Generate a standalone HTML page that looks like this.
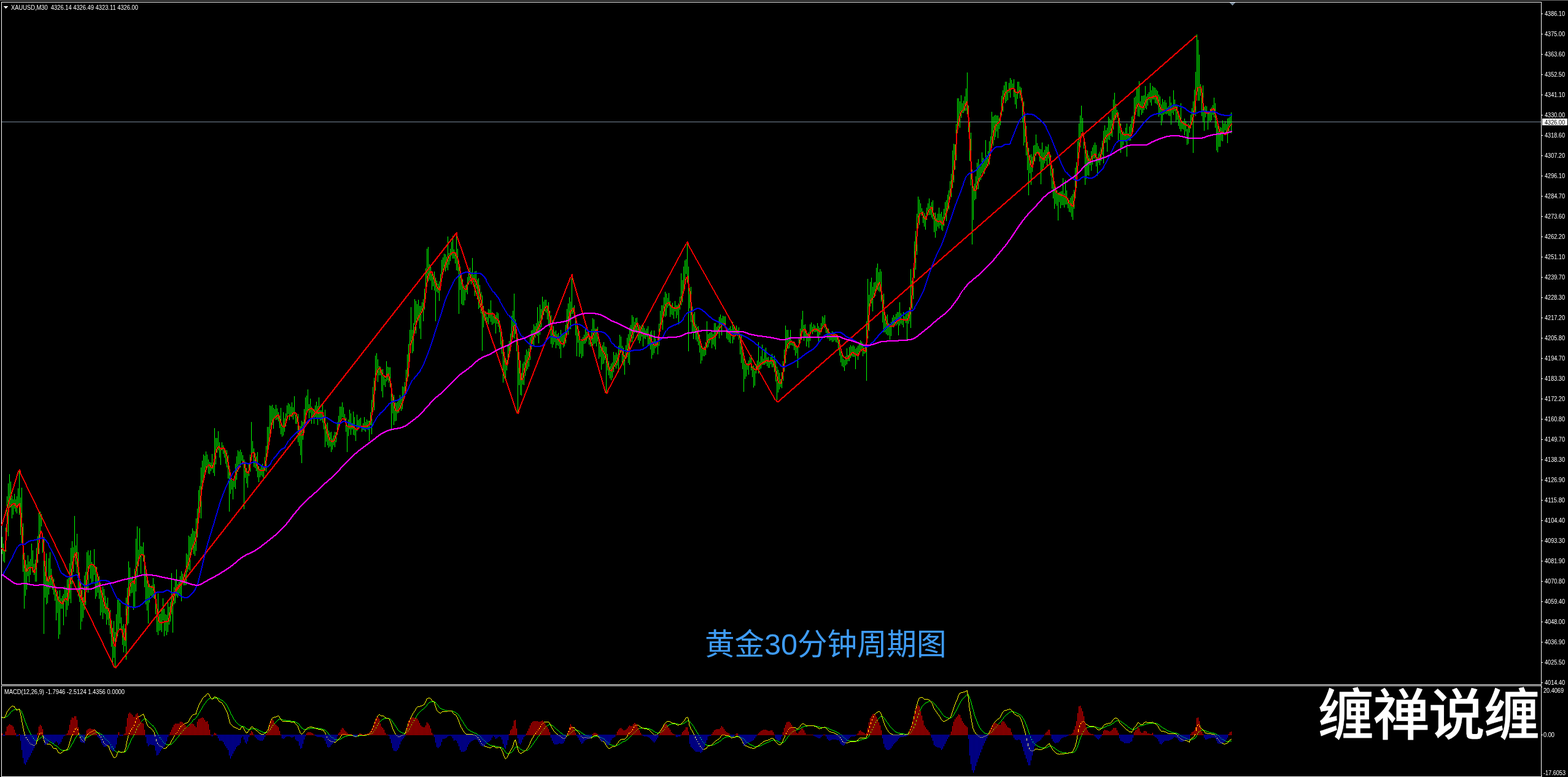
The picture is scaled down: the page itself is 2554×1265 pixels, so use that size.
<!DOCTYPE html>
<html lang="zh"><head><meta charset="utf-8"><title>XAUUSD,M30</title>
<style>
html,body{margin:0;padding:0;background:#000;overflow:hidden}
body{width:2554px;height:1265px;position:relative}
svg{position:absolute;left:0;top:0;display:block}
text{font-family:"Liberation Sans", "Noto Sans CJK SC", sans-serif;}
.ax{font-size:10px;fill:#fff}
.l{fill:none;stroke-width:2;stroke-linejoin:round;stroke-linecap:butt}
</style></head><body>
<svg width="2554" height="1265" viewBox="0 0 2554 1265">
<rect width="2554" height="1265" fill="#000"/>
<g shape-rendering="crispEdges">
<rect x="0" y="0" width="2554" height="1" fill="#707070"/>
<path d="M2.5 1114.5V3.5H2510.5V1265" fill="none" stroke="#fff" stroke-width="1"/>
<path d="M2 1114.5H2511" fill="none" stroke="#fff" stroke-width="1"/>
<path d="M2.5 1265V1116.5H2511" fill="none" stroke="#fff" stroke-width="1"/>
<path d="M2 1264.5H2511" fill="none" stroke="#fff" stroke-width="1"/>
<path d="M2511 22.5H2513M2511 55.5H2513M2511 88.5H2513M2511 121.5H2513M2511 154.5H2513M2511 187.5H2513M2511 220.5H2513M2511 253.5H2513M2511 286.5H2513M2511 319.5H2513M2511 352.5H2513M2511 385.5H2513M2511 418.5H2513M2511 451.5H2513M2511 484.5H2513M2511 517.5H2513M2511 550.5H2513M2511 583.5H2513M2511 616.5H2513M2511 649.5H2513M2511 682.5H2513M2511 715.5H2513M2511 748.5H2513M2511 781.5H2513M2511 814.5H2513M2511 847.5H2513M2511 880.5H2513M2511 913.5H2513M2511 946.5H2513M2511 979.5H2513M2511 1012.5H2513M2511 1045.5H2513M2511 1078.5H2513M2511 1111.5H2513M2511 1118.5H2512M2511 1196.5H2513M2511 1263.5H2512" stroke="#fff" stroke-width="1" fill="none"/>
<rect x="3" y="198" width="2507" height="1" fill="#778899"/>
<path d="M3.5 874V902M5.5 885V914M7.5 895V916M9.5 859V898M11.5 808V866M13.5 787V873M15.5 772V824M17.5 784V826M19.5 807V844M21.5 813V838M23.5 804V828M25.5 813V833M27.5 808V836M29.5 795V822M31.5 765V838M33.5 810V871M35.5 794V884M37.5 852V931M39.5 900V991M41.5 912V970M43.5 919V960M45.5 904V938M47.5 914V948M49.5 910V936M51.5 885V922M53.5 896V932M55.5 918V936M57.5 911V947M59.5 892V947M61.5 873V916M63.5 835V902M65.5 833V869M67.5 837V857M69.5 868V900M71.5 874V1032M73.5 918V973M75.5 901V984M77.5 940V982M79.5 909V968M81.5 899V958M83.5 926V953M85.5 939V960M87.5 942V968M89.5 955V978M91.5 965V1010M93.5 962V998M95.5 971V1040M97.5 961V1033M99.5 974V991M101.5 970V991M103.5 967V1018M105.5 955V980M107.5 959V1004M109.5 943V993M111.5 941V986M113.5 917V975M115.5 892V982M117.5 881V951M119.5 891V931M121.5 840V902M123.5 888V919M125.5 869V933M127.5 899V971M129.5 933V980M131.5 948V1025M133.5 955V1012M135.5 972V1006M137.5 937V993M139.5 931V985M141.5 899V958M143.5 896V965M145.5 904V926M147.5 896V942M149.5 915V949M151.5 920V947M153.5 894V936M155.5 922V975M157.5 923V971M159.5 934V965M161.5 938V975M163.5 949V1002M165.5 961V997M167.5 955V1008M169.5 959V998M171.5 970V1000M173.5 982V1017M175.5 973V1009M177.5 990V1018M179.5 993V1032M181.5 1010V1053M183.5 1022V1079M185.5 1011V1071M187.5 1029V1086M189.5 1000V1042M191.5 976V1036M193.5 974V1025M195.5 981V1015M197.5 1005V1026M199.5 1019V1050M201.5 1016V1062M203.5 1023V1052M205.5 973V1074M207.5 957V1018M209.5 914V1015M211.5 924V971M213.5 940V966M215.5 938V965M217.5 945V993M219.5 926V988M221.5 877V963M223.5 857V940M225.5 895V922M227.5 860V904M229.5 889V934M231.5 890V904M233.5 883V914M235.5 904V956M237.5 932V984M239.5 943V994M241.5 950V1015M243.5 951V981M245.5 955V970M247.5 953V972M249.5 941V973M251.5 951V975M253.5 966V1000M255.5 984V1029M257.5 966V1034M259.5 1000V1027M261.5 999V1026M263.5 993V1029M265.5 974V1010M267.5 991V1036M269.5 1000V1027M271.5 1001V1034M273.5 981V1029M275.5 988V1017M277.5 980V1012M279.5 933V1000M281.5 966V1030M283.5 956V984M285.5 945V982M287.5 927V970M289.5 951V973M291.5 947V967M293.5 938V968M295.5 930V979M297.5 934V949M299.5 937V953M301.5 931V953M303.5 901V952M305.5 903V931M307.5 872V927M309.5 874V929M311.5 869V897M313.5 860V889M315.5 864V902M317.5 865V905M319.5 844V897M321.5 828V875M323.5 798V850M325.5 791V832M327.5 761V844M329.5 750V792M331.5 740V783M333.5 742V772M335.5 735V769M337.5 740V762M339.5 748V771M341.5 752V772M343.5 753V767M345.5 739V764M347.5 753V770M349.5 697V775M351.5 713V756M353.5 713V737M355.5 702V733M357.5 720V745M359.5 732V757M361.5 720V733M363.5 725V739M365.5 730V745M367.5 733V755M369.5 733V761M371.5 741V779M373.5 761V833M375.5 775V804M377.5 779V797M379.5 783V813M381.5 777V793M383.5 755V796M385.5 743V781M387.5 733V768M389.5 735V756M391.5 732V761M393.5 736V750M395.5 741V756M397.5 748V829M399.5 752V778M401.5 762V787M403.5 767V794M405.5 755V775M407.5 740V768M409.5 687V745M411.5 718V738M413.5 730V760M415.5 738V762M417.5 743V767M419.5 736V777M421.5 759V785M423.5 763V777M425.5 759V774M427.5 755V776M429.5 760V778M431.5 744V766M433.5 726V768M435.5 695V744M437.5 695V723M439.5 660V714M441.5 661V704M443.5 659V691M445.5 664V698M447.5 666V680M449.5 659V684M451.5 665V683M453.5 671V686M455.5 677V697M457.5 664V707M459.5 692V711M461.5 671V709M463.5 681V703M465.5 673V694M467.5 660V679M469.5 656V674M471.5 658V684M473.5 662V677M475.5 655V679M477.5 663V683M479.5 645V675M481.5 675V690M483.5 673V690M485.5 674V720M487.5 695V726M489.5 694V741M491.5 685V754M493.5 687V716M495.5 666V698M497.5 647V681M499.5 644V672M501.5 634V669M503.5 658V681M505.5 649V672M507.5 662V690M509.5 666V681M511.5 666V690M513.5 660V679M515.5 654V681M517.5 661V692M519.5 647V681M521.5 668V685M523.5 668V684M525.5 656V688M527.5 677V699M529.5 667V728M531.5 691V719M533.5 688V725M535.5 701V729M537.5 704V727M539.5 703V736M541.5 714V732M543.5 709V725M545.5 703V728M547.5 704V720M549.5 687V708M551.5 677V700M553.5 662V693M555.5 662V684M557.5 655V679M559.5 663V680M561.5 674V687M563.5 680V703M565.5 694V736M567.5 683V710M569.5 667V699M571.5 673V708M573.5 689V699M575.5 670V708M577.5 679V709M579.5 697V718M581.5 675V702M583.5 684V699M585.5 682V694M587.5 680V696M589.5 694V703M591.5 689V700M593.5 679V701M595.5 687V703M597.5 683V698M599.5 685V700M601.5 685V718M603.5 671V692M605.5 651V707M607.5 630V667M609.5 615V668M611.5 579V636M613.5 575V606M615.5 585V622M617.5 596V611M619.5 597V611M621.5 602V637M623.5 601V647M625.5 613V627M627.5 617V630M629.5 588V621M631.5 597V619M633.5 598V623M635.5 598V630M637.5 627V701M639.5 642V673M641.5 643V692M643.5 655V686M645.5 656V685M647.5 654V673M649.5 650V672M651.5 643V664M653.5 648V669M655.5 629V666M657.5 630V652M659.5 622V647M661.5 602V635M663.5 577V614M665.5 560V613M667.5 537V589M669.5 500V556M671.5 537V575M673.5 526V572M675.5 487V529M677.5 490V543M679.5 495V525M681.5 488V522M683.5 498V535M685.5 498V552M687.5 492V507M689.5 487V523M691.5 470V504M693.5 437V476M695.5 405V459M697.5 402V458M699.5 430V455M701.5 434V457M703.5 447V472M705.5 446V466M707.5 442V473M709.5 452V523M711.5 457V475M713.5 462V477M715.5 458V490M717.5 446V467M719.5 423V453M721.5 419V444M723.5 413V439M725.5 414V442M727.5 418V436M729.5 385V440M731.5 412V431M733.5 405V425M735.5 394V416M737.5 384V421M739.5 406V421M741.5 413V429M743.5 379V440M745.5 405V441M747.5 426V511M749.5 434V472M751.5 454V495M753.5 455V497M755.5 466V497M757.5 465V489M759.5 463V476M761.5 451V479M763.5 438V463M765.5 436V457M767.5 443V463M769.5 420V454M771.5 447V459M773.5 442V482M775.5 441V470M777.5 455V487M779.5 453V503M781.5 464V501M783.5 475V510M785.5 481V571M787.5 498V533M789.5 507V522M791.5 511V525M793.5 516V525M795.5 503V528M797.5 504V518M799.5 489V524M801.5 508V529M803.5 515V527M805.5 512V526M807.5 513V543M809.5 508V527M811.5 510V532M813.5 522V541M815.5 531V561M817.5 543V576M819.5 553V623M821.5 581V616M823.5 583V617M825.5 586V603M827.5 561V591M829.5 555V579M831.5 543V572M833.5 514V555M835.5 506V549M837.5 478V551M839.5 520V544M841.5 541V572M843.5 553V672M845.5 573V627M847.5 587V643M849.5 607V644M851.5 592V626M853.5 589V627M855.5 578V612M857.5 569V604M859.5 572V601M861.5 567V597M863.5 549V586M865.5 538V569M867.5 537V560M869.5 528V563M871.5 531V550M873.5 526V545M875.5 500V547M877.5 523V559M879.5 496V545M881.5 503V533M883.5 483V520M885.5 491V513M887.5 488V507M889.5 488V509M891.5 497V520M893.5 492V528M895.5 506V533M897.5 513V560M899.5 521V566M901.5 531V561M903.5 540V557M905.5 538V567M907.5 544V562M909.5 542V563M911.5 548V568M913.5 537V583M915.5 543V557M917.5 545V566M919.5 544V564M921.5 529V559M923.5 503V542M925.5 494V545M927.5 484V524M929.5 491V536M931.5 447V511M933.5 500V511M935.5 497V518M937.5 514V546M939.5 526V580M941.5 531V558M943.5 539V581M945.5 555V576M947.5 552V583M949.5 549V580M951.5 545V560M953.5 534V559M955.5 540V556M957.5 537V551M959.5 547V561M961.5 547V564M963.5 536V554M965.5 518V563M967.5 520V560M969.5 535V559M971.5 535V564M973.5 532V556M975.5 551V584M977.5 557V581M979.5 569V602M981.5 562V593M983.5 557V592M985.5 564V586M987.5 565V639M989.5 576V603M991.5 588V611M993.5 596V616M995.5 592V619M997.5 590V615M999.5 573V606M1001.5 578V597M1003.5 574V600M1005.5 577V595M1007.5 563V606M1009.5 545V572M1011.5 548V574M1013.5 563V590M1015.5 566V595M1017.5 578V610M1019.5 562V584M1021.5 550V581M1023.5 544V591M1025.5 533V594M1027.5 529V556M1029.5 513V557M1031.5 516V551M1033.5 524V542M1035.5 518V541M1037.5 517V542M1039.5 527V554M1041.5 529V559M1043.5 531V555M1045.5 529V548M1047.5 530V564M1049.5 534V551M1051.5 538V552M1053.5 535V548M1055.5 531V564M1057.5 545V563M1059.5 540V569M1061.5 538V584M1063.5 556V578M1065.5 538V575M1067.5 551V567M1069.5 555V565M1071.5 548V577M1073.5 527V563M1075.5 506V540M1077.5 497V528M1079.5 497V537M1081.5 484V514M1083.5 475V516M1085.5 478V514M1087.5 485V501M1089.5 477V498M1091.5 490V516M1093.5 496V512M1095.5 493V513M1097.5 500V519M1099.5 490V507M1101.5 497V518M1103.5 497V513M1105.5 494V528M1107.5 483V504M1109.5 445V497M1111.5 456V492M1113.5 434V478M1115.5 424V460M1117.5 422V446M1119.5 395V460M1121.5 434V572M1123.5 469V502M1125.5 467V524M1127.5 499V541M1129.5 511V552M1131.5 508V542M1133.5 528V553M1135.5 532V556M1137.5 531V562M1139.5 545V574M1141.5 557V592M1143.5 566V587M1145.5 566V580M1147.5 564V580M1149.5 557V578M1151.5 523V567M1153.5 544V565M1155.5 542V559M1157.5 541V554M1159.5 541V567M1161.5 544V561M1163.5 526V564M1165.5 526V569M1167.5 532V546M1169.5 530V543M1171.5 516V551M1173.5 512V529M1175.5 518V546M1177.5 514V530M1179.5 515V531M1181.5 515V532M1183.5 536V551M1185.5 536V553M1187.5 534V557M1189.5 531V559M1191.5 536V547M1193.5 524V559M1195.5 530V553M1197.5 533V545M1199.5 530V545M1201.5 537V547M1203.5 533V553M1205.5 546V577M1207.5 544V591M1209.5 574V601M1211.5 576V638M1213.5 592V617M1215.5 591V613M1217.5 591V602M1219.5 587V610M1221.5 581V594M1223.5 578V603M1225.5 596V614M1227.5 595V631M1229.5 604V628M1231.5 593V608M1233.5 587V601M1235.5 557V608M1237.5 589V602M1239.5 580V600M1241.5 561V594M1243.5 584V594M1245.5 569V594M1247.5 566V592M1249.5 582V596M1251.5 581V599M1253.5 589V599M1255.5 581V593M1257.5 576V598M1259.5 585V598M1261.5 579V606M1263.5 588V621M1265.5 597V654M1267.5 602V639M1269.5 607V634M1271.5 617V630M1273.5 606V632M1275.5 588V620M1277.5 569V605M1279.5 530V591M1281.5 537V572M1283.5 537V568M1285.5 549V567M1287.5 537V562M1289.5 554V562M1291.5 556V563M1293.5 556V570M1295.5 562V579M1297.5 562V575M1299.5 564V599M1301.5 550V566M1303.5 535V555M1305.5 520V553M1307.5 506V540M1309.5 529V555M1311.5 528V548M1313.5 539V564M1315.5 543V556M1317.5 541V566M1319.5 528V555M1321.5 525V539M1323.5 532V544M1325.5 528V540M1327.5 530V541M1329.5 534V540M1331.5 526V550M1333.5 531V556M1335.5 534V545M1337.5 526V541M1339.5 515V531M1341.5 517V529M1343.5 513V534M1345.5 528V542M1347.5 535V551M1349.5 535V551M1351.5 541V555M1353.5 543V554M1355.5 539V557M1357.5 542V556M1359.5 543V554M1361.5 544V557M1363.5 546V558M1365.5 550V568M1367.5 553V579M1369.5 566V590M1371.5 572V596M1373.5 584V598M1375.5 586V604M1377.5 580V595M1379.5 567V593M1381.5 578V588M1383.5 565V588M1385.5 562V583M1387.5 564V580M1389.5 562V581M1391.5 564V581M1393.5 568V601M1395.5 566V579M1397.5 563V586M1399.5 560V575M1401.5 554V571M1403.5 556V568M1405.5 559V580M1407.5 566V576M1409.5 563V575M1411.5 523V620M1413.5 454V551M1415.5 480V539M1417.5 459V493M1419.5 452V494M1421.5 467V507M1423.5 460V482M1425.5 459V482M1427.5 436V471M1429.5 429V472M1431.5 443V474M1433.5 438V476M1435.5 442V491M1437.5 481V525M1439.5 478V541M1441.5 511V541M1443.5 515V544M1445.5 512V546M1447.5 526V546M1449.5 530V553M1451.5 524V547M1453.5 517V531M1455.5 513V533M1457.5 516V530M1459.5 511V530M1461.5 508V528M1463.5 508V546M1465.5 492V530M1467.5 510V527M1469.5 519V529M1471.5 508V533M1473.5 515V522M1475.5 508V526M1477.5 510V553M1479.5 507V527M1481.5 500V523M1483.5 438V534M1485.5 457V503M1487.5 446V487M1489.5 393V453M1491.5 376V439M1493.5 348V415M1495.5 320V370M1497.5 325V366M1499.5 331V346M1501.5 339V351M1503.5 344V363M1505.5 347V369M1507.5 351V374M1509.5 338V358M1511.5 331V350M1513.5 323V350M1515.5 335V350M1517.5 329V354M1519.5 326V357M1521.5 347V378M1523.5 346V387M1525.5 355V376M1527.5 348V369M1529.5 338V372M1531.5 348V367M1533.5 345V374M1535.5 353V376M1537.5 340V368M1539.5 329V351M1541.5 326V360M1543.5 317V344M1545.5 310V341M1547.5 295V325M1549.5 283V321M1551.5 245V306M1553.5 234V297M1555.5 235V276M1557.5 202V261M1559.5 160V216M1561.5 160V205M1563.5 165V208M1565.5 155V192M1567.5 168V184M1569.5 164V184M1571.5 157V181M1573.5 144V180M1575.5 118V186M1577.5 172V215M1579.5 198V262M1581.5 216V302M1583.5 276V398M1585.5 307V358M1587.5 299V326M1589.5 287V324M1591.5 265V308M1593.5 259V308M1595.5 268V296M1597.5 271V293M1599.5 248V282M1601.5 257V282M1603.5 260V283M1605.5 228V276M1607.5 253V270M1609.5 246V267M1611.5 230V268M1613.5 222V252M1615.5 182V235M1617.5 190V237M1619.5 188V228M1621.5 187V223M1623.5 188V214M1625.5 188V225M1627.5 193V210M1629.5 183V204M1631.5 156V188M1633.5 147V182M1635.5 139V162M1637.5 133V168M1639.5 133V165M1641.5 146V163M1643.5 135V151M1645.5 127V159M1647.5 130V145M1649.5 136V144M1651.5 129V158M1653.5 147V170M1655.5 153V177M1657.5 133V161M1659.5 133V152M1661.5 141V160M1663.5 143V164M1665.5 159V199M1667.5 165V237M1669.5 185V232M1671.5 205V253M1673.5 231V277M1675.5 241V318M1677.5 253V282M1679.5 251V301M1681.5 255V280M1683.5 237V268M1685.5 236V263M1687.5 219V253M1689.5 233V249M1691.5 238V252M1693.5 242V263M1695.5 243V300M1697.5 232V277M1699.5 248V273M1701.5 244V266M1703.5 238V262M1705.5 239V270M1707.5 235V258M1709.5 247V269M1711.5 253V286M1713.5 270V307M1715.5 274V323M1717.5 301V340M1719.5 304V332M1721.5 310V335M1723.5 314V359M1725.5 313V329M1727.5 312V339M1729.5 311V334M1731.5 290V334M1733.5 315V338M1735.5 293V333M1737.5 310V333M1739.5 322V339M1741.5 326V345M1743.5 322V346M1745.5 319V353M1747.5 316V358M1749.5 309V340M1751.5 273V323M1753.5 264V306M1755.5 230V281M1757.5 201V248M1759.5 188V240M1761.5 172V215M1763.5 192V222M1765.5 222V242M1767.5 239V301M1769.5 254V291M1771.5 245V285M1773.5 253V286M1775.5 257V269M1777.5 246V278M1779.5 240V268M1781.5 236V258M1783.5 232V258M1785.5 236V271M1787.5 256V286M1789.5 250V265M1791.5 247V269M1793.5 240V262M1795.5 229V252M1797.5 213V266M1799.5 204V233M1801.5 212V232M1803.5 208V247M1805.5 190V227M1807.5 193V228M1809.5 195V221M1811.5 180V223M1813.5 162V211M1815.5 151V196M1817.5 169V195M1819.5 179V190M1821.5 183V229M1823.5 192V217M1825.5 201V249M1827.5 214V240M1829.5 214V236M1831.5 216V230M1833.5 208V231M1835.5 201V255M1837.5 217V228M1839.5 206V229M1841.5 202V229M1843.5 190V221M1845.5 188V213M1847.5 159V198M1849.5 157V187M1851.5 143V172M1853.5 144V189M1855.5 132V190M1857.5 165V179M1859.5 156V187M1861.5 156V184M1863.5 155V179M1865.5 140V176M1867.5 157V178M1869.5 153V172M1871.5 150V163M1873.5 135V167M1875.5 147V172M1877.5 140V162M1879.5 142V162M1881.5 143V168M1883.5 146V169M1885.5 148V171M1887.5 154V190M1889.5 157V187M1891.5 170V204M1893.5 161V197M1895.5 166V187M1897.5 163V185M1899.5 167V186M1901.5 175V185M1903.5 173V188M1905.5 157V189M1907.5 167V203M1909.5 174V184M1911.5 147V187M1913.5 162V181M1915.5 170V199M1917.5 172V195M1919.5 181V205M1921.5 192V210M1923.5 168V214M1925.5 197V210M1927.5 197V211M1929.5 193V220M1931.5 197V214M1933.5 210V236M1935.5 201V234M1937.5 203V216M1939.5 187V209M1941.5 176V203M1943.5 165V249M1945.5 146V185M1947.5 117V189M1949.5 56V145M1951.5 65V164M1953.5 89V164M1955.5 137V156M1957.5 148V189M1959.5 139V199M1961.5 174V213M1963.5 172V191M1965.5 173V185M1967.5 185V211M1969.5 182V197M1971.5 177V198M1973.5 175V196M1975.5 171V187M1977.5 159V191M1979.5 168V208M1981.5 197V245M1983.5 203V248M1985.5 208V239M1987.5 207V239M1989.5 208V229M1991.5 196V230M1993.5 201V217M1995.5 197V212M1997.5 202V218M1999.5 193V233M2001.5 192V216M2003.5 190V205M2005.5 183V217" stroke="#00ff00" stroke-width="1" fill="none"/>
<path d="M3 853V856M4 850V853M5 846V850M6 843V846M7 840V843M8 837V840M9 833V837M10 830V833M11 827V830M12 824V827M13 821V824M14 817V821M15 814V817M16 811V814M17 808V811M18 804V808M19 801V804M20 798V801M21 795V798M22 792V795M23 788V792M24 785V788M25 782V785M26 779V782M27 775V779M28 772V775M29 769V772M30 766V769M32 764V767M33 766V769M33 769V771M34 771V773M35 773V775M36 775V777M37 777V779M38 779V781M39 781V783M40 783V785M41 785V787M42 787V789M43 789V792M44 792V794M45 794V796M46 796V798M47 798V800M48 800V802M49 802V804M50 804V806M51 806V808M52 808V810M53 810V812M54 812V814M55 814V816M56 816V818M57 818V820M58 820V822M59 822V825M60 825V827M61 827V829M62 829V831M63 831V833M64 833V835M65 835V837M66 837V839M67 839V841M68 841V843M69 843V845M70 845V847M71 847V849M72 849V851M73 851V853M74 853V856M75 856V858M76 858V860M77 860V862M78 862V864M79 864V866M80 866V868M81 868V870M82 870V872M83 872V874M84 874V876M85 876V878M86 878V880M87 880V882M88 882V884M89 884V886M90 886V889M91 889V891M92 891V893M93 893V895M94 895V897M95 897V899M96 899V901M97 901V903M98 903V905M99 905V907M100 907V909M101 909V911M102 911V913M103 913V915M104 915V917M105 917V919M106 919V922M107 922V924M108 924V926M109 926V928M110 928V930M111 930V932M112 932V934M113 934V936M114 936V938M115 938V940M116 940V942M117 942V944M118 944V946M119 946V948M120 948V950M121 950V953M122 953V955M123 955V957M124 957V959M125 959V961M126 961V963M127 963V965M128 965V967M129 967V969M130 969V971M131 971V973M132 973V975M133 975V977M134 977V979M135 979V981M136 981V983M137 983V986M138 986V988M139 988V990M140 990V992M141 992V994M142 994V996M143 996V998M144 998V1000M145 1000V1002M146 1002V1004M147 1004V1006M148 1006V1008M149 1008V1010M150 1010V1012M151 1012V1014M152 1014V1017M153 1017V1019M154 1019V1021M155 1021V1023M156 1023V1025M157 1025V1027M158 1027V1029M159 1029V1031M160 1031V1033M161 1033V1035M162 1035V1037M163 1037V1039M164 1039V1041M165 1041V1043M166 1043V1045M167 1045V1047M168 1047V1050M169 1050V1052M170 1052V1054M171 1054V1056M172 1056V1058M173 1058V1060M174 1060V1062M175 1062V1064M176 1064V1066M177 1066V1068M178 1068V1070M179 1070V1072M180 1072V1074M181 1074V1076M182 1076V1078M183 1078V1080M184 1080V1083M185 1083V1085M186 1085V1087M188 1086V1088M189 1085V1088M190 1084V1086M191 1083V1085M192 1082V1084M193 1080V1083M194 1079V1081M195 1078V1080M196 1077V1079M197 1075V1078M198 1074V1076M199 1073V1075M200 1071V1074M201 1070V1072M202 1069V1071M203 1068V1070M204 1066V1069M205 1065V1067M206 1064V1066M207 1063V1065M208 1061V1064M209 1060V1062M210 1059V1061M211 1057V1060M212 1056V1058M213 1055V1057M214 1054V1056M215 1052V1055M216 1051V1053M217 1050V1052M218 1048V1051M219 1047V1049M220 1046V1048M221 1045V1047M222 1043V1046M223 1042V1044M224 1041V1043M225 1040V1042M226 1038V1041M227 1037V1039M228 1036V1038M229 1034V1037M230 1033V1035M231 1032V1034M232 1031V1033M233 1029V1032M234 1028V1030M235 1027V1029M236 1026V1028M237 1024V1027M238 1023V1025M239 1022V1024M240 1020V1023M241 1019V1021M242 1018V1020M243 1017V1019M244 1015V1018M245 1014V1016M246 1013V1015M247 1011V1014M248 1010V1012M249 1009V1011M250 1008V1010M251 1006V1009M252 1005V1007M253 1004V1006M254 1003V1005M255 1001V1004M256 1000V1002M257 999V1001M258 997V1000M259 996V998M260 995V997M261 994V996M262 992V995M263 991V993M264 990V992M265 989V991M266 987V990M267 986V988M268 985V987M269 983V986M270 982V984M271 981V983M272 980V982M273 978V981M274 977V979M275 976V978M276 975V977M277 973V976M278 972V974M279 971V973M280 969V972M281 968V970M282 967V969M283 966V968M284 964V967M285 963V965M286 962V964M287 960V963M288 959V961M289 958V960M290 957V959M291 955V958M292 954V956M293 953V955M294 952V954M295 950V953M296 949V951M297 948V950M298 946V949M299 945V947M300 944V946M301 943V945M302 941V944M303 940V942M304 939V941M305 938V940M306 936V939M307 935V937M308 934V936M309 932V935M310 931V933M311 930V932M312 929V931M313 927V930M314 926V928M315 925V927M316 923V926M317 922V924M318 921V923M319 920V922M320 918V921M321 917V919M322 916V918M323 915V917M324 913V916M325 912V914M326 911V913M327 909V912M328 908V910M329 907V909M330 906V908M331 904V907M332 903V905M333 902V904M334 901V903M335 899V902M336 898V900M337 897V899M338 895V898M339 894V896M340 893V895M341 892V894M342 890V893M343 889V891M344 888V890M345 887V889M346 885V888M347 884V886M348 883V885M349 881V884M350 880V882M351 879V881M352 878V880M353 876V879M354 875V877M355 874V876M356 872V875M357 871V873M358 870V872M359 869V871M360 867V870M361 866V868M362 865V867M363 864V866M364 862V865M365 861V863M366 860V862M367 858V861M368 857V859M369 856V858M370 855V857M371 853V856M372 852V854M373 851V853M374 850V852M375 848V851M376 847V849M377 846V848M378 844V847M379 843V845M380 842V844M381 841V843M382 839V842M383 838V840M384 837V839M385 835V838M386 834V836M387 833V835M388 832V834M389 830V833M390 829V831M391 828V830M392 827V829M393 825V828M394 824V826M395 823V825M396 821V824M397 820V822M398 819V821M399 818V820M400 816V819M401 815V817M402 814V816M403 813V815M404 811V814M405 810V812M406 809V811M407 807V810M408 806V808M409 805V807M410 804V806M411 802V805M412 801V803M413 800V802M414 798V801M415 797V799M416 796V798M417 795V797M418 793V796M419 792V794M420 791V793M421 790V792M422 788V791M423 787V789M424 786V788M425 784V787M426 783V785M427 782V784M428 781V783M429 779V782M430 778V780M431 777V779M432 776V778M433 774V777M434 773V775M435 772V774M436 770V773M437 769V771M438 768V770M439 767V769M440 765V768M441 764V766M442 763V765M443 762V764M444 760V763M445 759V761M446 758V760M447 756V759M448 755V757M449 754V756M450 753V755M451 751V754M452 750V752M453 749V751M454 747V750M455 746V748M456 745V747M457 744V746M458 742V745M459 741V743M460 740V742M461 739V741M462 737V740M463 736V738M464 735V737M465 733V736M466 732V734M467 731V733M468 730V732M469 728V731M470 727V729M471 726V728M472 725V727M473 723V726M474 722V724M475 721V723M476 719V722M477 718V720M478 717V719M479 716V718M480 714V717M481 713V715M482 712V714M483 710V713M484 709V711M485 708V710M486 707V709M487 705V708M488 704V706M489 703V705M490 702V704M491 700V703M492 699V701M493 698V700M494 696V699M495 695V697M496 694V696M497 693V695M498 691V694M499 690V692M500 689V691M501 688V690M502 686V689M503 685V687M504 684V686M505 682V685M506 681V683M507 680V682M508 679V681M509 677V680M510 676V678M511 675V677M512 674V676M513 672V675M514 671V673M515 670V672M516 668V671M517 667V669M518 666V668M519 665V667M520 663V666M521 662V664M522 661V663M523 659V662M524 658V660M525 657V659M526 656V658M527 654V657M528 653V655M529 652V654M530 651V653M531 649V652M532 648V650M533 647V649M534 645V648M535 644V646M536 643V645M537 642V644M538 640V643M539 639V641M540 638V640M541 637V639M542 635V638M543 634V636M544 633V635M545 631V634M546 630V632M547 629V631M548 628V630M549 626V629M550 625V627M551 624V626M552 622V625M553 621V623M554 620V622M555 619V621M556 617V620M557 616V618M558 615V617M559 614V616M560 612V615M561 611V613M562 610V612M563 608V611M564 607V609M565 606V608M566 605V607M567 603V606M568 602V604M569 601V603M570 600V602M571 598V601M572 597V599M573 596V598M574 594V597M575 593V595M576 592V594M577 591V593M578 589V592M579 588V590M580 587V589M581 586V588M582 584V587M583 583V585M584 582V584M585 580V583M586 579V581M587 578V580M588 577V579M589 575V578M590 574V576M591 573V575M592 571V574M593 570V572M594 569V571M595 568V570M596 566V569M597 565V567M598 564V566M599 563V565M600 561V564M601 560V562M602 559V561M603 557V560M604 556V558M605 555V557M606 554V556M607 552V555M608 551V553M609 550V552M610 549V551M611 547V550M612 546V548M613 545V547M614 543V546M615 542V544M616 541V543M617 540V542M618 538V541M619 537V539M620 536V538M621 534V537M622 533V535M623 532V534M624 531V533M625 529V532M626 528V530M627 527V529M628 526V528M629 524V527M630 523V525M631 522V524M632 520V523M633 519V521M634 518V520M635 517V519M636 515V518M637 514V516M638 513V515M639 512V514M640 510V513M641 509V511M642 508V510M643 506V509M644 505V507M645 504V506M646 503V505M647 501V504M648 500V502M649 499V501M650 498V500M651 496V499M652 495V497M653 494V496M654 492V495M655 491V493M656 490V492M657 489V491M658 487V490M659 486V488M660 485V487M661 483V486M662 482V484M663 481V483M664 480V482M665 478V481M666 477V479M667 476V478M668 475V477M669 473V476M670 472V474M671 471V473M672 469V472M673 468V470M674 467V469M675 466V468M676 464V467M677 463V465M678 462V464M679 461V463M680 459V462M681 458V460M682 457V459M683 455V458M684 454V456M685 453V455M686 452V454M687 450V453M688 449V451M689 448V450M690 446V449M691 445V447M692 444V446M693 443V445M694 441V444M695 440V442M696 439V441M697 438V440M698 436V439M699 435V437M700 434V436M701 432V435M702 431V433M703 430V432M704 429V431M705 427V430M706 426V428M707 425V427M708 424V426M709 422V425M710 421V423M711 420V422M712 418V421M713 417V419M714 416V418M715 415V417M716 413V416M717 412V414M718 411V413M719 410V412M720 408V411M721 407V409M722 406V408M723 404V407M724 403V405M725 402V404M726 401V403M727 399V402M728 398V400M729 397V399M730 395V398M731 394V396M732 393V395M733 392V394M734 390V393M735 389V391M736 388V390M737 387V389M738 385V388M739 384V386M740 383V385M741 381V384M742 380V382M743 379V381M744 378V382M744 382V385M745 385V388M746 388V391M747 391V394M748 394V397M749 397V400M750 400V402M751 402V405M752 405V408M753 408V411M754 411V414M755 414V417M756 417V420M757 420V423M758 423V426M759 426V429M760 429V432M761 432V435M762 435V438M763 438V441M764 441V444M765 444V447M766 447V450M767 450V453M768 453V455M769 455V458M770 458V461M771 461V464M772 464V467M773 467V470M774 470V473M775 473V476M776 476V479M777 479V482M778 482V485M779 485V488M780 488V491M781 491V494M782 494V497M783 497V500M784 500V503M785 503V506M786 506V508M787 508V511M788 511V514M789 514V517M790 517V520M791 520V523M792 523V526M793 526V529M794 529V532M795 532V535M796 535V538M797 538V541M798 541V544M799 544V547M800 547V550M801 550V553M802 553V556M803 556V559M804 559V561M805 561V564M806 564V567M807 567V570M808 570V573M809 573V576M810 576V579M811 579V582M812 582V585M813 585V588M814 588V591M815 591V594M816 594V597M817 597V600M818 600V603M819 603V606M820 606V609M821 609V612M822 612V615M823 615V617M824 617V620M825 620V623M826 623V626M827 626V629M828 629V632M829 632V635M830 635V638M831 638V641M832 641V644M833 644V647M834 647V650M835 650V653M836 653V656M837 656V659M838 659V662M839 662V665M840 665V668M841 668V670M842 670V673M844 671V674M845 669V672M845 667V670M846 665V667M847 662V665M848 659V662M849 657V659M850 654V657M851 652V654M852 649V652M853 647V649M854 644V647M855 641V644M856 639V641M857 636V639M858 634V636M859 631V634M860 629V631M861 626V629M862 623V626M863 621V623M864 618V621M865 616V618M866 613V616M867 611V613M868 608V611M869 605V608M870 603V605M871 600V603M872 598V600M873 595V598M874 593V595M875 590V593M876 587V590M877 585V587M878 582V585M879 580V582M880 577V580M881 574V577M882 572V574M883 569V572M884 567V569M885 564V567M886 562V564M887 559V562M888 556V559M889 554V556M890 551V554M891 549V551M892 546V549M893 544V546M894 541V544M895 538V541M896 536V538M897 533V536M898 531V533M899 528V531M900 526V528M901 523V526M902 520V523M903 518V520M904 515V518M905 513V515M906 510V513M907 507V510M908 505V507M909 502V505M910 500V502M911 497V500M912 495V497M913 492V495M914 489V492M915 487V489M916 484V487M917 482V484M918 479V482M919 477V479M920 474V477M921 471V474M922 469V471M923 466V469M924 464V466M925 461V464M926 459V461M927 456V459M928 453V456M929 451V453M931 447V451M932 446V449M932 449V453M933 453V456M934 456V460M935 460V463M936 463V467M937 467V470M938 470V474M939 474V477M940 477V481M941 481V484M942 484V487M943 487V491M944 491V494M945 494V498M946 498V501M947 501V505M948 505V508M949 508V512M950 512V515M951 515V519M952 519V522M953 522V526M954 526V529M955 529V532M956 532V536M957 536V539M958 539V543M959 543V546M960 546V550M961 550V553M962 553V557M963 557V560M964 560V564M965 564V567M966 567V570M967 570V574M968 574V577M969 577V581M970 581V584M971 584V588M972 588V591M973 591V595M974 595V598M975 598V602M976 602V605M977 605V609M978 609V612M979 612V615M980 615V619M981 619V622M982 622V626M983 626V629M984 629V633M985 633V636M986 636V640M988 639V641M989 638V641M990 636V639M990 635V637M991 633V635M992 631V633M993 630V631M994 628V630M995 626V628M996 624V626M997 622V624M998 620V622M999 618V620M1000 616V618M1001 615V616M1002 613V615M1003 611V613M1004 609V611M1005 607V609M1006 605V607M1007 603V605M1008 601V603M1009 600V601M1010 598V600M1011 596V598M1012 594V596M1013 592V594M1014 590V592M1015 588V590M1016 586V588M1017 585V586M1018 583V585M1019 581V583M1020 579V581M1021 577V579M1022 575V577M1023 573V575M1024 571V573M1025 570V571M1026 568V570M1027 566V568M1028 564V566M1029 562V564M1030 560V562M1031 558V560M1032 556V558M1033 555V556M1034 553V555M1035 551V553M1036 549V551M1037 547V549M1038 545V547M1039 543V545M1040 541V543M1041 540V541M1042 538V540M1043 536V538M1044 534V536M1045 532V534M1046 530V532M1047 528V530M1048 526V528M1049 525V526M1050 523V525M1051 521V523M1052 519V521M1053 517V519M1054 515V517M1055 513V515M1056 511V513M1057 509V511M1058 508V509M1059 506V508M1060 504V506M1061 502V504M1062 500V502M1063 498V500M1064 496V498M1065 494V496M1066 493V494M1067 491V493M1068 489V491M1069 487V489M1070 485V487M1071 483V485M1072 481V483M1073 479V481M1074 478V479M1075 476V478M1076 474V476M1077 472V474M1078 470V472M1079 468V470M1080 466V468M1081 464V466M1082 463V464M1083 461V463M1084 459V461M1085 457V459M1086 455V457M1087 453V455M1088 451V453M1089 449V451M1090 448V449M1091 446V448M1092 444V446M1093 442V444M1094 440V442M1095 438V440M1096 436V438M1097 434V436M1098 433V434M1099 431V433M1100 429V431M1101 427V429M1102 425V427M1103 423V425M1104 421V423M1105 419V421M1106 418V419M1107 416V418M1108 414V416M1109 412V414M1110 410V412M1111 408V410M1112 406V408M1113 404V406M1114 403V404M1115 401V403M1116 399V401M1117 397V399M1119 394V397M1120 393V396M1121 395V398M1121 398V399M1122 399V401M1123 401V403M1124 403V405M1125 405V406M1126 406V408M1127 408V410M1128 410V412M1129 412V414M1130 414V415M1131 415V417M1132 417V419M1133 419V421M1134 421V423M1135 423V424M1136 424V426M1137 426V428M1138 428V430M1139 430V431M1140 431V433M1141 433V435M1142 435V437M1143 437V439M1144 439V440M1145 440V442M1146 442V444M1147 444V446M1148 446V447M1149 447V449M1150 449V451M1151 451V453M1152 453V455M1153 455V456M1154 456V458M1155 458V460M1156 460V462M1157 462V464M1158 464V465M1159 465V467M1160 467V469M1161 469V471M1162 471V472M1163 472V474M1164 474V476M1165 476V478M1166 478V480M1167 480V481M1168 481V483M1169 483V485M1170 485V487M1171 487V488M1172 488V490M1173 490V492M1174 492V494M1175 494V496M1176 496V497M1177 497V499M1178 499V501M1179 501V503M1180 503V504M1181 504V506M1182 506V508M1183 508V510M1184 510V512M1185 512V513M1186 513V515M1187 515V517M1188 517V519M1189 519V521M1190 521V522M1191 522V524M1192 524V526M1193 526V528M1194 528V529M1195 529V531M1196 531V533M1197 533V535M1198 535V537M1199 537V538M1200 538V540M1201 540V542M1202 542V544M1203 544V545M1204 545V547M1205 547V549M1206 549V551M1207 551V553M1208 553V554M1209 554V556M1210 556V558M1211 558V560M1212 560V562M1213 562V563M1214 563V565M1215 565V567M1216 567V569M1217 569V570M1218 570V572M1219 572V574M1220 574V576M1221 576V578M1222 578V579M1223 579V581M1224 581V583M1225 583V585M1226 585V586M1227 586V588M1228 588V590M1229 590V592M1230 592V594M1231 594V595M1232 595V597M1233 597V599M1234 599V601M1235 601V603M1236 603V604M1237 604V606M1238 606V608M1239 608V610M1240 610V611M1241 611V613M1242 613V615M1243 615V617M1244 617V619M1245 619V620M1246 620V622M1247 622V624M1248 624V626M1249 626V627M1250 627V629M1251 629V631M1252 631V633M1253 633V635M1254 635V636M1255 636V638M1256 638V640M1257 640V642M1258 642V643M1259 643V645M1260 645V647M1261 647V649M1262 649V651M1263 651V652M1265 651V654M1266 653V655M1267 653V655M1268 653V655M1269 652V654M1270 651V653M1271 650V652M1272 649V651M1273 648V650M1274 647V649M1275 646V648M1276 646V648M1277 645V647M1278 644V646M1279 643V645M1280 642V644M1281 641V643M1282 640V642M1283 639V641M1284 639V641M1285 638V640M1286 637V639M1287 636V638M1288 635V637M1289 634V636M1290 633V635M1291 632V634M1292 632V634M1293 631V633M1294 630V632M1295 629V631M1296 628V630M1297 627V629M1298 626V628M1299 625V627M1300 625V627M1301 624V626M1302 623V625M1303 622V624M1304 621V623M1305 620V622M1306 619V621M1307 618V620M1308 618V620M1309 617V619M1310 616V618M1311 615V617M1312 614V616M1313 613V615M1314 612V614M1315 611V613M1316 611V613M1317 610V612M1318 609V611M1319 608V610M1320 607V609M1321 606V608M1322 605V607M1323 604V606M1324 604V606M1325 603V605M1326 602V604M1327 601V603M1328 600V602M1329 599V601M1330 598V600M1331 597V599M1332 597V599M1333 596V598M1334 595V597M1335 594V596M1336 593V595M1337 592V594M1338 591V593M1339 590V592M1340 590V592M1341 589V591M1342 588V590M1343 587V589M1344 586V588M1345 585V587M1346 584V586M1347 583V585M1348 583V585M1349 582V584M1350 581V583M1351 580V582M1352 579V581M1353 578V580M1354 577V579M1355 576V578M1356 576V578M1357 575V577M1358 574V576M1359 573V575M1360 572V574M1361 571V573M1362 570V572M1363 569V571M1364 569V571M1365 568V570M1366 567V569M1367 566V568M1368 565V567M1369 564V566M1370 563V565M1371 562V564M1372 562V564M1373 561V563M1374 560V562M1375 559V561M1376 558V560M1377 557V559M1378 556V558M1379 555V557M1380 555V557M1381 554V556M1382 553V555M1383 552V554M1384 551V553M1385 550V552M1386 549V551M1387 548V550M1388 548V550M1389 547V549M1390 546V548M1391 545V547M1392 544V546M1393 543V545M1394 542V544M1395 541V543M1396 541V543M1397 540V542M1398 539V541M1399 538V540M1400 537V539M1401 536V538M1402 535V537M1403 534V536M1404 534V536M1405 533V535M1406 532V534M1407 531V533M1408 530V532M1409 529V531M1410 528V530M1411 527V529M1412 527V529M1413 526V528M1414 525V527M1415 524V526M1416 523V525M1417 522V524M1418 521V523M1419 520V522M1420 520V522M1421 519V521M1422 518V520M1423 517V519M1424 516V518M1425 515V517M1426 514V516M1427 513V515M1428 513V515M1429 512V514M1430 511V513M1431 510V512M1432 509V511M1433 508V510M1434 507V509M1435 506V508M1436 506V508M1437 505V507M1438 504V506M1439 503V505M1440 502V504M1441 501V503M1442 500V502M1443 499V501M1444 499V501M1445 498V500M1446 497V499M1447 496V498M1448 495V497M1449 494V496M1450 493V495M1451 492V494M1452 492V494M1453 491V493M1454 490V492M1455 489V491M1456 488V490M1457 487V489M1458 486V488M1459 485V487M1460 485V487M1461 484V486M1462 483V485M1463 482V484M1464 481V483M1465 480V482M1466 479V481M1467 478V480M1468 478V480M1469 477V479M1470 476V478M1471 475V477M1472 474V476M1473 473V475M1474 472V474M1475 471V473M1476 471V473M1477 470V472M1478 469V471M1479 468V470M1480 467V469M1481 466V468M1482 465V467M1483 464V466M1484 464V466M1485 463V465M1486 462V464M1487 461V463M1488 460V462M1489 459V461M1490 458V460M1491 457V459M1492 457V459M1493 456V458M1494 455V457M1495 454V456M1496 453V455M1497 452V454M1498 451V453M1499 450V452M1500 450V452M1501 449V451M1502 448V450M1503 447V449M1504 446V448M1505 445V447M1506 444V446M1507 443V445M1508 443V445M1509 442V444M1510 441V443M1511 440V442M1512 439V441M1513 438V440M1514 437V439M1515 436V438M1516 436V438M1517 435V437M1518 434V436M1519 433V435M1520 432V434M1521 431V433M1522 430V432M1523 429V431M1524 429V431M1525 428V430M1526 427V429M1527 426V428M1528 425V427M1529 424V426M1530 423V425M1531 422V424M1532 422V424M1533 421V423M1534 420V422M1535 419V421M1536 418V420M1537 417V419M1538 416V418M1539 415V417M1540 415V417M1541 414V416M1542 413V415M1543 412V414M1544 411V413M1545 410V412M1546 409V411M1547 408V410M1548 408V410M1549 407V409M1550 406V408M1551 405V407M1552 404V406M1553 403V405M1554 402V404M1555 401V403M1556 401V403M1557 400V402M1558 399V401M1559 398V400M1560 397V399M1561 396V398M1562 395V397M1563 394V396M1564 394V396M1565 393V395M1566 392V394M1567 391V393M1568 390V392M1569 389V391M1570 388V390M1571 387V389M1572 387V389M1573 386V388M1574 385V387M1575 384V386M1576 383V385M1577 382V384M1578 381V383M1579 380V382M1580 380V382M1581 379V381M1582 378V380M1583 377V379M1584 376V378M1585 375V377M1586 374V376M1587 373V375M1588 373V375M1589 372V374M1590 371V373M1591 370V372M1592 369V371M1593 368V370M1594 367V369M1595 366V368M1596 366V368M1597 365V367M1598 364V366M1599 363V365M1600 362V364M1601 361V363M1602 360V362M1603 359V361M1604 359V361M1605 358V360M1606 357V359M1607 356V358M1608 355V357M1609 354V356M1610 353V355M1611 352V354M1612 352V354M1613 351V353M1614 350V352M1615 349V351M1616 348V350M1617 347V349M1618 346V348M1619 345V347M1620 345V347M1621 344V346M1622 343V345M1623 342V344M1624 341V343M1625 340V342M1626 339V341M1627 338V340M1628 338V340M1629 337V339M1630 336V338M1631 335V337M1632 334V336M1633 333V335M1634 332V334M1635 331V333M1636 331V333M1637 330V332M1638 329V331M1639 328V330M1640 327V329M1641 326V328M1642 325V327M1643 324V326M1644 324V326M1645 323V325M1646 322V324M1647 321V323M1648 320V322M1649 319V321M1650 318V320M1651 317V319M1652 317V319M1653 316V318M1654 315V317M1655 314V316M1656 313V315M1657 312V314M1658 311V313M1659 310V312M1660 310V312M1661 309V311M1662 308V310M1663 307V309M1664 306V308M1665 305V307M1666 304V306M1667 303V305M1668 303V305M1669 302V304M1670 301V303M1671 300V302M1672 299V301M1673 298V300M1674 297V299M1675 296V298M1676 296V298M1677 295V297M1678 294V296M1679 293V295M1680 292V294M1681 291V293M1682 290V292M1683 289V291M1684 289V291M1685 288V290M1686 287V289M1687 286V288M1688 285V287M1689 284V286M1690 283V285M1691 282V284M1692 282V284M1693 281V283M1694 280V282M1695 279V281M1696 278V280M1697 277V279M1698 276V278M1699 275V277M1700 275V277M1701 274V276M1702 273V275M1703 272V274M1704 271V273M1705 270V272M1706 269V271M1707 268V270M1708 268V270M1709 267V269M1710 266V268M1711 265V267M1712 264V266M1713 263V265M1714 262V264M1715 261V263M1716 261V263M1717 260V262M1718 259V261M1719 258V260M1720 257V259M1721 256V258M1722 255V257M1723 254V256M1724 254V256M1725 253V255M1726 252V254M1727 251V253M1728 250V252M1729 249V251M1730 248V250M1731 247V249M1732 247V249M1733 246V248M1734 245V247M1735 244V246M1736 243V245M1737 242V244M1738 241V243M1739 240V242M1740 240V242M1741 239V241M1742 238V240M1743 237V239M1744 236V238M1745 235V237M1746 234V236M1747 233V235M1748 233V235M1749 232V234M1750 231V233M1751 230V232M1752 229V231M1753 228V230M1754 227V229M1755 226V228M1756 226V228M1757 225V227M1758 224V226M1759 223V225M1760 222V224M1761 221V223M1762 220V222M1763 219V221M1764 219V221M1765 218V220M1766 217V219M1767 216V218M1768 215V217M1769 214V216M1770 213V215M1771 212V214M1772 212V214M1773 211V213M1774 210V212M1775 209V211M1776 208V210M1777 207V209M1778 206V208M1779 205V207M1780 205V207M1781 204V206M1782 203V205M1783 202V204M1784 201V203M1785 200V202M1786 199V201M1787 198V200M1788 198V200M1789 197V199M1790 196V198M1791 195V197M1792 194V196M1793 193V195M1794 192V194M1795 191V193M1796 191V193M1797 190V192M1798 189V191M1799 188V190M1800 187V189M1801 186V188M1802 185V187M1803 184V186M1804 184V186M1805 183V185M1806 182V184M1807 181V183M1808 180V182M1809 179V181M1810 178V180M1811 177V179M1812 177V179M1813 176V178M1814 175V177M1815 174V176M1816 173V175M1817 172V174M1818 171V173M1819 170V172M1820 170V172M1821 169V171M1822 168V170M1823 167V169M1824 166V168M1825 165V167M1826 164V166M1827 163V165M1828 163V165M1829 162V164M1830 161V163M1831 160V162M1832 159V161M1833 158V160M1834 157V159M1835 156V158M1836 156V158M1837 155V157M1838 154V156M1839 153V155M1840 152V154M1841 151V153M1842 150V152M1843 149V151M1844 149V151M1845 148V150M1846 147V149M1847 146V148M1848 145V147M1849 144V146M1850 143V145M1851 142V144M1852 142V144M1853 141V143M1854 140V142M1855 139V141M1856 138V140M1857 137V139M1858 136V138M1859 135V137M1860 135V137M1861 134V136M1862 133V135M1863 132V134M1864 131V133M1865 130V132M1866 129V131M1867 128V130M1868 128V130M1869 127V129M1870 126V128M1871 125V127M1872 124V126M1873 123V125M1874 122V124M1875 121V123M1876 121V123M1877 120V122M1878 119V121M1879 118V120M1880 117V119M1881 116V118M1882 115V117M1883 114V116M1884 114V116M1885 113V115M1886 112V114M1887 111V113M1888 110V112M1889 109V111M1890 108V110M1891 107V109M1892 107V109M1893 106V108M1894 105V107M1895 104V106M1896 103V105M1897 102V104M1898 101V103M1899 100V102M1900 100V102M1901 99V101M1902 98V100M1903 97V99M1904 96V98M1905 95V97M1906 94V96M1907 93V95M1908 93V95M1909 92V94M1910 91V93M1911 90V92M1912 89V91M1913 88V90M1914 87V89M1915 86V88M1916 86V88M1917 85V87M1918 84V86M1919 83V85M1920 82V84M1921 81V83M1922 80V82M1923 79V81M1924 79V81M1925 78V80M1926 77V79M1927 76V78M1928 75V77M1929 74V76M1930 73V75M1931 72V74M1932 72V74M1933 71V73M1934 70V72M1935 69V71M1936 68V70M1937 67V69M1938 66V68M1939 65V67M1940 65V67M1941 64V66M1942 63V65M1943 62V64M1944 61V63M1945 60V62M1946 59V61M1947 58V60M1948 58V60" stroke="#ff0000" stroke-width="2" fill="none"/>
<path d="M3 892V894M5 893V896M6 895V897M7 895V897M8 895V898M8 895V896M9 880V895M10 865V880M11 853V865M12 840V853M13 834V840M14 827V834M15 826V827M16 824V826M18 822V824M19 821V823M20 820V822M21 820V822M22 819V821M23 819V821M24 819V822M25 821V824M26 823V825M27 824V826M28 824V827M29 822V825M30 821V823M31 820V822M32 819V823M32 823V826M33 826V835M34 835V843M35 843V858M36 858V872M37 872V888M38 888V903M39 903V911M40 911V920M41 920V925M42 925V930M43 930V931M45 927V930M45 926V928M47 924V926M48 923V925M49 923V925M50 923V925M51 923V925M52 923V925M53 924V927M53 927V929M55 928V932M56 931V933M57 929V932M57 927V930M58 924V927M59 917V924M60 911V917M61 902V911M62 893V902M63 884V893M64 876V884M65 870V876M66 865V870M67 864V866M68 866V868M69 868V875M70 875V883M71 883V898M72 898V913M73 913V922M74 922V931M75 931V938M76 938V945M77 945V946M79 944V946M79 943V947M80 939V943M81 938V939M83 937V939M84 936V939M84 939V941M85 941V944M86 944V947M87 947V950M88 950V953M89 953V957M90 957V960M91 960V964M92 964V967M93 967V971M94 971V975M95 975V977M96 977V979M97 979V980M99 979V982M100 981V983M101 981V983M102 981V984M103 979V982M103 978V980M105 975V978M106 974V976M107 974V976M108 974V976M109 975V977M110 974V978M110 972V975M111 965V972M112 958V965M113 951V958M114 944V951M115 938V944M116 932V938M117 926V932M118 920V926M119 914V920M120 908V914M121 905V908M122 901V905M124 899V902M125 901V903M125 903V909M126 909V914M127 914V923M128 923V932M129 932V943M130 943V954M131 954V961M132 961V968M133 968V973M134 973V978M135 978V979M137 978V980M138 979V981M138 978V980M139 964V978M140 951V964M141 944V951M142 936V944M143 931V936M144 925V931M145 922V925M146 920V922M148 918V920M149 918V920M150 918V920M151 918V920M152 919V921M153 920V922M154 921V923M155 922V924M156 923V926M156 926V927M157 927V931M158 931V934M159 934V939M160 939V943M161 943V947M162 947V951M163 951V956M164 956V961M165 961V965M166 965V969M167 969V973M168 973V977M169 977V980M170 980V984M171 984V987M172 987V990M173 990V991M175 989V991M176 990V992M177 991V993M177 992V995M178 995V997M179 997V1007M180 1007V1016M181 1016V1023M182 1023V1030M183 1030V1037M184 1037V1044M185 1044V1048M186 1048V1052M188 1048V1053M188 1045V1049M189 1039V1045M190 1032V1039M191 1030V1032M192 1027V1030M193 1026V1027M195 1024V1026M196 1023V1025M197 1024V1026M198 1024V1026M199 1025V1027M199 1027V1030M200 1030V1034M201 1034V1038M203 1037V1042M204 1035V1043M204 1030V1036M205 1016V1030M206 1002V1016M207 991V1002M208 981V991M209 970V981M210 960V970M211 955V960M212 950V955M213 949V950M214 948V949M216 946V948M217 946V948M218 947V949M219 948V950M219 943V951M220 935V943M221 930V935M222 925V930M223 922V925M224 919V922M225 914V919M226 910V914M227 907V910M228 904V907M230 902V904M231 902V904M232 902V904M233 903V905M234 903V906M234 906V908M235 908V915M236 915V921M237 921V927M238 927V933M239 933V939M240 939V945M241 945V950M242 950V955M243 955V956M245 954V956M246 954V956M247 955V957M248 955V957M249 955V957M250 955V957M250 957V958M251 958V962M252 962V967M253 967V975M254 975V983M255 983V991M256 991V999M257 999V1004M258 1004V1010M259 1010V1012M260 1012V1014M262 1013V1015M263 1013V1015M264 1013V1015M265 1012V1014M266 1012V1014M267 1012V1014M268 1011V1013M269 1011V1013M270 1011V1013M271 1011V1013M272 1011V1013M273 1011V1013M274 1009V1012M274 1009V1010M275 1006V1009M276 1002V1006M277 997V1002M278 992V997M279 987V992M280 982V987M281 978V982M282 974V978M283 970V974M284 967V970M285 963V967M286 960V963M287 958V960M288 956V958M290 954V956M291 953V955M292 952V954M293 951V953M294 951V953M295 950V952M296 949V952M296 949V950M297 946V949M298 943V946M299 939V943M300 935V939M301 932V935M302 929V932M303 926V929M304 924V926M305 921V924M306 918V921M307 915V918M308 912V915M309 908V912M310 904V908M311 899V904M312 895V899M313 892V895M314 889V892M315 887V889M316 885V887M317 882V885M318 880V882M319 875V880M320 869V875M321 861V869M322 852V861M323 843V852M324 835V843M325 825V835M326 816V825M327 807V816M328 797V807M329 792V797M330 786V792M331 782V786M332 778V782M333 773V778M334 769V773M335 765V769M336 761V765M337 759V761M338 758V759M340 756V758M341 756V758M342 757V760M343 759V761M344 760V762M345 760V762M346 760V762M347 759V761M347 757V760M348 753V757M349 747V753M350 742V747M351 737V742M352 733V737M353 731V733M354 728V731M356 726V728M357 727V729M358 728V730M359 729V731M360 730V732M361 729V731M362 729V731M363 729V731M364 728V730M365 729V731M366 730V733M366 733V734M367 734V737M368 737V739M369 739V743M370 743V746M371 746V752M372 752V758M373 758V764M374 764V769M375 769V774M376 774V778M377 778V780M378 780V781M380 780V782M381 781V783M381 779V783M382 775V779M383 773V775M384 770V773M385 768V770M386 767V768M387 765V767M388 763V765M389 761V763M390 759V761M391 757V759M392 755V757M393 754V755M395 752V754M396 751V753M397 752V754M398 752V755M398 755V757M399 757V762M400 762V766M401 766V768M402 768V770M404 769V771M405 769V771M405 766V771M406 762V766M407 756V762M408 750V756M409 744V750M410 738V744M411 737V738M413 736V738M414 736V739M414 739V741M415 741V745M416 745V748M417 748V752M418 752V756M419 756V759M420 759V763M421 763V764M422 764V766M424 765V767M425 765V767M426 765V767M427 765V767M428 765V767M429 765V767M430 765V767M430 764V766M431 759V764M432 755V759M433 750V755M434 744V750M435 738V744M436 732V738M437 725V732M438 719V725M439 712V719M440 706V712M441 699V706M442 692V699M443 688V692M444 685V688M445 683V685M446 681V683M447 680V681M449 678V680M450 677V679M451 676V678M452 675V677M453 675V677M454 675V678M454 678V680M455 680V682M456 682V685M457 685V688M458 688V691M459 691V693M460 693V695M462 694V696M463 694V696M464 693V695M464 692V694M465 689V692M466 685V689M467 682V685M468 678V682M469 677V678M471 676V678M472 676V678M473 676V678M474 676V678M475 675V677M476 674V676M477 672V675M478 671V673M479 671V673M480 671V673M481 671V673M482 672V674M483 673V675M483 675V678M484 678V681M485 681V687M486 687V693M487 693V701M488 701V708M489 708V709M490 708V709M492 707V709M493 707V709M494 706V709M494 705V707M495 697V705M496 690V697M497 683V690M498 676V683M499 672V676M500 669V672M501 668V669M503 666V668M504 665V667M505 665V667M506 664V666M507 664V666M508 664V666M509 665V667M510 666V668M511 667V669M512 668V670M513 669V671M514 670V672M515 671V673M516 671V673M517 671V673M518 672V674M519 671V673M520 671V673M521 671V673M522 671V673M523 671V673M524 671V673M525 671V673M526 671V674M526 674V676M527 676V680M528 680V685M529 685V689M530 689V694M531 694V698M532 698V702M533 702V706M534 706V709M535 709V712M536 712V715M537 715V717M538 717V718M540 717V719M541 718V720M542 718V720M543 717V719M544 716V718M545 715V717M545 714V716M546 712V714M547 709V712M548 707V709M549 703V707M550 700V703M551 696V700M552 693V696M553 689V693M554 686V689M555 685V686M556 683V685M558 681V683M559 681V683M560 681V683M561 681V683M562 682V684M562 684V686M563 686V689M564 689V692M565 692V694M566 694V695M568 694V696M569 694V696M570 694V696M571 694V696M572 694V696M573 693V695M574 693V695M575 694V696M576 694V696M577 695V697M578 696V698M579 697V699M580 698V700M581 698V700M582 698V700M583 697V699M584 696V699M585 695V697M586 694V696M587 694V696M588 693V695M589 693V695M590 693V695M591 693V695M592 693V695M593 693V695M594 693V695M595 693V695M596 693V695M597 693V695M598 693V695M599 692V694M600 691V693M601 691V693M602 689V692M602 688V690M603 685V688M604 682V685M605 676V682M606 671V676M607 663V671M608 655V663M609 642V655M610 630V642M611 620V630M612 611V620M613 607V611M614 603V607M615 602V603M616 600V602M618 598V600M619 599V601M620 600V603M620 603V605M621 605V607M622 607V609M623 609V610M624 610V612M626 611V613M627 612V614M628 613V615M629 612V614M630 611V613M631 609V612M632 608V610M633 609V611M633 611V613M634 613V616M635 616V620M636 620V624M637 624V632M638 632V641M639 641V646M640 646V652M641 652V656M642 656V661M643 661V665M644 665V668M645 668V669M647 668V670M648 668V670M649 667V669M650 665V668M651 664V666M652 663V665M652 662V664M653 660V662M654 658V660M655 656V658M656 653V656M657 650V653M658 647V650M659 642V647M660 637V642M661 629V637M662 621V629M663 615V621M664 609V615M665 599V609M666 589V599M667 575V589M668 562V575M669 559V562M670 556V559M671 554V556M672 552V554M673 547V552M674 543V547M675 538V543M676 532V538M677 529V532M678 525V529M679 522V525M680 519V522M681 517V519M682 515V517M683 513V515M684 512V513M685 510V512M686 509V510M687 507V509M688 505V507M689 502V505M690 500V502M691 493V500M692 487V493M693 477V487M694 467V477M695 460V467M696 453V460M697 449V453M698 446V449M699 445V446M701 442V445M702 441V443M703 442V444M704 442V445M704 445V447M705 447V449M706 449V451M707 451V455M708 455V459M709 459V461M710 461V464M711 464V467M712 467V469M713 469V470M715 469V472M716 471V473M717 471V473M717 466V473M718 459V466M719 453V459M720 447V453M721 443V447M722 440V443M723 437V440M724 434V437M725 431V434M726 428V431M727 426V428M728 423V426M729 421V423M730 418V421M731 417V418M732 415V417M734 413V415M735 412V414M736 411V413M737 410V412M738 410V412M739 410V412M740 410V412M741 411V413M742 411V414M743 413V415M743 415V417M744 417V419M745 419V421M746 421V424M747 424V430M748 430V435M749 435V441M750 441V447M751 447V453M752 453V459M753 459V463M754 463V466M755 466V469M756 469V471M758 470V472M759 470V472M760 468V472M760 467V469M761 464V467M762 461V464M763 460V461M764 458V460M766 456V458M767 455V457M768 454V456M769 454V456M770 453V455M771 453V455M772 453V455M773 454V456M774 455V457M775 456V459M776 458V460M776 460V462M777 462V464M778 464V466M779 466V470M780 470V474M781 474V478M782 478V483M783 483V488M784 488V494M785 494V498M786 498V502M787 502V505M788 505V507M789 507V508M791 507V510M792 509V511M793 509V511M794 509V511M795 510V512M796 510V512M797 510V512M798 510V512M799 510V512M800 510V512M801 510V512M802 509V511M803 510V512M804 510V512M805 511V514M805 514V516M806 516V518M807 518V519M809 518V520M810 519V521M811 520V522M812 521V523M812 523V525M813 525V527M814 527V530M815 530V535M816 535V540M817 540V548M818 548V555M819 555V564M820 564V573M821 573V580M822 580V587M823 587V590M824 590V594M826 592V595M827 590V593M827 586V591M828 582V586M829 576V582M830 571V576M831 565V571M832 559V565M833 553V559M834 546V553M835 539V546M836 532V539M837 531V532M839 529V531M840 529V533M840 533V536M841 536V543M842 543V550M843 550V562M844 562V573M845 573V586M846 586V599M847 599V608M848 608V618M849 618V619M851 617V619M851 615V619M852 611V615M853 607V611M854 603V607M855 599V603M856 594V599M857 591V594M858 588V591M859 586V588M860 584V586M861 582V584M862 580V582M863 573V580M864 565V573M865 560V565M866 555V560M867 553V555M868 550V553M869 548V550M870 546V548M871 544V546M872 542V544M873 540V542M874 538V540M875 536V538M876 534V536M877 532V534M878 530V532M879 528V530M880 526V528M881 522V526M882 518V522M883 513V518M884 508V513M885 506V508M886 504V506M887 502V504M889 499V502M890 498V500M891 498V500M892 498V501M892 501V503M893 503V506M894 506V510M895 510V515M896 515V521M897 521V527M898 527V532M899 532V537M900 537V543M901 543V545M902 545V547M903 547V548M905 547V549M906 548V550M907 549V551M908 550V552M909 551V553M910 552V554M911 553V556M912 555V557M913 556V559M914 558V560M915 558V560M916 559V561M917 559V561M918 559V561M919 557V560M919 556V558M920 553V556M921 550V553M922 546V550M923 540V546M924 534V540M925 527V534M926 520V527M927 515V520M928 509V515M929 507V509M930 505V507M931 504V505M933 502V504M934 501V503M935 502V504M935 504V508M936 508V513M937 513V517M938 517V522M939 522V526M940 526V531M941 531V536M942 536V542M943 542V547M944 547V553M945 553V554M946 553V554M948 553V555M949 553V555M950 552V554M951 552V554M952 552V554M953 551V553M954 550V553M955 549V551M956 548V550M957 547V549M958 546V548M959 546V548M960 547V549M961 547V549M962 548V550M963 549V551M964 549V552M965 548V550M965 546V549M966 544V546M967 542V544M968 541V542M970 539V541M971 537V540M972 536V538M973 537V539M973 538V543M974 543V548M975 548V552M976 552V557M977 557V560M978 560V564M979 564V566M980 566V569M981 569V571M982 571V573M983 573V574M984 574V576M985 576V577M986 577V579M987 579V583M988 583V587M989 587V591M990 591V595M991 595V598M992 598V601M993 601V603M995 602V604M996 603V605M997 602V604M997 601V603M998 599V601M999 597V599M1000 595V597M1001 594V595M1002 592V594M1003 591V592M1004 589V591M1005 587V589M1006 585V587M1007 582V585M1008 578V582M1009 575V578M1010 571V575M1011 570V571M1013 570V572M1014 570V573M1014 573V576M1015 576V578M1016 578V580M1017 580V581M1019 580V582M1020 580V583M1020 579V581M1021 575V579M1022 572V575M1023 568V572M1024 564V568M1025 559V564M1026 555V559M1027 551V555M1028 548V551M1029 545V548M1030 541V545M1031 539V541M1032 536V539M1033 533V536M1034 531V533M1035 529V531M1037 526V529M1038 525V527M1039 526V529M1039 529V532M1040 532V536M1041 536V538M1042 538V541M1043 541V542M1045 541V543M1046 542V544M1047 542V544M1048 543V545M1049 543V545M1050 543V545M1051 543V545M1052 543V545M1053 543V545M1054 543V545M1055 543V545M1056 543V545M1057 544V546M1058 545V548M1058 548V550M1059 550V552M1060 552V553M1061 553V556M1062 556V559M1063 559V560M1065 559V562M1066 561V563M1067 561V563M1068 561V563M1069 560V562M1070 560V562M1070 560V561M1071 555V560M1072 551V555M1073 545V551M1074 540V545M1075 535V540M1076 529V535M1077 525V529M1078 521V525M1079 517V521M1080 512V517M1081 507V512M1082 502V507M1083 499V502M1084 496V499M1085 495V496M1087 493V495M1088 492V494M1089 492V494M1090 492V494M1091 493V496M1091 496V497M1093 496V499M1094 498V500M1095 499V501M1096 500V502M1097 500V502M1098 500V502M1099 501V503M1100 501V503M1101 501V503M1102 501V503M1103 500V502M1104 500V502M1105 499V501M1106 499V501M1107 498V500M1107 496V499M1108 493V496M1109 490V493M1110 486V490M1111 482V486M1112 478V482M1113 474V478M1114 471V474M1115 463V471M1116 456V463M1117 454V456M1118 451V454M1120 449V453M1120 453V455M1121 455V462M1122 462V469M1123 469V474M1124 474V479M1125 479V492M1126 492V505M1127 505V513M1128 513V521M1129 521V525M1130 525V529M1131 529V531M1132 531V532M1133 532V534M1134 534V535M1135 535V538M1136 538V540M1137 540V544M1138 544V548M1139 548V552M1140 552V555M1141 555V559M1142 559V563M1143 563V566M1144 566V568M1146 567V569M1147 567V569M1148 568V570M1149 567V569M1149 565V568M1150 561V565M1151 558V561M1152 555V558M1153 554V555M1155 552V554M1156 551V553M1157 551V553M1158 550V552M1159 550V552M1160 550V552M1161 549V551M1162 548V550M1163 548V550M1164 547V549M1165 546V548M1166 545V547M1167 543V546M1168 542V544M1168 541V543M1169 540V541M1170 538V540M1171 536V538M1172 534V536M1173 532V534M1174 531V532M1175 529V531M1177 527V529M1178 526V528M1179 526V528M1180 526V529M1181 528V531M1181 531V533M1182 533V534M1183 534V537M1184 537V539M1185 539V540M1186 540V542M1188 541V543M1189 542V544M1190 543V545M1191 544V546M1192 545V547M1193 545V547M1194 546V548M1195 546V548M1196 546V548M1197 546V548M1198 545V547M1199 544V546M1200 543V545M1201 543V545M1202 542V544M1203 543V545M1204 543V546M1204 546V547M1205 547V550M1206 550V554M1207 554V559M1208 559V564M1209 564V569M1210 569V574M1211 574V579M1212 579V584M1213 584V587M1214 587V591M1215 591V592M1216 592V594M1218 593V595M1219 593V595M1220 593V595M1221 592V594M1222 591V593M1223 591V593M1224 592V595M1224 595V597M1225 597V599M1226 599V600M1228 599V601M1229 600V602M1230 601V603M1231 601V603M1232 601V603M1233 599V602M1234 598V600M1235 596V599M1236 595V597M1237 594V596M1238 593V595M1239 592V594M1240 591V593M1241 591V593M1242 590V592M1243 589V591M1244 589V591M1245 588V590M1246 588V590M1247 587V589M1248 586V588M1249 586V588M1250 586V588M1251 587V589M1252 587V589M1253 587V589M1254 587V589M1255 586V588M1256 586V588M1257 586V588M1258 586V588M1259 587V589M1260 587V590M1260 590V592M1261 592V595M1262 595V599M1263 599V604M1264 604V609M1265 609V613M1266 613V618M1267 618V620M1268 620V623M1269 623V624M1271 623V625M1272 622V625M1272 621V623M1273 617V621M1274 612V617M1275 606V612M1276 600V606M1277 592V600M1278 584V592M1279 578V584M1280 571V578M1281 567V571M1282 563V567M1283 560V563M1284 558V560M1286 556V558M1287 556V558M1288 555V557M1289 555V557M1290 556V558M1291 556V558M1292 556V558M1293 557V559M1294 557V560M1295 559V561M1295 561V563M1297 562V565M1298 564V566M1299 564V566M1300 563V565M1301 563V565M1301 561V564M1302 559V561M1303 553V559M1304 548V553M1305 543V548M1306 539V543M1307 538V539M1309 536V538M1310 535V537M1311 536V538M1312 536V539M1313 538V540M1313 540V542M1314 542V544M1315 544V545M1317 544V547M1318 546V548M1319 545V547M1319 544V546M1320 541V544M1321 540V541M1323 538V540M1324 537V539M1325 536V538M1326 535V537M1327 535V537M1328 535V537M1329 535V537M1330 535V537M1331 536V538M1332 536V538M1333 537V539M1334 538V540M1335 539V541M1336 539V541M1337 538V540M1338 537V540M1338 536V538M1339 534V536M1340 532V534M1341 530V532M1343 528V530M1344 527V529M1345 528V530M1345 530V532M1346 532V534M1347 534V536M1348 536V538M1349 538V540M1350 540V542M1351 542V543M1353 542V545M1354 544V546M1355 544V546M1356 545V547M1357 545V547M1358 545V547M1359 545V547M1360 544V546M1361 544V546M1362 544V546M1363 545V547M1364 545V548M1364 548V549M1365 549V553M1366 553V556M1367 556V560M1368 560V564M1369 564V568M1370 568V572M1371 572V575M1372 575V578M1373 578V580M1374 580V582M1376 581V583M1377 582V584M1378 583V585M1379 583V585M1380 582V584M1381 582V584M1382 581V584M1383 580V582M1383 579V581M1385 577V579M1386 575V578M1387 574V576M1388 573V575M1389 573V575M1390 573V575M1391 574V576M1392 575V577M1393 575V577M1394 576V578M1395 577V579M1396 577V579M1397 578V580M1398 577V580M1399 576V578M1399 575V577M1400 573V575M1401 572V573M1403 569V572M1404 568V570M1405 568V570M1406 567V569M1407 568V571M1408 570V572M1409 570V572M1410 569V573M1410 568V570M1411 558V568M1412 547V558M1413 537V547M1414 526V537M1415 513V526M1416 499V513M1417 494V499M1418 490V494M1419 488V490M1420 486V488M1421 485V486M1423 483V485M1424 481V484M1424 480V482M1425 477V480M1426 474V477M1427 471V474M1428 468V471M1429 465V468M1430 462V465M1431 461V462M1433 459V461M1433 460V463M1434 463V467M1435 467V474M1436 474V480M1437 480V488M1438 488V495M1439 495V502M1440 502V508M1441 508V513M1442 513V519M1443 519V522M1444 522V526M1445 526V528M1446 528V531M1448 530V532M1449 530V532M1450 530V532M1451 530V532M1452 530V532M1453 530V532M1454 530V532M1455 530V532M1456 529V532M1457 527V530M1457 527V528M1459 524V527M1460 523V525M1461 522V524M1462 521V523M1463 521V523M1464 520V522M1465 520V522M1466 519V521M1467 519V521M1468 519V521M1469 519V521M1470 519V521M1471 519V521M1472 520V522M1473 520V522M1474 520V522M1475 520V522M1476 520V522M1477 520V522M1478 520V522M1479 519V521M1479 518V520M1480 515V518M1481 512V515M1482 508V512M1483 501V508M1484 494V501M1485 481V494M1486 468V481M1487 452V468M1488 436V452M1489 428V436M1490 420V428M1491 409V420M1492 398V409M1493 385V398M1494 372V385M1495 363V372M1496 354V363M1497 351V354M1498 348V351M1499 347V348M1501 346V348M1502 345V348M1503 347V349M1503 349V351M1504 351V353M1505 353V355M1507 354V357M1508 355V358M1509 354V356M1509 352V355M1510 349V352M1511 346V349M1512 343V346M1513 342V343M1514 340V342M1516 338V340M1517 337V339M1518 337V340M1518 340V342M1519 342V346M1520 346V349M1521 349V352M1522 352V355M1523 355V357M1524 357V359M1525 359V360M1527 359V361M1528 360V362M1529 360V362M1530 359V361M1531 359V361M1532 359V361M1533 360V363M1534 362V364M1535 363V365M1536 363V366M1537 361V364M1537 359V362M1538 356V359M1539 353V356M1540 350V353M1541 347V350M1542 343V347M1543 339V343M1544 335V339M1545 330V335M1546 325V330M1547 320V325M1548 314V320M1549 307V314M1550 300V307M1551 293V300M1552 285V293M1553 277V285M1554 270V277M1555 261V270M1556 252V261M1557 235V252M1558 217V235M1559 211V217M1560 204V211M1561 199V204M1562 193V199M1563 189V193M1564 185V189M1565 183V185M1566 181V183M1567 180V181M1568 179V180M1570 176V179M1570 176V177M1571 173V176M1572 170V173M1573 168V170M1575 165V168M1575 165V171M1576 171V176M1577 176V191M1578 191V207M1579 207V226M1580 226V245M1581 245V263M1582 263V281M1583 281V292M1584 292V303M1585 303V306M1586 306V310M1587 310V311M1589 309V311M1590 307V310M1590 306V308M1591 302V306M1592 299V302M1593 295V299M1594 292V295M1595 290V292M1596 289V290M1598 287V289M1599 286V288M1600 285V287M1600 284V286M1601 282V284M1602 280V282M1603 278V280M1604 276V278M1605 274V276M1606 273V274M1607 271V273M1608 270V271M1609 267V270M1610 264V267M1611 259V264M1612 254V259M1613 248V254M1614 241V248M1615 234V241M1616 228V234M1617 222V228M1618 216V222M1619 212V216M1620 208V212M1621 205V208M1622 203V205M1623 202V203M1625 200V202M1626 199V201M1627 198V200M1628 197V199M1628 197V198M1629 191V197M1630 186V191M1631 180V186M1632 173V180M1633 168V173M1634 162V168M1635 158V162M1636 155V158M1637 152V155M1638 150V152M1639 149V150M1641 147V149M1642 146V148M1643 146V148M1644 145V147M1645 144V146M1646 144V146M1647 144V146M1648 143V145M1649 143V145M1650 143V145M1651 143V145M1652 144V146M1653 145V148M1653 148V150M1655 149V151M1656 150V152M1657 150V152M1658 150V152M1659 149V151M1660 148V150M1661 147V149M1662 147V149M1662 149V151M1663 151V155M1664 155V160M1665 160V167M1666 167V173M1667 173V182M1668 182V190M1669 190V200M1670 200V210M1671 210V222M1672 222V233M1673 233V240M1674 240V247M1675 247V252M1676 252V256M1677 256V261M1678 261V266M1679 266V269M1680 269V272M1682 269V273M1682 267V270M1683 262V267M1684 256V262M1685 254V256M1686 251V254M1687 250V251M1689 248V250M1690 247V249M1691 248V250M1692 248V251M1693 250V252M1693 252V254M1694 254V255M1695 255V257M1697 256V258M1698 257V259M1699 258V260M1700 259V261M1701 258V260M1701 257V259M1702 255V257M1703 254V255M1704 252V254M1706 250V252M1707 248V251M1708 247V249M1709 247V249M1709 247V251M1710 251V256M1711 256V262M1712 262V269M1713 269V275M1714 275V282M1715 282V289M1716 289V295M1717 295V300M1718 300V305M1719 305V309M1720 309V313M1721 313V314M1722 314V315M1724 314V316M1725 315V317M1726 315V317M1727 316V318M1728 316V318M1729 317V319M1730 317V319M1731 317V319M1732 318V320M1733 318V320M1734 319V321M1735 319V321M1736 320V322M1737 321V323M1738 322V324M1739 323V326M1740 325V327M1740 327V329M1741 329V331M1742 331V332M1744 331V333M1745 332V335M1746 334V336M1747 334V336M1748 334V337M1748 333V335M1749 327V333M1750 321V327M1751 312V321M1752 304V312M1753 293V304M1754 281V293M1755 270V281M1756 258V270M1757 248V258M1758 238V248M1759 232V238M1760 225V232M1761 221V225M1762 217V221M1764 215V218M1765 217V220M1765 220V225M1766 225V231M1767 231V237M1768 237V244M1769 244V250M1770 250V256M1771 256V258M1772 258V261M1773 261V262M1775 260V262M1776 261V263M1777 261V263M1777 259V262M1778 256V259M1779 254V256M1780 253V254M1782 251V253M1783 250V252M1784 250V252M1785 251V254M1785 254V256M1786 256V258M1788 257V259M1789 258V260M1790 258V260M1791 257V259M1792 256V258M1792 255V257M1793 251V255M1794 247V251M1795 243V247M1796 239V243M1797 233V239M1798 228V233M1799 226V228M1800 224V226M1801 223V224M1803 220V223M1804 219V221M1805 218V220M1806 218V220M1807 217V219M1808 216V218M1809 215V217M1810 214V217M1810 213V215M1811 209V213M1812 205V209M1813 201V205M1814 196V201M1815 192V196M1816 188V192M1817 187V188M1819 184V187M1820 183V186M1820 186V187M1821 187V192M1822 192V196M1823 196V201M1824 201V205M1825 205V208M1826 208V212M1827 212V215M1828 215V218M1829 218V219M1831 218V220M1832 219V221M1833 218V220M1834 218V220M1835 218V220M1836 218V220M1837 218V220M1838 218V220M1839 219V221M1840 220V222M1841 220V222M1842 220V222M1843 219V221M1843 218V220M1844 215V218M1845 208V215M1846 201V208M1847 194V201M1848 187V194M1849 182V187M1850 177V182M1851 174V177M1852 170V174M1854 168V170M1855 169V171M1856 170V173M1857 172V174M1858 173V175M1859 173V175M1860 174V176M1861 174V176M1862 174V176M1863 174V176M1863 172V175M1864 169V172M1865 167V169M1866 164V167M1867 163V164M1868 161V163M1870 159V161M1871 159V161M1872 158V160M1873 158V160M1874 158V160M1875 158V160M1876 158V160M1877 157V159M1878 157V159M1879 156V158M1880 156V158M1881 156V158M1882 155V157M1883 156V158M1884 157V159M1885 157V159M1885 159V162M1886 162V165M1887 165V168M1888 168V171M1889 171V174M1890 174V176M1891 176V178M1893 177V179M1894 178V180M1895 178V180M1896 179V181M1897 179V181M1898 179V181M1899 179V181M1900 179V181M1901 179V181M1902 179V181M1903 178V180M1904 178V180M1905 178V180M1906 178V180M1907 177V179M1908 177V179M1909 177V179M1910 176V178M1911 176V178M1912 175V177M1913 175V177M1914 174V176M1915 174V176M1916 174V177M1917 176V178M1917 178V180M1918 180V182M1919 182V185M1920 185V188M1921 188V191M1922 191V194M1923 194V196M1924 196V199M1925 199V200M1927 199V201M1928 200V202M1929 201V203M1930 201V203M1931 202V204M1932 202V204M1933 203V205M1934 203V205M1935 204V206M1936 205V207M1937 206V208M1938 207V209M1939 206V208M1939 204V207M1940 202V204M1941 199V202M1942 196V199M1943 191V196M1944 187V191M1945 180V187M1946 173V180M1947 164V173M1948 155V164M1949 149V155M1950 143V149M1951 142V143M1952 142V143M1954 141V143M1955 141V143M1956 141V143M1956 143V144M1957 144V151M1958 151V159M1959 159V168M1960 168V178M1961 178V181M1962 181V183M1964 182V184M1965 183V185M1966 183V185M1967 183V185M1968 183V185M1969 182V184M1970 182V184M1971 181V183M1972 180V182M1973 178V181M1974 177V179M1975 177V179M1976 176V178M1977 177V179M1978 177V180M1978 180V182M1979 182V185M1980 185V188M1981 188V192M1982 192V196M1983 196V201M1984 201V205M1985 205V210M1986 210V214M1987 214V215M1988 215V216M1990 214V216M1991 215V217M1992 215V217M1993 216V218M1994 217V219M1995 218V220M1996 218V220M1997 217V219M1998 216V219M1998 215V217M1999 213V215M2000 210V213M2001 208V210M2002 206V208M2003 205V206M2004 203V205M2006 201V203" stroke="#ff0000" stroke-width="2" fill="none"/>
<path d="M4 935V938M5 934V936M6 932V935M7 931V933M7 930V932M8 929V930M9 927V929M10 925V927M11 924V925M12 922V924M13 920V922M14 918V920M15 916V918M16 914V916M17 912V914M18 910V912M19 909V910M20 907V909M21 904V907M22 902V904M23 900V902M24 898V900M25 896V898M26 894V896M27 892V894M28 890V892M30 888V890M31 887V889M32 886V888M33 886V888M34 885V887M35 885V887M36 885V887M37 885V887M38 885V887M39 885V887M40 885V887M41 885V887M42 884V886M43 883V885M44 882V884M45 882V884M46 881V883M47 880V882M48 880V882M49 880V882M50 879V881M51 879V881M52 879V881M53 879V881M54 879V881M55 879V881M56 878V880M57 878V880M58 878V880M59 878V880M60 877V879M61 877V879M62 877V879M63 876V878M64 876V878M65 876V878M66 875V877M67 875V877M68 875V877M69 875V877M70 875V877M71 876V878M72 876V878M73 877V879M74 878V880M75 879V881M76 880V883M77 882V884M78 883V885M79 884V887M79 887V888M80 888V890M81 890V892M82 892V893M83 893V895M84 895V897M85 897V899M86 899V901M87 901V903M88 903V905M89 905V907M90 907V910M91 910V912M92 912V914M93 914V917M94 917V920M95 920V923M96 923V925M97 925V928M98 928V930M99 930V932M100 932V934M102 933V935M103 934V936M104 935V937M105 935V937M106 936V938M107 937V939M108 937V939M109 938V940M110 938V940M111 938V940M112 938V940M113 938V940M114 938V940M115 938V940M116 938V940M117 937V939M118 937V939M119 937V939M120 936V938M121 936V938M122 936V938M123 935V937M124 935V937M125 935V937M126 936V938M127 937V939M127 939V941M128 941V943M129 943V945M130 945V946M131 946V948M132 948V950M133 950V951M135 950V952M136 951V953M137 952V954M138 953V955M139 953V955M140 953V955M141 953V955M142 952V954M143 952V954M144 951V953M145 951V953M146 950V952M147 950V952M148 949V951M149 949V951M150 949V951M151 948V950M152 948V950M153 948V950M154 948V950M155 948V950M156 947V949M157 947V949M158 947V949M159 946V948M160 946V948M161 946V948M162 945V947M163 945V947M164 944V946M165 944V946M166 944V946M167 944V946M168 944V946M169 944V946M170 944V946M171 944V946M172 944V946M173 944V946M174 945V947M175 945V947M176 945V947M177 946V948M178 946V948M179 947V949M180 948V951M180 951V953M181 953V955M182 955V957M183 957V959M184 959V962M185 962V964M186 964V966M187 966V968M188 968V970M189 970V972M190 972V974M191 974V975M193 974V976M194 975V977M195 976V978M196 977V979M197 978V980M198 979V981M199 980V982M200 981V983M201 981V983M202 982V984M203 982V984M204 983V985M205 983V985M206 984V986M207 984V986M208 985V987M209 985V987M210 986V988M211 986V988M212 987V989M213 987V989M214 987V989M215 987V989M216 988V990M217 988V990M218 988V990M219 988V990M220 988V990M221 988V990M222 987V989M223 987V989M224 987V989M225 986V988M226 986V988M227 986V988M228 985V987M229 984V986M230 983V985M231 983V985M232 982V984M233 981V983M234 980V982M235 979V981M236 978V980M237 977V979M238 976V978M239 976V978M240 975V977M241 975V977M242 974V976M243 974V976M244 973V975M245 973V975M246 972V974M247 971V973M248 970V972M249 969V971M250 968V970M251 967V969M252 966V968M253 965V967M254 964V966M255 964V966M256 963V965M257 963V965M258 963V965M259 963V965M260 963V965M261 963V965M262 963V965M263 963V965M264 963V965M265 963V965M266 963V965M267 962V964M268 962V964M269 961V963M270 961V963M271 960V962M272 960V962M273 960V962M274 960V962M275 961V963M276 961V963M277 962V964M278 963V965M279 964V966M280 964V966M281 964V966M282 964V966M283 964V966M284 964V966M285 964V966M286 963V965M287 964V966M288 964V966M289 965V967M290 965V967M291 966V969M292 968V970M293 968V970M294 969V971M295 970V972M296 970V972M297 971V973M298 971V973M299 971V973M300 972V974M301 972V974M302 972V974M303 972V974M304 972V974M305 972V974M306 971V973M307 971V973M308 970V972M309 969V971M310 968V970M311 967V969M312 966V968M313 965V967M314 964V966M315 963V965M316 961V964M317 960V962M318 959V961M318 958V960M319 956V958M320 954V956M321 951V954M322 949V951M323 945V949M324 941V945M325 937V941M326 933V937M327 929V933M328 925V929M329 921V925M330 916V921M331 912V916M332 908V912M333 904V908M334 899V904M335 895V899M336 892V895M337 888V892M338 884V888M339 881V884M340 878V881M341 874V878M342 871V874M343 868V871M344 865V868M345 861V865M346 858V861M347 855V858M348 852V855M349 848V852M350 845V848M351 841V845M352 838V841M353 835V838M354 831V835M355 828V831M356 825V828M357 821V825M358 818V821M359 815V818M360 812V815M361 810V812M362 807V810M363 804V807M364 802V804M365 799V802M366 797V799M367 794V797M368 792V794M369 790V792M370 788V790M371 786V788M372 783V786M373 781V783M374 780V781M375 778V780M376 776V778M377 774V776M378 772V774M379 770V772M380 769V770M381 767V769M383 765V767M384 763V766M385 762V764M386 761V763M387 760V762M388 759V761M389 758V760M390 757V759M391 756V758M392 755V757M393 754V756M394 754V756M395 753V755M396 753V755M397 753V755M398 753V755M399 753V755M400 753V755M401 753V755M402 753V755M403 754V756M404 754V756M405 754V756M406 754V756M407 753V755M408 753V755M409 753V755M410 752V754M411 752V754M412 752V754M413 751V753M414 751V753M415 751V753M416 751V753M417 752V754M418 752V754M419 753V755M420 754V756M421 754V756M422 755V757M423 755V757M424 756V758M425 757V759M426 757V759M427 758V760M428 759V761M429 759V761M430 759V761M431 759V761M432 760V762M433 759V761M434 759V761M435 759V761M436 759V761M437 758V760M438 757V759M439 756V758M440 755V757M441 753V756M441 753V754M442 751V753M443 749V751M444 748V749M446 745V748M447 744V746M448 743V745M449 742V744M450 741V743M451 739V742M452 738V740M453 737V739M454 735V738M455 734V736M456 733V735M457 732V734M458 731V733M459 730V732M460 730V732M461 729V731M462 729V731M463 728V730M464 727V730M465 726V728M465 725V727M466 724V725M467 722V724M468 720V722M469 718V720M470 717V718M472 715V717M473 713V716M474 712V714M475 711V713M476 710V712M477 709V711M478 708V710M479 707V709M480 706V708M481 705V707M482 704V706M483 703V705M484 702V704M485 702V704M486 701V703M487 700V702M488 700V702M489 699V701M490 698V700M491 698V700M492 697V699M493 696V698M494 694V697M495 693V695M496 692V694M497 690V693M498 689V691M499 687V690M500 686V688M501 685V687M502 684V686M503 683V685M504 682V684M505 682V684M506 681V683M507 681V683M508 680V682M509 680V682M510 680V682M511 680V682M512 680V682M513 680V682M514 680V682M515 680V682M516 680V682M517 680V682M518 680V682M519 680V682M520 680V682M521 680V682M522 680V682M523 680V682M524 680V682M525 679V681M526 679V681M527 679V681M528 678V680M529 678V680M530 678V680M531 679V681M532 679V681M533 679V681M534 680V682M535 681V683M536 681V683M537 682V684M538 683V685M539 683V685M540 684V686M541 685V687M542 685V687M543 686V688M544 687V689M545 687V689M546 687V689M547 688V690M548 688V690M549 688V690M550 688V690M551 688V690M552 688V690M553 688V690M554 688V690M555 688V690M556 687V689M557 686V688M558 686V688M559 685V687M560 685V687M561 685V687M562 685V687M563 685V687M564 686V688M565 686V688M566 687V689M567 687V689M568 687V689M569 688V690M570 688V690M571 689V691M572 689V691M573 690V692M574 690V692M575 691V693M576 691V693M577 691V693M578 692V694M579 692V694M580 692V694M581 693V695M582 693V695M583 693V695M584 693V695M585 694V696M586 694V696M587 694V696M588 695V697M589 695V697M590 695V697M591 696V698M592 696V698M593 697V699M594 697V699M595 697V699M596 697V699M597 697V699M598 697V699M599 697V699M600 697V699M601 696V698M602 696V698M603 695V697M604 695V697M605 694V696M606 693V695M607 691V694M608 690V692M608 689V691M609 687V689M610 686V687M611 684V686M612 682V684M613 680V682M614 679V680M615 677V679M617 675V677M618 674V676M619 672V675M620 671V673M621 671V673M622 670V672M623 669V671M624 668V670M625 667V669M626 666V668M627 665V667M628 663V666M629 662V664M630 661V663M631 660V662M632 659V661M633 657V660M634 656V658M635 656V658M636 655V657M637 654V656M638 653V655M639 653V655M640 653V655M641 652V654M642 652V654M643 652V654M644 651V653M645 651V653M646 651V653M647 651V653M648 650V652M649 650V652M650 649V651M651 648V650M652 648V650M653 647V649M654 646V648M655 645V647M656 645V647M657 644V646M658 643V645M659 642V644M660 641V643M661 640V642M662 639V641M662 638V640M663 636V638M664 634V636M665 632V634M666 629V632M667 627V629M668 625V627M669 623V625M670 621V623M671 619V621M672 618V619M674 616V618M675 614V617M676 613V615M677 612V614M678 611V613M679 610V612M680 608V611M681 607V609M682 606V608M683 605V607M684 603V606M685 602V604M685 601V603M686 600V601M687 598V600M688 596V598M689 594V596M690 592V594M691 589V592M692 587V589M693 584V587M694 582V584M695 579V582M696 577V579M697 574V577M698 571V574M699 569V571M700 566V569M701 563V566M702 560V563M703 557V560M704 554V557M705 551V554M706 548V551M707 544V548M708 541V544M709 538V541M710 535V538M711 532V535M712 529V532M713 526V529M714 523V526M715 520V523M716 517V520M717 514V517M718 511V514M719 508V511M720 504V508M721 501V504M722 498V501M723 494V498M724 491V494M725 488V491M726 486V488M727 483V486M728 481V483M729 479V481M730 477V479M731 474V477M732 472V474M733 470V472M734 468V470M735 466V468M736 464V466M737 462V464M738 459V462M739 458V459M740 456V458M741 454V456M743 452V454M744 451V453M745 450V452M746 449V451M747 448V450M748 447V449M749 446V448M750 446V448M751 445V447M752 445V447M753 444V446M754 444V446M755 443V445M756 443V445M757 443V445M758 442V444M759 442V444M760 442V444M761 442V444M762 442V444M763 443V445M764 443V445M765 443V445M766 443V445M767 444V446M768 444V446M769 444V446M770 444V446M771 444V446M772 444V446M773 444V446M774 444V446M775 444V446M776 444V446M777 444V446M778 444V446M779 444V446M780 444V446M781 444V446M782 444V446M783 445V447M784 445V447M785 446V448M786 447V449M787 448V450M788 449V451M789 450V452M790 451V454M791 453V455M792 454V457M792 457V458M793 458V460M794 460V461M795 461V463M796 463V465M797 465V466M798 466V468M799 468V469M800 469V471M801 471V473M802 473V474M803 474V476M805 475V477M806 476V479M807 478V480M808 479V481M809 480V483M810 482V484M811 483V485M812 484V487M813 486V488M814 487V490M814 490V491M815 491V493M816 493V494M817 494V496M818 496V498M819 498V500M820 500V501M821 501V503M822 503V505M823 505V506M824 506V508M825 508V510M826 510V511M827 511V513M828 513V514M830 513V516M831 515V517M832 516V518M833 517V520M834 519V521M835 520V522M836 521V523M837 522V524M838 523V525M839 524V526M840 525V527M841 526V529M841 529V531M842 531V533M843 533V535M844 535V538M845 538V540M846 540V542M847 542V544M848 544V546M849 546V547M850 547V548M852 547V550M853 549V551M854 550V552M855 551V554M856 553V555M857 554V556M858 555V557M859 556V558M860 557V559M861 558V560M862 559V561M863 559V561M864 560V562M865 561V563M866 561V563M867 562V564M868 562V564M869 562V564M870 562V564M871 563V565M872 563V565M873 563V565M874 563V565M875 563V565M876 563V565M877 563V565M878 563V565M879 563V565M880 563V565M881 562V564M882 562V564M883 562V564M884 561V563M885 560V562M886 559V561M887 557V560M888 556V558M889 555V557M890 553V556M891 552V554M892 551V553M893 550V552M894 549V551M895 548V550M896 547V549M897 547V549M898 547V549M899 547V549M900 547V549M901 548V550M902 548V550M903 548V550M904 548V550M905 549V551M906 549V551M907 549V551M908 549V551M909 549V551M910 549V551M911 548V550M912 547V549M913 546V548M914 545V547M915 544V546M916 543V545M917 543V545M918 542V544M919 541V543M920 541V543M921 540V542M922 540V542M923 539V541M924 537V540M925 536V538M926 535V537M927 533V536M928 532V534M929 531V533M930 530V532M931 529V531M932 529V531M933 528V530M934 528V530M935 527V529M936 527V529M937 527V529M938 527V529M939 527V529M940 527V529M941 527V529M942 527V529M943 527V529M944 527V529M945 528V530M946 528V530M947 529V531M948 529V531M949 530V532M950 531V533M951 532V534M952 532V534M953 533V535M954 534V536M955 535V537M956 536V538M957 537V539M958 538V540M959 538V540M960 539V541M961 539V541M962 539V541M963 539V541M964 539V541M965 539V541M966 539V541M967 539V541M968 539V541M969 539V541M970 539V541M971 539V541M972 539V541M973 539V541M974 539V541M975 539V541M976 539V541M977 539V541M978 539V541M979 539V541M980 539V541M981 540V542M982 540V542M983 540V542M984 541V543M985 541V543M986 542V544M987 543V545M988 544V546M989 545V547M990 546V548M991 547V549M992 548V551M993 550V552M994 551V553M994 553V555M995 555V557M996 557V558M997 558V560M999 559V561M1000 560V562M1001 561V564M1002 563V565M1003 563V565M1004 564V566M1005 565V567M1006 565V567M1007 566V568M1008 566V568M1009 566V568M1010 567V569M1011 567V569M1012 568V570M1013 568V570M1014 569V571M1015 569V571M1016 570V572M1017 570V572M1018 570V572M1019 570V572M1020 571V573M1021 571V573M1022 571V573M1023 571V573M1024 571V573M1025 571V573M1026 571V573M1027 571V573M1028 570V572M1029 570V572M1030 570V572M1031 570V572M1032 569V571M1033 569V571M1034 569V571M1035 569V571M1036 569V571M1037 569V571M1038 569V571M1039 569V571M1040 569V571M1041 569V571M1042 569V571M1043 569V571M1044 568V570M1045 568V570M1046 568V570M1047 568V570M1048 567V569M1049 566V568M1050 566V568M1051 565V567M1052 565V567M1053 564V566M1054 563V565M1055 562V564M1056 561V563M1057 561V563M1058 560V562M1059 559V561M1060 559V561M1061 558V560M1062 558V560M1063 558V560M1064 557V559M1065 557V559M1066 557V559M1067 556V558M1068 556V558M1069 556V558M1070 555V557M1071 555V557M1072 554V556M1073 554V556M1074 553V555M1075 552V554M1076 552V554M1077 551V553M1078 550V552M1079 549V551M1080 547V550M1081 546V548M1081 545V547M1082 543V545M1083 541V543M1084 539V541M1085 538V539M1087 535V538M1088 534V536M1089 533V535M1090 532V534M1091 532V534M1092 531V533M1093 531V533M1094 530V532M1095 530V532M1096 529V531M1097 529V531M1098 528V530M1099 528V530M1100 528V530M1101 527V529M1102 527V529M1103 526V528M1104 526V528M1105 525V527M1106 525V527M1107 524V526M1108 524V526M1109 523V525M1110 522V524M1111 521V523M1112 520V522M1113 518V521M1113 517V519M1114 516V517M1115 514V516M1116 512V514M1118 510V512M1119 509V511M1120 508V510M1121 508V510M1122 507V509M1123 507V509M1124 507V509M1125 506V508M1126 506V508M1127 506V508M1128 505V507M1129 505V507M1130 504V506M1131 503V505M1132 503V505M1133 502V504M1134 502V504M1135 501V503M1136 501V503M1137 501V503M1138 501V503M1139 501V503M1140 502V504M1141 502V504M1142 503V505M1143 503V505M1144 504V506M1145 505V507M1146 506V508M1147 506V508M1148 507V509M1149 508V510M1150 509V511M1151 510V512M1152 511V513M1153 512V514M1154 513V515M1155 514V516M1156 515V517M1157 515V517M1158 516V518M1159 517V519M1160 518V520M1161 519V521M1162 519V521M1163 520V522M1164 520V522M1165 521V523M1166 521V523M1167 522V524M1168 522V524M1169 523V525M1170 523V525M1171 524V526M1172 524V526M1173 525V527M1174 525V527M1175 526V528M1176 526V528M1177 527V529M1178 527V529M1179 528V530M1180 529V531M1181 530V532M1182 531V533M1183 532V534M1184 533V536M1185 535V537M1186 536V538M1187 537V539M1188 538V540M1189 539V541M1190 540V542M1191 541V543M1192 542V544M1193 542V544M1194 543V545M1195 543V545M1196 543V545M1197 543V545M1198 543V545M1199 543V545M1200 543V545M1201 543V545M1202 543V545M1203 543V545M1204 543V545M1205 543V545M1206 544V546M1207 544V546M1208 544V546M1209 545V547M1210 545V547M1211 546V548M1212 546V548M1213 547V549M1214 547V549M1215 548V550M1216 548V550M1217 549V551M1218 549V551M1219 550V552M1220 551V553M1221 551V553M1222 552V554M1223 553V555M1224 553V555M1225 554V556M1226 555V557M1227 555V557M1228 556V558M1229 557V559M1230 558V560M1231 559V561M1232 560V562M1233 560V562M1234 561V563M1235 562V564M1236 563V565M1237 564V566M1238 564V566M1239 565V567M1240 566V568M1241 567V569M1242 568V570M1243 568V570M1244 569V571M1245 570V572M1246 571V573M1247 572V574M1248 572V574M1249 573V575M1250 574V576M1251 575V577M1252 576V578M1253 576V578M1254 577V579M1255 578V580M1256 578V580M1257 579V581M1258 579V581M1259 580V582M1260 581V583M1261 582V584M1262 582V585M1263 584V586M1264 585V587M1265 586V588M1266 587V590M1267 589V591M1268 590V592M1269 591V593M1270 592V594M1271 593V596M1272 595V597M1273 595V597M1274 596V598M1275 596V598M1276 597V599M1277 596V598M1278 596V598M1279 596V598M1280 595V597M1281 595V597M1282 594V596M1283 594V596M1284 593V595M1285 593V595M1286 592V594M1287 592V594M1288 591V593M1289 591V593M1290 590V592M1291 590V592M1292 589V591M1293 589V591M1294 588V590M1295 587V589M1296 587V589M1297 586V588M1298 586V588M1299 585V587M1300 584V586M1301 584V586M1302 583V585M1303 582V584M1304 582V584M1305 581V583M1306 580V582M1307 579V581M1308 578V580M1309 578V580M1310 577V579M1311 576V578M1312 575V577M1313 575V577M1314 574V576M1315 573V575M1316 573V575M1317 572V574M1318 571V573M1319 571V573M1320 570V572M1321 570V572M1322 569V571M1323 568V570M1324 568V570M1325 567V569M1326 566V568M1327 565V567M1328 564V566M1329 563V565M1330 562V564M1331 560V563M1332 559V561M1333 557V560M1334 556V558M1335 555V557M1336 553V556M1337 552V554M1338 551V553M1339 549V552M1340 548V550M1341 547V549M1342 546V548M1343 545V547M1344 545V547M1345 544V546M1346 544V546M1347 543V545M1348 543V545M1349 543V545M1350 543V545M1351 543V545M1352 542V544M1353 542V544M1354 542V544M1355 542V544M1356 542V544M1357 541V543M1358 541V543M1359 541V543M1360 541V543M1361 540V542M1362 540V542M1363 540V542M1364 540V542M1365 540V542M1366 540V542M1367 540V542M1368 540V542M1369 540V542M1370 541V543M1371 541V543M1372 542V544M1373 543V545M1374 543V545M1375 544V546M1376 545V547M1377 546V548M1378 547V549M1379 547V549M1380 548V550M1381 548V550M1382 549V551M1383 549V551M1384 550V552M1385 550V552M1386 550V552M1387 551V553M1388 551V553M1389 552V554M1390 553V555M1391 553V555M1392 554V556M1393 554V556M1394 555V557M1395 556V558M1396 556V558M1397 557V559M1398 557V559M1399 558V560M1400 558V560M1401 559V561M1402 559V561M1403 560V562M1404 560V562M1405 561V563M1406 561V563M1407 562V564M1408 562V564M1409 563V565M1410 563V565M1411 563V565M1412 564V566M1413 563V565M1414 563V565M1415 562V564M1416 562V564M1417 561V563M1418 559V562M1419 558V560M1420 557V559M1421 557V559M1422 556V558M1423 555V557M1424 554V556M1425 552V555M1426 551V553M1427 550V552M1428 549V551M1429 548V550M1430 546V549M1431 545V547M1432 544V546M1433 543V545M1434 542V544M1435 541V543M1436 540V542M1437 539V541M1438 538V540M1439 537V539M1440 536V538M1441 535V537M1442 534V536M1443 533V535M1444 532V534M1445 531V533M1446 531V533M1447 530V532M1448 529V531M1449 528V530M1450 527V529M1451 527V529M1452 526V528M1453 525V527M1454 524V526M1455 523V525M1456 523V525M1457 522V524M1458 521V523M1459 521V523M1460 520V522M1461 519V521M1462 519V521M1463 518V520M1464 517V519M1465 516V518M1466 516V518M1467 515V517M1468 514V516M1469 513V515M1470 512V514M1471 512V514M1472 511V513M1473 510V512M1474 509V511M1475 509V511M1476 508V510M1477 507V509M1478 507V509M1479 506V508M1480 506V508M1481 505V507M1482 505V507M1483 505V507M1484 505V507M1485 505V507M1486 505V507M1487 504V506M1488 503V505M1489 502V504M1490 500V503M1490 499V501M1491 498V499M1492 496V498M1493 494V496M1494 492V494M1495 491V492M1496 489V491M1497 487V489M1498 485V487M1499 483V485M1500 481V483M1501 479V481M1502 477V479M1503 475V477M1504 473V475M1505 470V473M1506 467V470M1507 464V467M1508 461V464M1509 458V461M1510 455V458M1511 452V455M1512 449V452M1513 446V449M1514 443V446M1515 440V443M1516 438V440M1517 435V438M1518 432V435M1519 430V432M1520 427V430M1521 425V427M1522 422V425M1523 420V422M1524 418V420M1525 415V418M1526 413V415M1527 411V413M1528 409V411M1529 407V409M1530 405V407M1531 403V405M1532 401V403M1533 399V401M1534 396V399M1535 394V396M1536 391V394M1537 388V391M1538 386V388M1539 383V386M1540 380V383M1541 377V380M1542 374V377M1543 371V374M1544 368V371M1545 365V368M1546 362V365M1547 359V362M1548 357V359M1549 354V357M1550 351V354M1551 348V351M1552 345V348M1553 342V345M1554 339V342M1555 336V339M1556 333V336M1557 331V333M1558 328V331M1559 325V328M1560 323V325M1561 320V323M1562 318V320M1563 315V318M1564 313V315M1565 310V313M1566 307V310M1567 304V307M1568 302V304M1569 298V302M1570 295V298M1571 293V295M1572 290V293M1573 288V290M1574 286V288M1576 284V286M1577 283V285M1578 282V284M1579 281V283M1580 281V283M1581 281V283M1582 280V282M1583 280V282M1584 279V281M1585 279V281M1586 279V281M1587 278V280M1588 277V279M1589 277V279M1590 276V278M1591 275V277M1592 273V276M1593 272V274M1594 271V273M1595 270V272M1596 269V271M1597 267V270M1598 266V268M1599 265V267M1600 264V266M1601 262V265M1602 261V263M1603 260V262M1604 259V261M1605 258V260M1606 256V259M1607 255V257M1608 254V256M1609 253V255M1610 251V254M1611 250V252M1612 249V251M1613 248V250M1614 247V249M1615 246V248M1616 244V247M1617 243V245M1618 242V244M1619 241V243M1620 240V242M1621 239V241M1622 239V241M1623 238V240M1624 238V240M1625 238V240M1626 238V240M1627 238V240M1628 238V240M1629 238V240M1630 238V240M1631 238V240M1632 237V239M1633 237V239M1634 236V238M1635 235V237M1636 235V237M1637 234V236M1638 234V236M1639 234V236M1640 234V236M1641 234V236M1642 234V236M1643 234V236M1644 234V236M1645 233V235M1646 231V234M1646 230V232M1647 228V230M1648 225V228M1649 223V225M1650 220V223M1651 218V220M1652 215V218M1653 213V215M1654 210V213M1655 208V210M1656 205V208M1657 203V205M1658 201V203M1659 199V201M1660 196V199M1661 195V196M1662 193V195M1664 191V193M1665 190V192M1666 189V191M1667 188V190M1668 187V189M1669 186V188M1670 185V187M1671 185V187M1672 185V187M1673 185V187M1674 184V186M1675 185V187M1676 185V187M1677 185V187M1678 185V187M1679 185V187M1680 185V187M1681 185V187M1682 186V188M1683 186V188M1684 186V188M1685 187V189M1686 188V190M1687 188V190M1688 189V191M1689 190V192M1690 191V193M1691 192V194M1692 192V194M1693 193V195M1694 194V196M1695 195V197M1696 196V198M1697 197V199M1698 198V200M1699 199V201M1700 200V202M1701 201V203M1702 202V205M1703 204V206M1704 205V208M1704 208V209M1705 209V211M1706 211V213M1707 213V215M1708 215V217M1709 217V219M1710 219V221M1711 221V223M1712 223V226M1713 226V228M1714 228V231M1715 231V233M1716 233V236M1717 236V238M1718 238V241M1719 241V243M1720 243V246M1721 246V248M1722 248V251M1723 251V253M1724 253V256M1725 256V258M1726 258V261M1727 261V263M1728 263V266M1729 266V268M1730 268V270M1731 270V272M1732 272V274M1733 274V276M1734 276V278M1735 278V280M1736 280V281M1738 280V283M1739 282V284M1740 283V285M1741 284V286M1742 285V287M1743 286V288M1744 287V289M1745 288V290M1746 289V291M1747 289V291M1748 290V292M1749 291V293M1750 291V293M1751 292V294M1752 292V294M1753 292V294M1754 293V295M1755 293V295M1756 293V295M1757 292V294M1758 292V294M1759 291V293M1760 290V292M1761 289V291M1762 288V290M1763 288V290M1764 287V289M1765 287V289M1766 287V289M1767 287V289M1768 287V289M1769 287V289M1770 288V290M1771 288V290M1772 288V290M1773 289V291M1774 289V291M1775 289V291M1776 289V291M1777 289V291M1778 289V291M1779 289V291M1780 288V290M1781 288V290M1782 287V289M1783 287V289M1784 286V288M1785 285V287M1786 284V286M1787 283V285M1788 282V284M1789 281V283M1790 280V282M1791 279V281M1792 278V280M1793 277V279M1794 276V278M1795 275V277M1796 274V276M1797 272V275M1798 271V273M1798 270V272M1799 268V270M1800 267V268M1801 265V267M1802 263V265M1803 261V263M1804 259V261M1805 257V259M1806 255V257M1807 253V255M1808 251V253M1809 249V251M1810 247V249M1811 245V247M1812 243V245M1813 241V243M1814 238V241M1815 237V238M1816 235V237M1817 233V235M1819 231V233M1820 230V232M1821 229V231M1822 228V230M1823 228V230M1824 228V230M1825 228V230M1826 228V230M1827 228V230M1828 228V230M1829 228V230M1830 228V230M1831 228V230M1832 228V230M1833 228V230M1834 228V230M1835 228V230M1836 227V229M1837 227V229M1838 226V228M1839 225V227M1840 225V227M1841 224V226M1842 223V225M1843 223V225M1844 222V224M1845 221V223M1846 220V222M1847 219V221M1848 218V220M1849 217V219M1850 216V218M1851 214V217M1852 213V215M1853 212V214M1854 210V213M1855 209V211M1856 208V210M1857 207V209M1858 205V208M1859 204V206M1860 203V205M1861 201V204M1862 200V202M1863 199V201M1864 198V200M1865 197V199M1866 196V198M1867 195V197M1868 194V196M1869 193V195M1870 192V194M1871 191V193M1872 190V192M1873 189V191M1874 188V190M1875 188V190M1876 187V189M1877 187V189M1878 186V188M1879 186V188M1880 185V187M1881 185V187M1882 185V187M1883 185V187M1884 184V186M1885 184V186M1886 184V186M1887 184V186M1888 184V186M1889 183V185M1890 183V185M1891 183V185M1892 182V184M1893 182V184M1894 181V183M1895 181V183M1896 180V182M1897 180V182M1898 179V181M1899 179V181M1900 178V180M1901 177V179M1902 177V179M1903 176V178M1904 175V177M1905 175V177M1906 174V176M1907 173V175M1908 172V174M1909 172V174M1910 171V173M1911 170V172M1912 170V172M1913 170V172M1914 170V172M1915 170V172M1916 170V172M1917 170V172M1918 171V173M1919 171V173M1920 171V173M1921 172V174M1922 172V174M1923 172V174M1924 173V175M1925 173V175M1926 173V175M1927 174V176M1928 174V176M1929 175V177M1930 175V177M1931 176V178M1932 177V179M1933 178V180M1934 179V181M1935 179V181M1936 180V182M1937 181V183M1938 181V183M1939 182V184M1940 182V184M1941 183V185M1942 183V185M1943 183V185M1944 183V185M1945 184V186M1946 184V186M1947 184V186M1948 183V185M1949 183V185M1950 183V185M1951 182V184M1952 182V184M1953 181V183M1954 181V183M1955 181V183M1956 181V183M1957 180V182M1958 180V182M1959 180V182M1960 180V182M1961 180V182M1962 180V182M1963 180V182M1964 180V182M1965 181V183M1966 181V183M1967 181V183M1968 181V183M1969 181V183M1970 181V183M1971 181V183M1972 181V183M1973 181V183M1974 181V183M1975 181V183M1976 181V183M1977 181V183M1978 181V183M1979 181V183M1980 182V184M1981 182V184M1982 182V184M1983 183V185M1984 184V186M1985 184V186M1986 185V187M1987 185V187M1988 185V187M1989 186V188M1990 186V188M1991 186V188M1992 186V188M1993 186V188M1994 187V189M1995 187V189M1996 187V189M1997 187V189M1998 187V189M1999 187V189M2000 187V189M2001 187V189M2002 187V189M2003 187V189M2004 186V188M2005 186V188M2006 186V188" stroke="#0000e6" stroke-width="2" fill="none"/>
<path d="M4 935V937M5 935V937M6 936V938M7 937V939M8 938V940M9 938V940M10 939V941M11 940V942M12 941V943M13 941V943M14 942V944M15 943V945M16 943V945M17 944V946M18 945V947M19 946V948M20 946V948M21 947V949M22 948V950M23 948V950M24 949V951M25 949V951M26 949V951M27 950V952M28 950V952M29 950V952M30 950V952M31 950V952M32 950V952M33 950V952M34 950V952M35 949V951M36 949V951M37 949V951M38 949V951M39 949V951M40 949V951M41 949V951M42 949V951M43 949V951M44 949V951M45 950V952M46 950V952M47 950V952M48 950V952M49 951V953M50 951V953M51 951V953M52 951V953M53 951V953M54 951V953M55 952V954M56 952V954M57 952V954M58 952V954M59 952V954M60 952V954M61 952V954M62 952V954M63 952V954M64 951V953M65 951V953M66 951V953M67 951V953M68 951V953M69 951V953M70 951V953M71 951V953M72 952V954M73 952V954M74 952V954M75 952V954M76 953V955M77 953V955M78 953V955M79 953V955M80 954V956M81 954V956M82 954V956M83 954V956M84 954V956M85 955V957M86 955V957M87 955V957M88 955V957M89 955V957M90 955V957M91 955V957M92 956V958M93 956V958M94 956V958M95 956V958M96 956V958M97 956V958M98 956V958M99 956V958M100 956V958M101 956V958M102 956V958M103 956V958M104 957V959M105 957V959M106 957V959M107 957V959M108 957V959M109 958V960M110 958V960M111 958V960M112 958V960M113 958V960M114 958V960M115 958V960M116 958V960M117 958V960M118 958V960M119 958V960M120 958V960M121 958V960M122 958V960M123 958V960M124 958V960M125 958V960M126 958V960M127 958V960M128 958V960M129 958V960M130 957V959M131 957V959M132 957V959M133 957V959M134 957V959M135 957V959M136 958V960M137 958V960M138 958V960M139 958V960M140 958V960M141 958V960M142 958V960M143 958V960M144 958V960M145 958V960M146 958V960M147 958V960M148 958V960M149 958V960M150 957V959M151 957V959M152 957V959M153 956V958M154 956V958M155 955V957M156 955V957M157 954V956M158 954V956M159 954V956M160 953V955M161 953V955M162 953V955M163 952V954M164 952V954M165 952V954M166 952V954M167 951V953M168 951V953M169 951V953M170 951V953M171 951V953M172 950V952M173 950V952M174 950V952M175 950V952M176 949V951M177 949V951M178 949V951M179 949V951M180 949V951M181 948V950M182 948V950M183 948V950M184 948V950M185 948V950M186 947V949M187 947V949M188 947V949M189 946V948M190 946V948M191 946V948M192 945V947M193 945V947M194 945V947M195 945V947M196 944V946M197 944V946M198 944V946M199 943V945M200 943V945M201 943V945M202 943V945M203 942V944M204 942V944M205 942V944M206 942V944M207 942V944M208 941V943M209 941V943M210 941V943M211 941V943M212 940V942M213 940V942M214 940V942M215 940V942M216 940V942M217 939V941M218 939V941M219 939V941M220 939V941M221 938V940M222 938V940M223 938V940M224 937V939M225 937V939M226 937V939M227 936V938M228 936V938M229 936V938M230 936V938M231 935V937M232 935V937M233 935V937M234 935V937M235 935V937M236 935V937M237 935V937M238 935V937M239 935V937M240 935V937M241 935V937M242 935V937M243 935V937M244 935V937M245 935V937M246 935V937M247 935V937M248 935V937M249 936V938M250 936V938M251 936V938M252 936V938M253 936V938M254 936V938M255 936V938M256 937V939M257 937V939M258 937V939M259 937V939M260 938V940M261 938V940M262 938V940M263 938V940M264 939V941M265 939V941M266 939V941M267 939V941M268 939V941M269 940V942M270 940V942M271 940V942M272 940V942M273 940V942M274 941V943M275 941V943M276 941V943M277 941V943M278 941V943M279 942V944M280 942V944M281 942V944M282 942V944M283 942V944M284 943V945M285 943V945M286 943V945M287 943V945M288 943V945M289 944V946M290 944V946M291 944V946M292 944V946M293 944V946M294 945V947M295 945V947M296 945V947M297 945V947M298 946V948M299 946V948M300 946V948M301 947V949M302 947V949M303 947V949M304 948V950M305 948V950M306 948V950M307 949V951M308 949V951M309 949V951M310 950V952M311 950V952M312 950V952M313 951V953M314 951V953M315 951V953M316 951V953M317 951V953M318 952V954M319 952V954M320 952V954M321 952V954M322 952V954M323 952V954M324 951V953M325 951V953M326 951V953M327 950V952M328 950V952M329 949V951M330 949V951M331 948V950M332 947V949M333 947V949M334 946V948M335 946V948M336 945V947M337 945V947M338 944V946M339 943V945M340 943V945M341 942V944M342 942V944M343 941V943M344 941V943M345 940V942M346 940V942M347 939V941M348 939V941M349 938V940M350 938V940M351 937V939M352 936V938M353 936V938M354 935V937M355 935V937M356 934V936M357 934V936M358 933V935M359 932V934M360 932V934M361 931V933M362 930V932M363 930V932M364 929V931M365 929V931M366 928V930M367 927V929M368 927V929M369 926V928M370 925V927M371 925V927M372 924V926M373 923V925M374 923V925M375 922V924M376 921V923M377 920V922M378 920V922M379 919V921M380 918V920M381 917V919M382 916V918M383 916V918M384 915V917M385 914V916M386 913V915M387 912V914M388 911V913M389 910V912M390 910V912M391 909V911M392 908V910M393 907V909M394 907V909M395 906V908M396 905V907M397 905V907M398 904V906M399 904V906M400 903V905M401 902V904M402 902V904M403 901V903M404 901V903M405 901V903M406 900V902M407 900V902M408 899V901M409 899V901M410 898V900M411 898V900M412 897V899M413 897V899M414 896V898M415 896V898M416 895V897M417 894V896M418 894V896M419 893V895M420 892V894M421 892V894M422 891V893M423 890V892M424 890V892M425 889V891M426 888V890M427 887V889M428 886V888M429 886V888M430 885V887M431 884V886M432 883V885M433 883V885M434 882V884M435 881V883M436 880V882M437 879V881M438 879V881M439 878V880M440 877V879M441 876V878M442 875V877M443 875V877M444 874V876M445 873V875M446 872V874M447 871V873M448 871V873M449 870V872M450 869V871M451 868V870M452 867V869M453 866V868M454 865V867M455 864V866M456 863V865M457 862V864M458 861V863M459 860V862M460 859V861M461 858V860M462 857V859M463 856V858M464 855V857M465 854V856M466 853V855M467 851V854M468 850V852M469 849V851M470 848V850M471 846V849M472 845V847M473 844V846M474 842V845M475 841V843M476 840V842M477 838V841M478 837V839M479 836V838M480 835V837M481 834V836M482 832V835M483 831V833M484 830V832M485 829V831M486 828V830M487 826V829M488 825V827M489 824V826M490 823V825M491 822V824M492 821V823M493 820V822M494 819V821M495 818V820M496 817V819M497 816V818M498 815V817M499 814V816M500 813V815M501 812V814M502 811V813M503 810V812M504 809V811M505 808V810M506 808V810M507 807V809M508 806V808M509 805V807M510 804V806M511 803V805M512 802V804M513 801V803M514 801V803M515 800V802M516 799V801M517 798V800M518 797V799M519 796V798M520 795V797M521 794V796M522 793V795M523 792V794M524 791V793M525 790V792M526 789V791M527 788V790M528 787V789M529 786V788M530 785V787M531 785V787M532 784V786M533 783V785M534 782V784M535 781V783M536 780V782M537 779V781M538 779V781M539 778V780M540 777V779M541 776V778M542 775V777M543 774V776M544 773V775M545 772V774M546 771V773M547 770V772M548 769V771M549 768V770M550 767V769M551 766V768M552 765V767M553 764V766M554 762V765M555 761V763M556 760V762M557 759V761M558 758V760M559 757V759M560 756V758M561 755V757M562 754V756M563 753V755M564 752V754M565 751V753M566 750V752M567 749V751M568 748V750M569 747V749M570 746V748M571 745V747M572 744V746M573 743V745M574 742V744M575 741V743M576 740V742M577 739V741M578 738V740M579 737V739M580 737V739M581 736V738M582 735V737M583 734V736M584 733V735M585 732V734M586 732V734M587 731V733M588 730V732M589 729V731M590 729V731M591 728V730M592 727V729M593 726V728M594 726V728M595 725V727M596 724V726M597 723V725M598 723V725M599 722V724M600 721V723M601 720V722M602 720V722M603 719V721M604 718V720M605 717V719M606 717V719M607 716V718M608 715V717M609 714V716M610 714V716M611 713V715M612 712V714M613 711V713M614 710V712M615 710V712M616 709V711M617 708V710M618 707V709M619 707V709M620 706V708M621 705V707M622 705V707M623 704V706M624 704V706M625 703V705M626 703V705M627 702V704M628 702V704M629 701V703M630 701V703M631 700V702M632 700V702M633 700V702M634 699V701M635 699V701M636 699V701M637 698V700M638 698V700M639 698V700M640 698V700M641 698V700M642 697V699M643 697V699M644 697V699M645 697V699M646 697V699M647 697V699M648 696V698M649 696V698M650 696V698M651 696V698M652 696V698M653 695V697M654 695V697M655 695V697M656 694V696M657 694V696M658 693V695M659 693V695M660 693V695M661 692V694M662 691V693M663 691V693M664 690V692M665 689V691M666 688V690M667 688V690M668 687V689M669 686V688M670 685V687M671 685V687M672 684V686M673 683V685M674 682V684M675 682V684M676 681V683M677 680V682M678 679V681M679 678V680M680 678V680M681 677V679M682 676V678M683 675V677M684 674V676M685 673V675M686 672V674M687 671V673M688 670V672M689 669V671M690 668V670M691 666V669M692 665V667M693 664V666M694 663V665M695 662V664M696 661V663M697 660V662M698 659V661M699 658V660M700 656V659M701 655V657M702 654V656M703 653V655M704 652V654M705 651V653M706 650V652M707 649V651M708 648V650M709 647V649M710 646V648M711 645V647M712 645V647M713 644V646M714 643V645M715 642V644M716 641V643M717 641V643M718 640V642M719 639V641M720 638V640M721 637V639M722 636V638M723 635V637M724 634V636M725 633V635M726 632V634M727 631V633M728 630V632M729 629V631M730 628V630M731 627V629M732 626V628M733 625V627M734 624V626M735 623V625M736 622V624M737 621V623M738 620V622M739 619V621M740 618V620M741 617V619M742 616V618M743 615V617M744 614V616M745 613V615M746 612V614M747 611V613M748 610V612M749 609V611M750 608V610M751 608V610M752 607V609M753 606V608M754 605V607M755 605V607M756 604V606M757 603V605M758 603V605M759 602V604M760 601V603M761 600V602M762 600V602M763 599V601M764 598V600M765 597V599M766 596V598M767 596V598M768 595V597M769 594V596M770 593V595M771 592V594M772 591V593M773 590V592M774 589V591M775 588V590M776 587V589M777 587V589M778 586V588M779 585V587M780 584V586M781 584V586M782 583V585M783 583V585M784 582V584M785 581V583M786 581V583M787 580V582M788 580V582M789 579V581M790 579V581M791 579V581M792 578V580M793 578V580M794 577V579M795 577V579M796 577V579M797 576V578M798 576V578M799 575V577M800 575V577M801 574V576M802 573V575M803 573V575M804 572V574M805 572V574M806 571V573M807 570V572M808 570V572M809 569V571M810 569V571M811 568V570M812 568V570M813 567V569M814 567V569M815 566V568M816 566V568M817 565V567M818 565V567M819 564V566M820 564V566M821 564V566M822 563V565M823 563V565M824 562V564M825 562V564M826 562V564M827 561V563M828 561V563M829 560V562M830 560V562M831 559V561M832 558V560M833 558V560M834 557V559M835 556V558M836 556V558M837 555V557M838 555V557M839 554V556M840 554V556M841 554V556M842 553V555M843 553V555M844 552V554M845 552V554M846 552V554M847 552V554M848 551V553M849 551V553M850 551V553M851 550V552M852 550V552M853 550V552M854 550V552M855 549V551M856 549V551M857 548V550M858 548V550M859 547V549M860 547V549M861 546V548M862 546V548M863 545V547M864 545V547M865 544V546M866 544V546M867 544V546M868 543V545M869 543V545M870 542V544M871 542V544M872 542V544M873 541V543M874 541V543M875 540V542M876 540V542M877 539V541M878 538V540M879 538V540M880 537V539M881 537V539M882 536V538M883 535V537M884 534V536M885 534V536M886 533V535M887 532V534M888 531V533M889 530V532M890 530V532M891 529V531M892 529V531M893 528V530M894 528V530M895 527V529M896 527V529M897 526V528M898 526V528M899 526V528M900 525V527M901 525V527M902 525V527M903 525V527M904 525V527M905 525V527M906 525V527M907 524V526M908 524V526M909 524V526M910 524V526M911 524V526M912 524V526M913 524V526M914 523V525M915 523V525M916 523V525M917 523V525M918 523V525M919 522V524M920 522V524M921 522V524M922 522V524M923 521V523M924 521V523M925 521V523M926 520V522M927 520V522M928 519V521M929 518V520M930 518V520M931 517V519M932 517V519M933 516V518M934 516V518M935 515V517M936 515V517M937 514V516M938 514V516M939 513V515M940 513V515M941 512V514M942 512V514M943 512V514M944 511V513M945 511V513M946 511V513M947 510V512M948 510V512M949 510V512M950 510V512M951 510V512M952 509V511M953 509V511M954 509V511M955 509V511M956 509V511M957 509V511M958 509V511M959 509V511M960 509V511M961 509V511M962 509V511M963 509V511M964 509V511M965 509V511M966 509V511M967 509V511M968 509V511M969 509V511M970 510V512M971 510V512M972 510V512M973 510V512M974 510V512M975 511V513M976 511V513M977 511V513M978 511V513M979 512V514M980 512V514M981 513V515M982 513V515M983 514V516M984 514V516M985 515V517M986 515V517M987 516V518M988 516V518M989 517V519M990 518V520M991 518V520M992 519V521M993 519V521M994 520V522M995 521V523M996 521V523M997 522V524M998 522V524M999 522V524M1000 523V525M1001 523V525M1002 524V526M1003 524V526M1004 524V526M1005 525V527M1006 525V527M1007 526V528M1008 526V528M1009 527V529M1010 527V529M1011 528V530M1012 528V530M1013 529V531M1014 529V531M1015 530V532M1016 530V532M1017 531V533M1018 531V533M1019 532V534M1020 532V534M1021 533V535M1022 533V535M1023 534V536M1024 534V536M1025 535V537M1026 535V537M1027 536V538M1028 536V538M1029 537V539M1030 537V539M1031 537V539M1032 538V540M1033 538V540M1034 538V540M1035 538V540M1036 538V540M1037 539V541M1038 539V541M1039 539V541M1040 539V541M1041 539V541M1042 540V542M1043 540V542M1044 540V542M1045 541V543M1046 541V543M1047 541V543M1048 542V544M1049 542V544M1050 542V544M1051 543V545M1052 543V545M1053 543V545M1054 544V546M1055 544V546M1056 544V546M1057 544V546M1058 545V547M1059 545V547M1060 545V547M1061 546V548M1062 546V548M1063 546V548M1064 547V549M1065 547V549M1066 547V549M1067 548V550M1068 548V550M1069 548V550M1070 548V550M1071 548V550M1072 548V550M1073 548V550M1074 549V551M1075 549V551M1076 549V551M1077 549V551M1078 549V551M1079 549V551M1080 549V551M1081 549V551M1082 549V551M1083 549V551M1084 549V551M1085 549V551M1086 549V551M1087 549V551M1088 548V550M1089 548V550M1090 548V550M1091 548V550M1092 548V550M1093 548V550M1094 548V550M1095 548V550M1096 548V550M1097 548V550M1098 548V550M1099 548V550M1100 548V550M1101 548V550M1102 548V550M1103 547V549M1104 547V549M1105 547V549M1106 547V549M1107 547V549M1108 546V548M1109 546V548M1110 546V548M1111 545V547M1112 545V547M1113 544V546M1114 544V546M1115 543V545M1116 543V545M1117 542V544M1118 542V544M1119 542V544M1120 541V543M1121 541V543M1122 541V543M1123 541V543M1124 541V543M1125 541V543M1126 541V543M1127 540V542M1128 540V542M1129 540V542M1130 540V542M1131 540V542M1132 540V542M1133 539V541M1134 539V541M1135 539V541M1136 539V541M1137 538V540M1138 538V540M1139 538V540M1140 538V540M1141 538V540M1142 538V540M1143 537V539M1144 537V539M1145 537V539M1146 537V539M1147 537V539M1148 537V539M1149 537V539M1150 537V539M1151 537V539M1152 537V539M1153 537V539M1154 537V539M1155 537V539M1156 537V539M1157 537V539M1158 537V539M1159 538V540M1160 538V540M1161 538V540M1162 538V540M1163 538V540M1164 538V540M1165 538V540M1166 538V540M1167 538V540M1168 538V540M1169 538V540M1170 538V540M1171 538V540M1172 538V540M1173 538V540M1174 538V540M1175 538V540M1176 538V540M1177 538V540M1178 538V540M1179 538V540M1180 538V540M1181 538V540M1182 538V540M1183 538V540M1184 538V540M1185 539V541M1186 539V541M1187 539V541M1188 539V541M1189 539V541M1190 539V541M1191 539V541M1192 539V541M1193 539V541M1194 539V541M1195 539V541M1196 539V541M1197 539V541M1198 539V541M1199 539V541M1200 539V541M1201 539V541M1202 539V541M1203 539V541M1204 539V541M1205 539V541M1206 539V541M1207 539V541M1208 539V541M1209 539V541M1210 539V541M1211 539V541M1212 540V542M1213 540V542M1214 540V542M1215 541V543M1216 541V543M1217 541V543M1218 542V544M1219 542V544M1220 543V545M1221 543V545M1222 543V545M1223 543V545M1224 544V546M1225 544V546M1226 544V546M1227 544V546M1228 544V546M1229 545V547M1230 545V547M1231 545V547M1232 545V547M1233 545V547M1234 546V548M1235 546V548M1236 546V548M1237 546V548M1238 546V548M1239 546V548M1240 546V548M1241 546V548M1242 547V549M1243 547V549M1244 547V549M1245 547V549M1246 547V549M1247 547V549M1248 547V549M1249 548V550M1250 548V550M1251 548V550M1252 548V550M1253 548V550M1254 548V550M1255 548V550M1256 549V551M1257 549V551M1258 549V551M1259 549V551M1260 549V551M1261 550V552M1262 550V552M1263 550V552M1264 550V552M1265 550V552M1266 551V553M1267 551V553M1268 551V553M1269 551V553M1270 552V554M1271 552V554M1272 552V554M1273 552V554M1274 552V554M1275 552V554M1276 552V554M1277 552V554M1278 552V554M1279 552V554M1280 551V553M1281 551V553M1282 551V553M1283 551V553M1284 550V552M1285 550V552M1286 550V552M1287 549V551M1288 549V551M1289 549V551M1290 549V551M1291 549V551M1292 549V551M1293 549V551M1294 549V551M1295 549V551M1296 549V551M1297 549V551M1298 549V551M1299 549V551M1300 549V551M1301 549V551M1302 549V551M1303 549V551M1304 549V551M1305 549V551M1306 548V550M1307 548V550M1308 548V550M1309 548V550M1310 548V550M1311 548V550M1312 548V550M1313 548V550M1314 548V550M1315 548V550M1316 548V550M1317 548V550M1318 548V550M1319 548V550M1320 548V550M1321 548V550M1322 548V550M1323 548V550M1324 548V550M1325 548V550M1326 548V550M1327 548V550M1328 548V550M1329 548V550M1330 548V550M1331 548V550M1332 548V550M1333 548V550M1334 548V550M1335 548V550M1336 548V550M1337 548V550M1338 548V550M1339 548V550M1340 548V550M1341 548V550M1342 548V550M1343 548V550M1344 547V549M1345 547V549M1346 547V549M1347 547V549M1348 547V549M1349 547V549M1350 547V549M1351 547V549M1352 547V549M1353 547V549M1354 547V549M1355 547V549M1356 547V549M1357 547V549M1358 547V549M1359 547V549M1360 547V549M1361 547V549M1362 547V549M1363 547V549M1364 547V549M1365 547V549M1366 547V549M1367 547V549M1368 547V549M1369 548V550M1370 548V550M1371 549V551M1372 549V551M1373 550V552M1374 550V552M1375 550V552M1376 551V553M1377 551V553M1378 551V553M1379 552V554M1380 552V554M1381 552V554M1382 552V554M1383 553V555M1384 553V555M1385 553V555M1386 553V555M1387 554V556M1388 554V556M1389 554V556M1390 555V557M1391 555V557M1392 555V557M1393 556V558M1394 556V558M1395 556V558M1396 557V559M1397 557V559M1398 557V559M1399 558V560M1400 558V560M1401 559V561M1402 559V561M1403 560V562M1404 560V562M1405 560V562M1406 561V563M1407 561V563M1408 561V563M1409 561V563M1410 561V563M1411 561V563M1412 561V563M1413 561V563M1414 561V563M1415 561V563M1416 561V563M1417 561V563M1418 561V563M1419 560V562M1420 560V562M1421 560V562M1422 560V562M1423 559V561M1424 559V561M1425 559V561M1426 558V560M1427 558V560M1428 558V560M1429 557V559M1430 557V559M1431 557V559M1432 556V558M1433 556V558M1434 556V558M1435 555V557M1436 555V557M1437 555V557M1438 555V557M1439 555V557M1440 555V557M1441 555V557M1442 555V557M1443 555V557M1444 555V557M1445 554V556M1446 554V556M1447 554V556M1448 554V556M1449 554V556M1450 554V556M1451 554V556M1452 554V556M1453 554V556M1454 554V556M1455 554V556M1456 554V556M1457 554V556M1458 554V556M1459 554V556M1460 554V556M1461 554V556M1462 554V556M1463 554V556M1464 553V555M1465 553V555M1466 553V555M1467 553V555M1468 553V555M1469 553V555M1470 553V555M1471 553V555M1472 553V555M1473 553V555M1474 553V555M1475 553V555M1476 553V555M1477 553V555M1478 553V555M1479 552V554M1480 552V554M1481 552V554M1482 552V554M1483 552V554M1484 552V554M1485 551V553M1486 551V553M1487 551V553M1488 550V552M1489 550V552M1490 549V551M1491 549V551M1492 548V550M1493 547V549M1494 547V549M1495 546V548M1496 545V547M1497 544V546M1498 543V545M1499 543V545M1500 542V544M1501 541V543M1502 540V542M1503 539V541M1504 539V541M1505 538V540M1506 537V539M1507 536V538M1508 535V537M1509 535V537M1510 534V536M1511 533V535M1512 532V534M1513 531V533M1514 531V533M1515 530V532M1516 529V531M1517 528V530M1518 527V529M1519 526V528M1520 525V527M1521 524V526M1522 523V525M1523 523V525M1524 522V524M1525 521V523M1526 520V522M1527 519V521M1528 518V520M1529 518V520M1530 517V519M1531 516V518M1532 515V517M1533 514V516M1534 514V516M1535 513V515M1536 512V514M1537 511V513M1538 511V513M1539 510V512M1540 509V511M1541 508V510M1542 507V509M1543 506V508M1544 505V507M1545 504V506M1546 503V505M1547 502V504M1548 501V503M1549 500V502M1550 498V501M1551 497V499M1552 496V498M1553 494V497M1554 493V495M1555 492V494M1556 490V493M1557 489V491M1558 488V490M1559 486V489M1560 485V487M1561 483V486M1562 482V484M1563 480V483M1563 480V481M1564 478V480M1565 477V478M1566 475V477M1567 474V475M1568 472V474M1570 470V472M1571 468V471M1572 467V469M1573 466V468M1574 465V467M1575 463V466M1576 462V464M1577 461V463M1578 460V462M1579 459V461M1580 458V460M1581 458V460M1582 457V459M1583 456V458M1584 455V457M1585 454V456M1586 453V455M1587 452V454M1588 452V454M1589 451V453M1590 450V452M1591 449V451M1592 448V450M1593 448V450M1594 447V449M1595 446V448M1596 445V447M1597 444V446M1598 443V445M1599 442V444M1600 441V443M1601 440V442M1602 439V441M1603 438V440M1604 437V439M1605 436V438M1606 435V437M1607 434V436M1608 433V435M1609 432V434M1610 431V433M1611 430V432M1612 429V431M1613 428V430M1614 427V429M1615 426V428M1616 425V427M1617 424V426M1618 423V425M1619 421V424M1620 420V422M1621 419V421M1622 418V420M1623 416V419M1624 415V417M1625 414V416M1626 413V415M1627 412V414M1628 410V413M1629 409V411M1630 408V410M1631 407V409M1632 406V408M1633 404V407M1634 403V405M1635 402V404M1636 401V403M1637 400V402M1638 398V401M1639 397V399M1640 396V398M1641 394V397M1642 393V395M1643 391V394M1644 390V392M1645 389V391M1646 387V390M1647 386V388M1648 384V387M1649 383V385M1650 381V384M1651 380V382M1652 378V381M1653 377V379M1654 375V378M1655 374V376M1656 372V375M1657 371V373M1658 369V372M1659 368V370M1660 366V369M1661 365V367M1662 364V366M1663 362V365M1664 361V363M1665 359V362M1666 358V360M1667 357V359M1668 356V358M1669 354V357M1670 353V355M1671 352V354M1672 351V353M1673 350V352M1674 348V351M1675 347V349M1676 346V348M1677 345V347M1678 344V346M1679 343V345M1680 342V344M1681 341V343M1682 340V342M1683 339V341M1684 338V340M1685 337V339M1686 336V338M1687 335V337M1688 334V336M1689 332V335M1690 331V333M1691 330V332M1692 329V331M1693 328V330M1694 327V329M1695 326V328M1696 325V327M1697 323V326M1698 322V324M1699 321V323M1700 320V322M1701 319V321M1702 319V321M1703 318V320M1704 317V319M1705 316V318M1706 315V317M1707 314V316M1708 313V315M1709 313V315M1710 312V314M1711 312V314M1712 311V313M1713 310V312M1714 310V312M1715 309V311M1716 309V311M1717 308V310M1718 308V310M1719 307V309M1720 306V308M1721 306V308M1722 305V307M1723 304V306M1724 304V306M1725 303V305M1726 303V305M1727 302V304M1728 301V303M1729 300V302M1730 300V302M1731 299V301M1732 298V300M1733 298V300M1734 297V299M1735 296V298M1736 296V298M1737 295V297M1738 295V297M1739 294V296M1740 293V295M1741 292V294M1742 292V294M1743 291V293M1744 290V292M1745 290V292M1746 289V291M1747 288V290M1748 288V290M1749 287V289M1750 286V288M1751 285V287M1752 285V287M1753 284V286M1754 283V285M1755 282V284M1756 281V283M1757 280V282M1758 279V281M1759 278V280M1760 277V279M1761 276V278M1762 274V277M1763 273V275M1764 272V274M1765 271V273M1766 270V272M1767 269V271M1768 268V270M1769 268V270M1770 267V269M1771 266V268M1772 265V267M1773 264V266M1774 264V266M1775 263V265M1776 263V265M1777 262V264M1778 262V264M1779 262V264M1780 261V263M1781 261V263M1782 261V263M1783 261V263M1784 260V262M1785 260V262M1786 260V262M1787 259V261M1788 259V261M1789 259V261M1790 259V261M1791 258V260M1792 258V260M1793 258V260M1794 257V259M1795 257V259M1796 256V258M1797 256V258M1798 256V258M1799 255V257M1800 255V257M1801 255V257M1802 254V256M1803 254V256M1804 253V255M1805 253V255M1806 252V254M1807 252V254M1808 252V254M1809 251V253M1810 251V253M1811 250V252M1812 249V251M1813 249V251M1814 248V250M1815 248V250M1816 247V249M1817 246V248M1818 246V248M1819 245V247M1820 244V246M1821 244V246M1822 243V245M1823 243V245M1824 242V244M1825 242V244M1826 241V243M1827 241V243M1828 240V242M1829 240V242M1830 239V241M1831 239V241M1832 238V240M1833 238V240M1834 237V239M1835 237V239M1836 236V238M1837 236V238M1838 236V238M1839 236V238M1840 236V238M1841 235V237M1842 235V237M1843 235V237M1844 235V237M1845 235V237M1846 235V237M1847 235V237M1848 235V237M1849 235V237M1850 235V237M1851 235V237M1852 235V237M1853 235V237M1854 235V237M1855 235V237M1856 235V237M1857 235V237M1858 235V237M1859 235V237M1860 235V237M1861 235V237M1862 235V237M1863 235V237M1864 235V237M1865 235V237M1866 235V237M1867 235V237M1868 235V237M1869 234V236M1870 234V236M1871 233V235M1872 233V235M1873 232V234M1874 232V234M1875 231V233M1876 230V232M1877 230V232M1878 230V232M1879 229V231M1880 229V231M1881 228V230M1882 228V230M1883 227V229M1884 227V229M1885 227V229M1886 226V228M1887 226V228M1888 225V227M1889 225V227M1890 225V227M1891 224V226M1892 224V226M1893 224V226M1894 223V225M1895 223V225M1896 223V225M1897 222V224M1898 222V224M1899 222V224M1900 221V223M1901 221V223M1902 221V223M1903 221V223M1904 221V223M1905 221V223M1906 220V222M1907 220V222M1908 220V222M1909 220V222M1910 220V222M1911 220V222M1912 220V222M1913 220V222M1914 220V222M1915 220V222M1916 220V222M1917 220V222M1918 220V222M1919 220V222M1920 220V222M1921 220V222M1922 221V223M1923 221V223M1924 221V223M1925 221V223M1926 221V223M1927 222V224M1928 222V224M1929 222V224M1930 222V224M1931 223V225M1932 223V225M1933 223V225M1934 223V225M1935 224V226M1936 224V226M1937 224V226M1938 224V226M1939 224V226M1940 224V226M1941 224V226M1942 224V226M1943 224V226M1944 224V226M1945 224V226M1946 224V226M1947 224V226M1948 224V226M1949 224V226M1950 224V226M1951 224V226M1952 224V226M1953 224V226M1954 224V226M1955 224V226M1956 224V226M1957 224V226M1958 224V226M1959 223V225M1960 223V225M1961 223V225M1962 223V225M1963 222V224M1964 222V224M1965 221V223M1966 221V223M1967 221V223M1968 220V222M1969 220V222M1970 220V222M1971 220V222M1972 219V221M1973 219V221M1974 219V221M1975 219V221M1976 218V220M1977 218V220M1978 218V220M1979 218V220M1980 218V220M1981 218V220M1982 217V219M1983 217V219M1984 217V219M1985 217V219M1986 217V219M1987 217V219M1988 217V219M1989 216V218M1990 216V218M1991 216V218M1992 216V218M1993 216V218M1994 216V218M1995 216V218M1996 216V218M1997 215V217M1998 215V217M1999 215V217M2000 215V217M2001 215V217M2002 214V216M2003 214V216M2004 214V216M2005 213V215M2006 213V215" stroke="#ff00ff" stroke-width="2" fill="none"/>
<path d="M3.5 1168V1169M4.5 1168V1169M5.5 1168V1169M6.5 1168V1169M7.5 1168V1169M8.5 1168V1169M9.5 1167V1168M10.5 1166V1167M11.5 1166V1167M12.5 1165V1166M13.5 1164V1165M14.5 1163V1164M15.5 1162V1163M16.5 1160V1162M17.5 1159V1160M18.5 1158V1159M19.5 1157V1158M20.5 1157V1158M21.5 1156V1157M22.5 1155V1156M23.5 1155V1156M24.5 1155V1156M25.5 1154V1155M26.5 1154V1155M27.5 1155V1156M28.5 1155V1156M29.5 1155V1156M30.5 1154V1155M31.5 1154V1155M32.5 1155V1156M33.5 1156V1157M34.5 1157V1158M35.5 1158V1161M36.5 1161V1163M37.5 1163V1166M38.5 1166V1169M39.5 1169V1172M40.5 1172V1175M41.5 1175V1177M42.5 1177V1180M43.5 1180V1182M44.5 1182V1185M45.5 1185V1187M46.5 1187V1189M47.5 1189V1191M48.5 1191V1193M49.5 1193V1195M50.5 1195V1197M51.5 1197V1199M52.5 1199V1200M53.5 1200V1201M54.5 1201V1203M55.5 1203V1204M56.5 1204V1205M57.5 1205V1206M58.5 1205V1206M59.5 1206V1207M60.5 1205V1206M61.5 1205V1206M62.5 1204V1205M63.5 1203V1204M64.5 1202V1203M65.5 1201V1202M66.5 1201V1202M67.5 1200V1201M68.5 1199V1200M69.5 1198V1199M70.5 1199V1200M71.5 1199V1200M72.5 1200V1201M73.5 1201V1202M74.5 1202V1203M75.5 1203V1204M76.5 1204V1205M77.5 1205V1206M78.5 1205V1206M79.5 1206V1207M80.5 1207V1208M81.5 1207V1208M82.5 1208V1209M83.5 1208V1209M84.5 1209V1210M85.5 1210V1211M86.5 1210V1211M87.5 1211V1212M88.5 1212V1213M89.5 1213V1214M90.5 1213V1214M91.5 1214V1215M92.5 1214V1215M93.5 1215V1216M94.5 1216V1217M95.5 1217V1218M96.5 1218V1219M97.5 1219V1220M98.5 1220V1221M99.5 1220V1221M100.5 1221V1222M101.5 1221V1222M102.5 1221V1222M103.5 1221V1222M104.5 1221V1222M105.5 1221V1222M106.5 1221V1222M107.5 1221V1222M108.5 1221V1222M109.5 1221V1222M110.5 1220V1221M111.5 1220V1221M112.5 1219V1220M113.5 1217V1219M114.5 1216V1217M115.5 1214V1216M116.5 1212V1214M117.5 1211V1212M118.5 1209V1211M119.5 1207V1209M120.5 1205V1207M121.5 1203V1205M122.5 1201V1203M123.5 1200V1201M124.5 1198V1200M125.5 1197V1198M126.5 1196V1197M127.5 1196V1197M128.5 1196V1197M129.5 1196V1197M130.5 1196V1197M131.5 1197V1198M132.5 1198V1199M133.5 1199V1200M134.5 1199V1200M135.5 1200V1201M136.5 1201V1202M137.5 1202V1203M138.5 1201V1202M139.5 1201V1202M140.5 1201V1202M141.5 1200V1201M142.5 1200V1201M143.5 1199V1200M144.5 1199V1200M145.5 1198V1199M146.5 1197V1198M147.5 1197V1198M148.5 1196V1197M149.5 1196V1197M150.5 1195V1196M151.5 1194V1195M152.5 1194V1195M153.5 1193V1194M154.5 1193V1194M155.5 1192V1193M156.5 1192V1193M157.5 1192V1193M158.5 1192V1193M159.5 1192V1193M160.5 1193V1194M161.5 1193V1194M162.5 1193V1194M163.5 1194V1195M164.5 1195V1196M165.5 1195V1196M166.5 1196V1197M167.5 1197V1198M168.5 1198V1200M169.5 1200V1201M170.5 1201V1202M171.5 1202V1203M172.5 1203V1204M173.5 1204V1205M174.5 1205V1206M175.5 1206V1207M176.5 1207V1208M177.5 1208V1209M178.5 1209V1210M179.5 1210V1212M180.5 1212V1213M181.5 1213V1215M182.5 1215V1217M183.5 1217V1218M184.5 1218V1220M185.5 1220V1221M186.5 1221V1222M187.5 1222V1223M188.5 1223V1224M189.5 1224V1225M190.5 1224V1225M191.5 1225V1226M192.5 1224V1225M193.5 1224V1225M194.5 1224V1225M195.5 1224V1225M196.5 1224V1225M197.5 1224V1225M198.5 1224V1225M199.5 1224V1225M200.5 1224V1225M201.5 1224V1225M202.5 1224V1225M203.5 1224V1225M204.5 1223V1224M205.5 1221V1223M206.5 1220V1221M207.5 1218V1220M208.5 1215V1218M209.5 1213V1215M210.5 1211V1213M211.5 1209V1211M212.5 1206V1209M213.5 1204V1206M214.5 1202V1204M215.5 1201V1202M216.5 1199V1201M217.5 1197V1199M218.5 1195V1197M219.5 1193V1195M220.5 1191V1193M221.5 1189V1191M222.5 1186V1189M223.5 1184V1186M224.5 1182V1184M225.5 1181V1182M226.5 1179V1181M227.5 1178V1179M228.5 1177V1178M229.5 1175V1177M230.5 1174V1175M231.5 1173V1174M232.5 1172V1173M233.5 1171V1172M234.5 1170V1171M235.5 1170V1171M236.5 1170V1171M237.5 1170V1171M238.5 1171V1172M239.5 1172V1173M240.5 1173V1174M241.5 1174V1175M242.5 1175V1176M243.5 1176V1177M244.5 1177V1178M245.5 1178V1179M246.5 1179V1180M247.5 1180V1181M248.5 1181V1182M249.5 1181V1183M250.5 1183V1184M251.5 1184V1185M252.5 1185V1187M253.5 1187V1189M254.5 1189V1191M255.5 1191V1193M256.5 1193V1195M257.5 1195V1197M258.5 1197V1198M259.5 1198V1200M260.5 1200V1202M261.5 1202V1203M262.5 1203V1204M263.5 1204V1206M264.5 1206V1207M265.5 1207V1208M266.5 1208V1209M267.5 1209V1210M268.5 1210V1211M269.5 1211V1212M270.5 1211V1212M271.5 1212V1213M272.5 1212V1213M273.5 1212V1213M274.5 1212V1213M275.5 1212V1213M276.5 1212V1213M277.5 1212V1213M278.5 1211V1212M279.5 1211V1212M280.5 1210V1211M281.5 1209V1210M282.5 1208V1209M283.5 1207V1208M284.5 1206V1207M285.5 1205V1206M286.5 1203V1205M287.5 1202V1203M288.5 1201V1202M289.5 1200V1201M290.5 1199V1200M291.5 1197V1199M292.5 1196V1197M293.5 1195V1196M294.5 1193V1195M295.5 1192V1193M296.5 1191V1192M297.5 1190V1191M298.5 1188V1190M299.5 1187V1188M300.5 1186V1187M301.5 1185V1186M302.5 1185V1186M303.5 1184V1185M304.5 1183V1184M305.5 1182V1183M306.5 1181V1182M307.5 1180V1181M308.5 1179V1180M309.5 1178V1179M310.5 1177V1178M311.5 1176V1177M312.5 1175V1176M313.5 1173V1175M314.5 1172V1173M315.5 1171V1172M316.5 1171V1172M317.5 1170V1171M318.5 1169V1170M319.5 1168V1169M320.5 1166V1168M321.5 1165V1166M322.5 1163V1165M323.5 1161V1163M324.5 1160V1161M325.5 1158V1160M326.5 1156V1158M327.5 1155V1156M328.5 1153V1155M329.5 1151V1153M330.5 1149V1151M331.5 1148V1149M332.5 1146V1148M333.5 1145V1146M334.5 1144V1145M335.5 1142V1144M336.5 1141V1142M337.5 1140V1141M338.5 1139V1140M339.5 1138V1139M340.5 1137V1138M341.5 1137V1138M342.5 1136V1137M343.5 1136V1137M344.5 1137V1138M345.5 1137V1138M346.5 1137V1138M347.5 1137V1138M348.5 1136V1137M349.5 1136V1137M350.5 1136V1137M351.5 1136V1137M352.5 1136V1137M353.5 1136V1137M354.5 1136V1137M355.5 1136V1137M356.5 1137V1138M357.5 1137V1138M358.5 1138V1139M359.5 1139V1140M360.5 1139V1140M361.5 1140V1141M362.5 1140V1141M363.5 1141V1142M364.5 1142V1143M365.5 1143V1144M366.5 1144V1145M367.5 1145V1146M368.5 1146V1148M369.5 1148V1149M370.5 1149V1151M371.5 1151V1153M372.5 1153V1155M373.5 1155V1157M374.5 1157V1159M375.5 1159V1162M376.5 1162V1164M377.5 1164V1165M378.5 1165V1167M379.5 1167V1169M380.5 1169V1171M381.5 1171V1172M382.5 1172V1173M383.5 1173V1175M384.5 1175V1176M385.5 1176V1177M386.5 1177V1178M387.5 1178V1179M388.5 1179V1180M389.5 1180V1181M390.5 1180V1181M391.5 1181V1182M392.5 1181V1182M393.5 1182V1183M394.5 1182V1183M395.5 1182V1183M396.5 1182V1183M397.5 1183V1184M398.5 1183V1184M399.5 1184V1185M400.5 1185V1186M401.5 1186V1187M402.5 1186V1187M403.5 1187V1188M404.5 1187V1188M405.5 1187V1188M406.5 1187V1188M407.5 1187V1188M408.5 1187V1188M409.5 1186V1187M410.5 1186V1187M411.5 1186V1187M412.5 1186V1187M413.5 1186V1187M414.5 1186V1187M415.5 1186V1187M416.5 1186V1187M417.5 1186V1187M418.5 1187V1188M419.5 1187V1188M420.5 1188V1189M421.5 1188V1189M422.5 1189V1190M423.5 1189V1190M424.5 1190V1191M425.5 1190V1191M426.5 1191V1192M427.5 1191V1192M428.5 1192V1193M429.5 1192V1193M430.5 1192V1193M431.5 1192V1193M432.5 1192V1193M433.5 1192V1193M434.5 1192V1193M435.5 1192V1193M436.5 1191V1192M437.5 1190V1191M438.5 1189V1190M439.5 1188V1189M440.5 1186V1188M441.5 1185V1186M442.5 1183V1185M443.5 1182V1183M444.5 1180V1182M445.5 1179V1180M446.5 1178V1179M447.5 1177V1178M448.5 1176V1177M449.5 1175V1176M450.5 1174V1175M451.5 1173V1174M452.5 1172V1173M453.5 1171V1172M454.5 1171V1172M455.5 1170V1171M456.5 1170V1171M457.5 1170V1171M458.5 1171V1172M459.5 1171V1172M460.5 1171V1172M461.5 1172V1173M462.5 1172V1173M463.5 1172V1173M464.5 1172V1173M465.5 1172V1173M466.5 1173V1174M467.5 1173V1174M468.5 1173V1174M469.5 1173V1174M470.5 1173V1174M471.5 1173V1174M472.5 1173V1174M473.5 1173V1174M474.5 1174V1175M475.5 1174V1175M476.5 1174V1175M477.5 1174V1175M478.5 1174V1175M479.5 1174V1175M480.5 1175V1176M481.5 1175V1176M482.5 1176V1177M483.5 1176V1177M484.5 1177V1178M485.5 1177V1178M486.5 1178V1179M487.5 1179V1181M488.5 1181V1182M489.5 1182V1183M490.5 1183V1185M491.5 1185V1186M492.5 1185V1186M493.5 1186V1187M494.5 1187V1188M495.5 1187V1188M496.5 1187V1188M497.5 1187V1188M498.5 1187V1188M499.5 1187V1188M500.5 1187V1188M501.5 1186V1187M502.5 1186V1187M503.5 1186V1187M504.5 1186V1187M505.5 1185V1186M506.5 1185V1186M507.5 1185V1186M508.5 1185V1186M509.5 1185V1186M510.5 1185V1186M511.5 1185V1186M512.5 1185V1186M513.5 1185V1186M514.5 1185V1186M515.5 1185V1186M516.5 1185V1186M517.5 1185V1186M518.5 1185V1186M519.5 1186V1187M520.5 1186V1187M521.5 1186V1187M522.5 1186V1187M523.5 1186V1187M524.5 1186V1187M525.5 1187V1188M526.5 1187V1188M527.5 1187V1188M528.5 1188V1189M529.5 1188V1189M530.5 1189V1190M531.5 1190V1191M532.5 1191V1192M533.5 1192V1193M534.5 1193V1195M535.5 1195V1196M536.5 1196V1197M537.5 1197V1198M538.5 1198V1199M539.5 1199V1200M540.5 1200V1201M541.5 1200V1201M542.5 1201V1202M543.5 1202V1203M544.5 1203V1204M545.5 1203V1204M546.5 1204V1205M547.5 1204V1205M548.5 1204V1205M549.5 1204V1205M550.5 1204V1205M551.5 1204V1205M552.5 1204V1205M553.5 1203V1204M554.5 1203V1204M555.5 1202V1203M556.5 1202V1203M557.5 1201V1202M558.5 1200V1201M559.5 1200V1201M560.5 1199V1200M561.5 1199V1200M562.5 1198V1199M563.5 1198V1199M564.5 1198V1199M565.5 1198V1199M566.5 1197V1198M567.5 1197V1198M568.5 1197V1198M569.5 1197V1198M570.5 1197V1198M571.5 1197V1198M572.5 1197V1198M573.5 1197V1198M574.5 1197V1198M575.5 1197V1198M576.5 1197V1198M577.5 1197V1198M578.5 1198V1199M579.5 1198V1199M580.5 1198V1199M581.5 1198V1199M582.5 1198V1199M583.5 1198V1199M584.5 1198V1199M585.5 1197V1198M586.5 1197V1198M587.5 1197V1198M588.5 1197V1198M589.5 1197V1198M590.5 1197V1198M591.5 1197V1198M592.5 1197V1198M593.5 1197V1198M594.5 1197V1198M595.5 1197V1198M596.5 1197V1198M597.5 1196V1197M598.5 1196V1197M599.5 1196V1197M600.5 1196V1197M601.5 1196V1197M602.5 1195V1196M603.5 1195V1196M604.5 1194V1195M605.5 1194V1195M606.5 1193V1194M607.5 1192V1193M608.5 1191V1192M609.5 1189V1191M610.5 1188V1189M611.5 1186V1188M612.5 1184V1186M613.5 1182V1184M614.5 1180V1182M615.5 1179V1180M616.5 1177V1179M617.5 1176V1177M618.5 1175V1176M619.5 1174V1175M620.5 1173V1174M621.5 1172V1173M622.5 1171V1172M623.5 1171V1172M624.5 1170V1171M625.5 1170V1171M626.5 1169V1170M627.5 1169V1170M628.5 1169V1170M629.5 1169V1170M630.5 1169V1170M631.5 1169V1170M632.5 1169V1170M633.5 1169V1170M634.5 1170V1171M635.5 1170V1171M636.5 1171V1172M637.5 1172V1173M638.5 1173V1174M639.5 1174V1176M640.5 1176V1177M641.5 1177V1179M642.5 1179V1180M643.5 1180V1182M644.5 1182V1183M645.5 1183V1185M646.5 1185V1186M647.5 1186V1188M648.5 1188V1189M649.5 1189V1190M650.5 1190V1191M651.5 1191V1192M652.5 1191V1192M653.5 1192V1193M654.5 1192V1193M655.5 1193V1194M656.5 1193V1194M657.5 1193V1194M658.5 1194V1195M659.5 1194V1195M660.5 1193V1194M661.5 1193V1194M662.5 1192V1193M663.5 1191V1192M664.5 1189V1191M665.5 1188V1189M666.5 1186V1188M667.5 1184V1186M668.5 1183V1184M669.5 1181V1183M670.5 1179V1181M671.5 1177V1179M672.5 1176V1177M673.5 1174V1176M674.5 1172V1174M675.5 1170V1172M676.5 1169V1170M677.5 1167V1169M678.5 1165V1167M679.5 1164V1165M680.5 1162V1164M681.5 1161V1162M682.5 1160V1161M683.5 1159V1160M684.5 1158V1159M685.5 1157V1158M686.5 1156V1157M687.5 1155V1156M688.5 1155V1156M689.5 1154V1155M690.5 1153V1154M691.5 1152V1153M692.5 1151V1152M693.5 1150V1151M694.5 1149V1150M695.5 1147V1149M696.5 1146V1147M697.5 1145V1146M698.5 1144V1145M699.5 1143V1144M700.5 1143V1144M701.5 1142V1143M702.5 1142V1143M703.5 1142V1143M704.5 1142V1143M705.5 1142V1143M706.5 1142V1143M707.5 1142V1143M708.5 1143V1144M709.5 1143V1145M710.5 1145V1146M711.5 1146V1147M712.5 1147V1148M713.5 1148V1149M714.5 1149V1151M715.5 1151V1152M716.5 1152V1153M717.5 1153V1154M718.5 1153V1154M719.5 1154V1155M720.5 1154V1155M721.5 1155V1156M722.5 1155V1156M723.5 1155V1156M724.5 1156V1157M725.5 1156V1157M726.5 1156V1157M727.5 1156V1157M728.5 1156V1157M729.5 1157V1158M730.5 1157V1158M731.5 1157V1158M732.5 1157V1158M733.5 1157V1158M734.5 1157V1158M735.5 1157V1158M736.5 1157V1158M737.5 1157V1158M738.5 1158V1159M739.5 1158V1159M740.5 1159V1160M741.5 1159V1160M742.5 1160V1161M743.5 1161V1162M744.5 1161V1162M745.5 1162V1163M746.5 1163V1164M747.5 1164V1166M748.5 1166V1167M749.5 1167V1169M750.5 1169V1171M751.5 1171V1172M752.5 1172V1174M753.5 1174V1175M754.5 1175V1177M755.5 1177V1179M756.5 1179V1180M757.5 1180V1182M758.5 1182V1183M759.5 1183V1185M760.5 1185V1186M761.5 1186V1187M762.5 1187V1188M763.5 1188V1189M764.5 1188V1189M765.5 1189V1190M766.5 1190V1191M767.5 1190V1191M768.5 1191V1192M769.5 1191V1192M770.5 1192V1193M771.5 1192V1193M772.5 1193V1194M773.5 1193V1194M774.5 1193V1194M775.5 1194V1195M776.5 1194V1195M777.5 1195V1196M778.5 1196V1197M779.5 1196V1197M780.5 1197V1198M781.5 1198V1199M782.5 1199V1200M783.5 1200V1201M784.5 1201V1202M785.5 1202V1203M786.5 1203V1204M787.5 1204V1205M788.5 1205V1206M789.5 1206V1207M790.5 1207V1208M791.5 1208V1209M792.5 1209V1210M793.5 1210V1211M794.5 1210V1211M795.5 1211V1212M796.5 1212V1213M797.5 1212V1213M798.5 1213V1214M799.5 1213V1214M800.5 1213V1214M801.5 1213V1214M802.5 1214V1215M803.5 1214V1215M804.5 1214V1215M805.5 1214V1215M806.5 1214V1215M807.5 1215V1216M808.5 1215V1216M809.5 1215V1216M810.5 1215V1216M811.5 1215V1216M812.5 1216V1217M813.5 1216V1217M814.5 1216V1217M815.5 1216V1217M816.5 1216V1217M817.5 1217V1218M818.5 1218V1219M819.5 1218V1220M820.5 1220V1221M821.5 1221V1222M822.5 1222V1224M823.5 1224V1225M824.5 1225V1226M825.5 1226V1227M826.5 1226V1227M827.5 1227V1228M828.5 1226V1227M829.5 1226V1227M830.5 1226V1227M831.5 1225V1226M832.5 1225V1226M833.5 1224V1225M834.5 1223V1224M835.5 1222V1223M836.5 1220V1222M837.5 1219V1220M838.5 1217V1219M839.5 1216V1217M840.5 1216V1217M841.5 1215V1216M842.5 1215V1216M843.5 1216V1217M844.5 1216V1217M845.5 1217V1218M846.5 1218V1219M847.5 1219V1220M848.5 1220V1221M849.5 1220V1221M850.5 1221V1222M851.5 1221V1222M852.5 1221V1222M853.5 1222V1223M854.5 1222V1223M855.5 1222V1223M856.5 1221V1222M857.5 1221V1222M858.5 1221V1222M859.5 1221V1222M860.5 1220V1221M861.5 1219V1220M862.5 1218V1219M863.5 1217V1218M864.5 1216V1217M865.5 1214V1216M866.5 1213V1214M867.5 1212V1213M868.5 1210V1212M869.5 1209V1210M870.5 1207V1209M871.5 1206V1207M872.5 1205V1206M873.5 1203V1205M874.5 1202V1203M875.5 1200V1202M876.5 1199V1200M877.5 1198V1199M878.5 1196V1198M879.5 1195V1196M880.5 1193V1195M881.5 1192V1193M882.5 1191V1192M883.5 1189V1191M884.5 1188V1189M885.5 1187V1188M886.5 1185V1187M887.5 1184V1185M888.5 1183V1184M889.5 1183V1184M890.5 1182V1183M891.5 1181V1182M892.5 1180V1181M893.5 1180V1181M894.5 1179V1180M895.5 1179V1180M896.5 1179V1180M897.5 1180V1181M898.5 1180V1181M899.5 1181V1182M900.5 1181V1182M901.5 1182V1183M902.5 1183V1184M903.5 1184V1185M904.5 1185V1186M905.5 1186V1187M906.5 1187V1188M907.5 1188V1189M908.5 1188V1189M909.5 1189V1190M910.5 1190V1191M911.5 1191V1192M912.5 1192V1193M913.5 1193V1194M914.5 1193V1194M915.5 1194V1195M916.5 1195V1196M917.5 1196V1197M918.5 1196V1197M919.5 1197V1198M920.5 1197V1198M921.5 1198V1199M922.5 1198V1199M923.5 1197V1198M924.5 1197V1198M925.5 1197V1198M926.5 1196V1197M927.5 1195V1196M928.5 1194V1195M929.5 1193V1194M930.5 1192V1193M931.5 1191V1192M932.5 1190V1191M933.5 1190V1191M934.5 1189V1190M935.5 1189V1190M936.5 1188V1189M937.5 1188V1189M938.5 1188V1189M939.5 1188V1189M940.5 1189V1190M941.5 1189V1190M942.5 1189V1190M943.5 1190V1191M944.5 1190V1191M945.5 1191V1192M946.5 1192V1193M947.5 1193V1194M948.5 1193V1194M949.5 1194V1195M950.5 1195V1196M951.5 1195V1196M952.5 1196V1197M953.5 1196V1197M954.5 1197V1198M955.5 1197V1198M956.5 1198V1199M957.5 1198V1199M958.5 1198V1199M959.5 1199V1200M960.5 1199V1200M961.5 1199V1200M962.5 1199V1200M963.5 1200V1201M964.5 1199V1200M965.5 1199V1200M966.5 1199V1200M967.5 1199V1200M968.5 1199V1200M969.5 1199V1200M970.5 1198V1199M971.5 1198V1199M972.5 1198V1199M973.5 1198V1199M974.5 1198V1199M975.5 1198V1199M976.5 1199V1200M977.5 1199V1200M978.5 1200V1201M979.5 1200V1201M980.5 1201V1202M981.5 1202V1203M982.5 1202V1203M983.5 1203V1204M984.5 1203V1204M985.5 1204V1205M986.5 1205V1206M987.5 1206V1207M988.5 1207V1208M989.5 1208V1209M990.5 1209V1210M991.5 1210V1211M992.5 1211V1212M993.5 1211V1212M994.5 1212V1213M995.5 1212V1213M996.5 1213V1214M997.5 1213V1214M998.5 1213V1214M999.5 1213V1214M1000.5 1213V1214M1001.5 1214V1215M1002.5 1214V1215M1003.5 1214V1215M1004.5 1213V1214M1005.5 1213V1214M1006.5 1212V1213M1007.5 1212V1213M1008.5 1211V1212M1009.5 1211V1212M1010.5 1210V1211M1011.5 1209V1210M1012.5 1209V1210M1013.5 1208V1209M1014.5 1207V1208M1015.5 1207V1208M1016.5 1207V1208M1017.5 1206V1207M1018.5 1206V1207M1019.5 1205V1206M1020.5 1204V1205M1021.5 1204V1205M1022.5 1203V1204M1023.5 1202V1203M1024.5 1201V1202M1025.5 1200V1201M1026.5 1199V1200M1027.5 1198V1199M1028.5 1197V1198M1029.5 1196V1197M1030.5 1195V1196M1031.5 1194V1195M1032.5 1193V1194M1033.5 1192V1193M1034.5 1191V1192M1035.5 1190V1191M1036.5 1189V1190M1037.5 1188V1189M1038.5 1187V1188M1039.5 1186V1187M1040.5 1186V1187M1041.5 1185V1186M1042.5 1185V1186M1043.5 1185V1186M1044.5 1185V1186M1045.5 1185V1186M1046.5 1185V1186M1047.5 1185V1186M1048.5 1185V1186M1049.5 1185V1186M1050.5 1185V1186M1051.5 1185V1186M1052.5 1185V1186M1053.5 1185V1186M1054.5 1186V1187M1055.5 1186V1187M1056.5 1186V1187M1057.5 1186V1187M1058.5 1186V1187M1059.5 1187V1188M1060.5 1187V1188M1061.5 1188V1189M1062.5 1188V1189M1063.5 1189V1190M1064.5 1190V1191M1065.5 1190V1191M1066.5 1191V1192M1067.5 1192V1193M1068.5 1192V1193M1069.5 1192V1193M1070.5 1193V1194M1071.5 1193V1194M1072.5 1193V1194M1073.5 1193V1194M1074.5 1192V1193M1075.5 1192V1193M1076.5 1192V1193M1077.5 1191V1192M1078.5 1190V1191M1079.5 1190V1191M1080.5 1189V1190M1081.5 1188V1189M1082.5 1187V1188M1083.5 1185V1187M1084.5 1184V1185M1085.5 1183V1184M1086.5 1182V1183M1087.5 1181V1182M1088.5 1181V1182M1089.5 1180V1181M1090.5 1179V1180M1091.5 1179V1180M1092.5 1179V1180M1093.5 1178V1179M1094.5 1178V1179M1095.5 1178V1179M1096.5 1178V1179M1097.5 1178V1179M1098.5 1178V1179M1099.5 1178V1179M1100.5 1178V1179M1101.5 1178V1179M1102.5 1178V1179M1103.5 1178V1179M1104.5 1178V1179M1105.5 1179V1180M1106.5 1179V1180M1107.5 1179V1180M1108.5 1179V1180M1109.5 1179V1180M1110.5 1178V1179M1111.5 1178V1179M1112.5 1178V1179M1113.5 1177V1178M1114.5 1177V1178M1115.5 1176V1177M1116.5 1175V1176M1117.5 1175V1176M1118.5 1174V1175M1119.5 1173V1174M1120.5 1173V1174M1121.5 1172V1173M1122.5 1173V1174M1123.5 1174V1175M1124.5 1175V1177M1125.5 1177V1178M1126.5 1178V1179M1127.5 1179V1180M1128.5 1180V1182M1129.5 1182V1183M1130.5 1183V1185M1131.5 1185V1187M1132.5 1187V1188M1133.5 1188V1190M1134.5 1190V1192M1135.5 1192V1193M1136.5 1193V1195M1137.5 1195V1197M1138.5 1197V1198M1139.5 1198V1200M1140.5 1200V1202M1141.5 1202V1203M1142.5 1203V1205M1143.5 1205V1207M1144.5 1207V1208M1145.5 1208V1209M1146.5 1209V1210M1147.5 1210V1211M1148.5 1211V1212M1149.5 1212V1213M1150.5 1212V1213M1151.5 1213V1214M1152.5 1213V1214M1153.5 1213V1214M1154.5 1213V1214M1155.5 1213V1214M1156.5 1213V1214M1157.5 1213V1214M1158.5 1213V1214M1159.5 1213V1214M1160.5 1213V1214M1161.5 1212V1213M1162.5 1212V1213M1163.5 1212V1213M1164.5 1211V1212M1165.5 1210V1211M1166.5 1210V1211M1167.5 1209V1210M1168.5 1209V1210M1169.5 1208V1209M1170.5 1208V1209M1171.5 1207V1208M1172.5 1206V1207M1173.5 1206V1207M1174.5 1205V1206M1175.5 1204V1205M1176.5 1203V1204M1177.5 1202V1203M1178.5 1202V1203M1179.5 1201V1202M1180.5 1200V1201M1181.5 1200V1201M1182.5 1200V1201M1183.5 1199V1200M1184.5 1199V1200M1185.5 1199V1200M1186.5 1199V1200M1187.5 1199V1200M1188.5 1199V1200M1189.5 1199V1200M1190.5 1199V1200M1191.5 1199V1200M1192.5 1199V1200M1193.5 1199V1200M1194.5 1199V1200M1195.5 1200V1201M1196.5 1200V1201M1197.5 1200V1201M1198.5 1199V1200M1199.5 1199V1200M1200.5 1199V1200M1201.5 1199V1200M1202.5 1199V1200M1203.5 1199V1200M1204.5 1199V1200M1205.5 1199V1200M1206.5 1200V1201M1207.5 1200V1201M1208.5 1201V1202M1209.5 1201V1202M1210.5 1202V1203M1211.5 1203V1204M1212.5 1204V1205M1213.5 1205V1206M1214.5 1206V1207M1215.5 1207V1208M1216.5 1208V1209M1217.5 1209V1210M1218.5 1209V1210M1219.5 1210V1211M1220.5 1211V1212M1221.5 1211V1212M1222.5 1212V1213M1223.5 1212V1213M1224.5 1213V1214M1225.5 1213V1214M1226.5 1214V1215M1227.5 1214V1215M1228.5 1215V1216M1229.5 1215V1216M1230.5 1215V1216M1231.5 1215V1216M1232.5 1215V1216M1233.5 1215V1216M1234.5 1215V1216M1235.5 1215V1216M1236.5 1214V1215M1237.5 1214V1215M1238.5 1214V1215M1239.5 1213V1214M1240.5 1213V1214M1241.5 1212V1213M1242.5 1212V1213M1243.5 1211V1212M1244.5 1211V1212M1245.5 1210V1211M1246.5 1210V1211M1247.5 1209V1210M1248.5 1209V1210M1249.5 1208V1209M1250.5 1208V1209M1251.5 1208V1209M1252.5 1207V1208M1253.5 1207V1208M1254.5 1206V1207M1255.5 1206V1207M1256.5 1205V1206M1257.5 1205V1206M1258.5 1205V1206M1259.5 1204V1205M1260.5 1204V1205M1261.5 1204V1205M1262.5 1205V1206M1263.5 1205V1206M1264.5 1205V1206M1265.5 1206V1207M1266.5 1206V1207M1267.5 1207V1208M1268.5 1207V1208M1269.5 1208V1209M1270.5 1208V1209M1271.5 1209V1210M1272.5 1209V1210M1273.5 1209V1210M1274.5 1209V1210M1275.5 1208V1209M1276.5 1208V1209M1277.5 1207V1208M1278.5 1206V1207M1279.5 1204V1206M1280.5 1203V1204M1281.5 1202V1203M1282.5 1200V1202M1283.5 1199V1200M1284.5 1198V1199M1285.5 1196V1198M1286.5 1195V1196M1287.5 1194V1195M1288.5 1193V1194M1289.5 1192V1193M1290.5 1191V1192M1291.5 1191V1192M1292.5 1190V1191M1293.5 1189V1190M1294.5 1189V1190M1295.5 1188V1189M1296.5 1188V1189M1297.5 1188V1189M1298.5 1188V1189M1299.5 1187V1188M1300.5 1187V1188M1301.5 1187V1188M1302.5 1186V1187M1303.5 1186V1187M1304.5 1185V1186M1305.5 1184V1185M1306.5 1184V1185M1307.5 1183V1184M1308.5 1183V1184M1309.5 1182V1183M1310.5 1182V1183M1311.5 1182V1183M1312.5 1182V1183M1313.5 1182V1183M1314.5 1182V1183M1315.5 1181V1182M1316.5 1181V1182M1317.5 1181V1182M1318.5 1181V1182M1319.5 1181V1182M1320.5 1181V1182M1321.5 1181V1182M1322.5 1181V1182M1323.5 1181V1182M1324.5 1181V1182M1325.5 1181V1182M1326.5 1181V1182M1327.5 1181V1182M1328.5 1182V1183M1329.5 1182V1183M1330.5 1182V1183M1331.5 1182V1183M1332.5 1183V1184M1333.5 1183V1184M1334.5 1183V1184M1335.5 1183V1184M1336.5 1184V1185M1337.5 1184V1185M1338.5 1184V1185M1339.5 1184V1185M1340.5 1184V1185M1341.5 1184V1185M1342.5 1184V1185M1343.5 1184V1185M1344.5 1184V1185M1345.5 1184V1185M1346.5 1184V1185M1347.5 1185V1186M1348.5 1185V1186M1349.5 1185V1186M1350.5 1186V1187M1351.5 1187V1188M1352.5 1187V1188M1353.5 1187V1188M1354.5 1188V1189M1355.5 1188V1189M1356.5 1189V1190M1357.5 1189V1190M1358.5 1189V1190M1359.5 1190V1191M1360.5 1190V1191M1361.5 1191V1192M1362.5 1191V1192M1363.5 1192V1193M1364.5 1192V1193M1365.5 1193V1194M1366.5 1193V1194M1367.5 1194V1195M1368.5 1195V1196M1369.5 1196V1197M1370.5 1196V1197M1371.5 1197V1198M1372.5 1198V1199M1373.5 1199V1200M1374.5 1200V1201M1375.5 1201V1202M1376.5 1202V1203M1377.5 1203V1204M1378.5 1204V1205M1379.5 1204V1205M1380.5 1205V1206M1381.5 1205V1206M1382.5 1205V1206M1383.5 1206V1207M1384.5 1206V1207M1385.5 1206V1207M1386.5 1206V1207M1387.5 1206V1207M1388.5 1206V1207M1389.5 1206V1207M1390.5 1206V1207M1391.5 1206V1207M1392.5 1206V1207M1393.5 1206V1207M1394.5 1206V1207M1395.5 1206V1207M1396.5 1206V1207M1397.5 1206V1207M1398.5 1206V1207M1399.5 1205V1206M1400.5 1205V1206M1401.5 1204V1205M1402.5 1204V1205M1403.5 1204V1205M1404.5 1203V1204M1405.5 1203V1204M1406.5 1203V1204M1407.5 1203V1204M1408.5 1202V1203M1409.5 1202V1203M1410.5 1202V1203M1411.5 1202V1203M1412.5 1201V1202M1413.5 1200V1201M1414.5 1199V1200M1415.5 1197V1199M1416.5 1195V1197M1417.5 1193V1195M1418.5 1191V1193M1419.5 1189V1191M1420.5 1187V1189M1421.5 1185V1187M1422.5 1183V1185M1423.5 1181V1183M1424.5 1179V1181M1425.5 1177V1179M1426.5 1175V1177M1427.5 1174V1175M1428.5 1172V1174M1429.5 1171V1172M1430.5 1170V1171M1431.5 1169V1170M1432.5 1168V1169M1433.5 1167V1168M1434.5 1166V1167M1435.5 1166V1167M1436.5 1166V1167M1437.5 1166V1167M1438.5 1167V1168M1439.5 1168V1169M1440.5 1169V1170M1441.5 1170V1172M1442.5 1172V1173M1443.5 1173V1175M1444.5 1175V1176M1445.5 1176V1177M1446.5 1177V1179M1447.5 1179V1180M1448.5 1180V1182M1449.5 1182V1183M1450.5 1183V1184M1451.5 1184V1185M1452.5 1185V1186M1453.5 1186V1187M1454.5 1187V1188M1455.5 1188V1189M1456.5 1189V1190M1457.5 1190V1191M1458.5 1191V1192M1459.5 1191V1192M1460.5 1192V1193M1461.5 1192V1193M1462.5 1193V1194M1463.5 1193V1194M1464.5 1193V1194M1465.5 1193V1194M1466.5 1194V1195M1467.5 1194V1195M1468.5 1194V1195M1469.5 1194V1195M1470.5 1194V1195M1471.5 1194V1195M1472.5 1194V1195M1473.5 1195V1196M1474.5 1195V1196M1475.5 1195V1196M1476.5 1195V1196M1477.5 1195V1196M1478.5 1195V1196M1479.5 1195V1196M1480.5 1194V1195M1481.5 1194V1195M1482.5 1193V1194M1483.5 1192V1193M1484.5 1191V1192M1485.5 1189V1191M1486.5 1188V1189M1487.5 1186V1188M1488.5 1183V1186M1489.5 1181V1183M1490.5 1178V1181M1491.5 1175V1178M1492.5 1172V1175M1493.5 1169V1172M1494.5 1166V1169M1495.5 1164V1166M1496.5 1161V1164M1497.5 1158V1161M1498.5 1156V1158M1499.5 1154V1156M1500.5 1152V1154M1501.5 1150V1152M1502.5 1149V1150M1503.5 1148V1149M1504.5 1147V1148M1505.5 1146V1147M1506.5 1145V1146M1507.5 1144V1145M1508.5 1144V1145M1509.5 1143V1144M1510.5 1143V1144M1511.5 1142V1143M1512.5 1142V1143M1513.5 1141V1142M1514.5 1141V1142M1515.5 1141V1142M1516.5 1142V1143M1517.5 1142V1143M1518.5 1142V1143M1519.5 1143V1144M1520.5 1144V1145M1521.5 1145V1146M1522.5 1146V1147M1523.5 1147V1148M1524.5 1148V1149M1525.5 1149V1151M1526.5 1151V1152M1527.5 1152V1153M1528.5 1153V1154M1529.5 1154V1156M1530.5 1156V1157M1531.5 1157V1158M1532.5 1158V1160M1533.5 1160V1161M1534.5 1161V1163M1535.5 1163V1164M1536.5 1164V1165M1537.5 1165V1166M1538.5 1166V1167M1539.5 1166V1167M1540.5 1167V1168M1541.5 1168V1169M1542.5 1168V1169M1543.5 1168V1169M1544.5 1168V1169M1545.5 1169V1170M1546.5 1169V1170M1547.5 1169V1170M1548.5 1168V1169M1549.5 1168V1169M1550.5 1167V1168M1551.5 1166V1167M1552.5 1164V1166M1553.5 1163V1164M1554.5 1161V1163M1555.5 1159V1161M1556.5 1158V1159M1557.5 1156V1158M1558.5 1154V1156M1559.5 1152V1154M1560.5 1150V1152M1561.5 1148V1150M1562.5 1146V1148M1563.5 1144V1146M1564.5 1142V1144M1565.5 1141V1142M1566.5 1139V1141M1567.5 1138V1139M1568.5 1137V1138M1569.5 1136V1137M1570.5 1135V1136M1571.5 1134V1135M1572.5 1133V1134M1573.5 1132V1133M1574.5 1131V1132M1575.5 1130V1131M1576.5 1131V1132M1577.5 1131V1133M1578.5 1133V1135M1579.5 1135V1138M1580.5 1138V1141M1581.5 1141V1144M1582.5 1144V1148M1583.5 1148V1152M1584.5 1152V1155M1585.5 1155V1159M1586.5 1159V1163M1587.5 1163V1166M1588.5 1166V1169M1589.5 1169V1171M1590.5 1171V1174M1591.5 1174V1176M1592.5 1176V1179M1593.5 1179V1181M1594.5 1181V1183M1595.5 1183V1185M1596.5 1185V1186M1597.5 1186V1188M1598.5 1188V1189M1599.5 1189V1190M1600.5 1190V1191M1601.5 1191V1192M1602.5 1192V1193M1603.5 1193V1194M1604.5 1193V1194M1605.5 1194V1195M1606.5 1194V1195M1607.5 1194V1195M1608.5 1194V1195M1609.5 1195V1196M1610.5 1194V1195M1611.5 1194V1195M1612.5 1193V1194M1613.5 1193V1194M1614.5 1192V1193M1615.5 1191V1192M1616.5 1190V1191M1617.5 1189V1190M1618.5 1187V1189M1619.5 1186V1187M1620.5 1185V1186M1621.5 1184V1185M1622.5 1183V1184M1623.5 1181V1183M1624.5 1180V1181M1625.5 1179V1180M1626.5 1178V1179M1627.5 1177V1178M1628.5 1176V1177M1629.5 1175V1176M1630.5 1174V1175M1631.5 1172V1174M1632.5 1171V1172M1633.5 1170V1171M1634.5 1168V1170M1635.5 1167V1168M1636.5 1166V1167M1637.5 1165V1166M1638.5 1164V1165M1639.5 1163V1164M1640.5 1162V1163M1641.5 1162V1163M1642.5 1161V1162M1643.5 1160V1161M1644.5 1159V1160M1645.5 1159V1160M1646.5 1158V1159M1647.5 1158V1159M1648.5 1158V1159M1649.5 1158V1159M1650.5 1158V1159M1651.5 1159V1160M1652.5 1159V1160M1653.5 1159V1160M1654.5 1160V1161M1655.5 1160V1161M1656.5 1161V1162M1657.5 1161V1162M1658.5 1162V1163M1659.5 1162V1163M1660.5 1163V1164M1661.5 1163V1164M1662.5 1164V1165M1663.5 1165V1166M1664.5 1166V1167M1665.5 1167V1169M1666.5 1169V1170M1667.5 1170V1172M1668.5 1172V1174M1669.5 1174V1176M1670.5 1176V1179M1671.5 1179V1181M1672.5 1181V1184M1673.5 1184V1187M1674.5 1187V1190M1675.5 1190V1193M1676.5 1193V1196M1677.5 1196V1199M1678.5 1199V1201M1679.5 1201V1203M1680.5 1203V1205M1681.5 1205V1207M1682.5 1207V1209M1683.5 1209V1210M1684.5 1210V1211M1685.5 1211V1212M1686.5 1212V1213M1687.5 1212V1213M1688.5 1213V1214M1689.5 1214V1215M1690.5 1214V1215M1691.5 1215V1216M1692.5 1215V1216M1693.5 1216V1217M1694.5 1216V1217M1695.5 1217V1218M1696.5 1217V1218M1697.5 1217V1218M1698.5 1217V1218M1699.5 1217V1218M1700.5 1217V1218M1701.5 1217V1218M1702.5 1217V1218M1703.5 1217V1218M1704.5 1217V1218M1705.5 1216V1217M1706.5 1216V1217M1707.5 1215V1216M1708.5 1215V1216M1709.5 1214V1215M1710.5 1214V1215M1711.5 1214V1215M1712.5 1214V1215M1713.5 1215V1216M1714.5 1215V1216M1715.5 1216V1217M1716.5 1217V1218M1717.5 1217V1218M1718.5 1218V1219M1719.5 1219V1220M1720.5 1220V1221M1721.5 1220V1221M1722.5 1221V1222M1723.5 1222V1223M1724.5 1222V1223M1725.5 1223V1224M1726.5 1223V1224M1727.5 1224V1225M1728.5 1224V1225M1729.5 1224V1225M1730.5 1225V1226M1731.5 1225V1226M1732.5 1225V1226M1733.5 1225V1226M1734.5 1225V1226M1735.5 1225V1226M1736.5 1225V1226M1737.5 1226V1227M1738.5 1226V1227M1739.5 1226V1227M1740.5 1226V1227M1741.5 1225V1226M1742.5 1225V1226M1743.5 1225V1226M1744.5 1225V1226M1745.5 1225V1226M1746.5 1225V1226M1747.5 1225V1226M1748.5 1224V1225M1749.5 1224V1225M1750.5 1223V1224M1751.5 1222V1223M1752.5 1220V1222M1753.5 1218V1220M1754.5 1216V1218M1755.5 1213V1216M1756.5 1210V1213M1757.5 1207V1210M1758.5 1204V1207M1759.5 1201V1204M1760.5 1199V1201M1761.5 1196V1199M1762.5 1194V1196M1763.5 1192V1194M1764.5 1190V1192M1765.5 1189V1190M1766.5 1188V1189M1767.5 1187V1188M1768.5 1186V1187M1769.5 1185V1186M1770.5 1184V1185M1771.5 1184V1185M1772.5 1184V1185M1773.5 1183V1184M1774.5 1183V1184M1775.5 1183V1184M1776.5 1183V1184M1777.5 1183V1184M1778.5 1183V1184M1779.5 1183V1184M1780.5 1183V1184M1781.5 1183V1184M1782.5 1183V1184M1783.5 1183V1184M1784.5 1183V1184M1785.5 1183V1184M1786.5 1184V1185M1787.5 1184V1185M1788.5 1184V1185M1789.5 1185V1186M1790.5 1185V1186M1791.5 1185V1186M1792.5 1185V1186M1793.5 1185V1186M1794.5 1185V1186M1795.5 1185V1186M1796.5 1185V1186M1797.5 1184V1185M1798.5 1184V1185M1799.5 1183V1184M1800.5 1183V1184M1801.5 1182V1183M1802.5 1182V1183M1803.5 1181V1182M1804.5 1181V1182M1805.5 1181V1182M1806.5 1180V1181M1807.5 1180V1181M1808.5 1180V1181M1809.5 1179V1180M1810.5 1179V1180M1811.5 1178V1179M1812.5 1177V1178M1813.5 1177V1178M1814.5 1176V1177M1815.5 1175V1176M1816.5 1174V1175M1817.5 1174V1175M1818.5 1173V1174M1819.5 1173V1174M1820.5 1173V1174M1821.5 1172V1173M1822.5 1173V1174M1823.5 1173V1174M1824.5 1173V1174M1825.5 1174V1175M1826.5 1175V1176M1827.5 1175V1176M1828.5 1176V1177M1829.5 1177V1178M1830.5 1177V1178M1831.5 1178V1179M1832.5 1179V1180M1833.5 1180V1181M1834.5 1180V1181M1835.5 1181V1182M1836.5 1182V1183M1837.5 1183V1184M1838.5 1184V1185M1839.5 1184V1185M1840.5 1185V1186M1841.5 1186V1187M1842.5 1186V1187M1843.5 1187V1188M1844.5 1187V1188M1845.5 1187V1188M1846.5 1187V1188M1847.5 1187V1188M1848.5 1186V1187M1849.5 1186V1187M1850.5 1185V1186M1851.5 1185V1186M1852.5 1184V1185M1853.5 1183V1184M1854.5 1182V1183M1855.5 1182V1183M1856.5 1181V1182M1857.5 1181V1182M1858.5 1181V1182M1859.5 1181V1182M1860.5 1181V1182M1861.5 1180V1181M1862.5 1180V1181M1863.5 1180V1181M1864.5 1179V1180M1865.5 1179V1180M1866.5 1178V1179M1867.5 1178V1179M1868.5 1178V1179M1869.5 1178V1179M1870.5 1178V1179M1871.5 1177V1178M1872.5 1177V1178M1873.5 1177V1178M1874.5 1177V1178M1875.5 1177V1178M1876.5 1177V1178M1877.5 1177V1178M1878.5 1177V1178M1879.5 1177V1178M1880.5 1177V1178M1881.5 1177V1178M1882.5 1177V1178M1883.5 1177V1178M1884.5 1178V1179M1885.5 1178V1179M1886.5 1179V1180M1887.5 1179V1180M1888.5 1180V1181M1889.5 1181V1182M1890.5 1182V1183M1891.5 1183V1184M1892.5 1183V1184M1893.5 1184V1185M1894.5 1185V1186M1895.5 1185V1186M1896.5 1186V1187M1897.5 1186V1187M1898.5 1187V1188M1899.5 1188V1189M1900.5 1188V1189M1901.5 1189V1190M1902.5 1189V1190M1903.5 1190V1191M1904.5 1190V1191M1905.5 1191V1192M1906.5 1191V1192M1907.5 1191V1192M1908.5 1192V1193M1909.5 1192V1193M1910.5 1192V1193M1911.5 1192V1193M1912.5 1193V1194M1913.5 1193V1194M1914.5 1193V1194M1915.5 1193V1194M1916.5 1193V1194M1917.5 1194V1195M1918.5 1194V1195M1919.5 1195V1196M1920.5 1195V1196M1921.5 1196V1197M1922.5 1197V1198M1923.5 1197V1198M1924.5 1198V1199M1925.5 1199V1200M1926.5 1199V1200M1927.5 1200V1201M1928.5 1200V1201M1929.5 1201V1202M1930.5 1201V1202M1931.5 1202V1203M1932.5 1202V1203M1933.5 1202V1203M1934.5 1203V1204M1935.5 1203V1204M1936.5 1204V1205M1937.5 1204V1205M1938.5 1204V1205M1939.5 1204V1205M1940.5 1204V1205M1941.5 1203V1204M1942.5 1203V1204M1943.5 1203V1204M1944.5 1202V1203M1945.5 1202V1203M1946.5 1201V1202M1947.5 1200V1201M1948.5 1198V1200M1949.5 1196V1198M1950.5 1194V1196M1951.5 1193V1194M1952.5 1191V1193M1953.5 1190V1191M1954.5 1190V1191M1955.5 1189V1190M1956.5 1189V1190M1957.5 1188V1189M1958.5 1188V1189M1959.5 1188V1189M1960.5 1188V1189M1961.5 1189V1190M1962.5 1189V1190M1963.5 1189V1190M1964.5 1190V1191M1965.5 1190V1191M1966.5 1191V1192M1967.5 1191V1192M1968.5 1191V1192M1969.5 1192V1193M1970.5 1192V1193M1971.5 1192V1193M1972.5 1192V1193M1973.5 1193V1194M1974.5 1193V1194M1975.5 1193V1194M1976.5 1193V1194M1977.5 1193V1194M1978.5 1194V1195M1979.5 1194V1195M1980.5 1195V1196M1981.5 1195V1196M1982.5 1196V1197M1983.5 1197V1198M1984.5 1197V1198M1985.5 1198V1199M1986.5 1199V1200M1987.5 1200V1201M1988.5 1201V1202M1989.5 1202V1203M1990.5 1203V1204M1991.5 1203V1204M1992.5 1204V1205M1993.5 1205V1206M1994.5 1205V1206M1995.5 1206V1207M1996.5 1206V1207M1997.5 1207V1208M1998.5 1207V1208M1999.5 1207V1208M2000.5 1207V1208M2001.5 1207V1208M2002.5 1207V1208M2003.5 1206V1207M2004.5 1206V1207M2005.5 1206V1207" stroke="#00ff00" stroke-width="1" fill="none"/>
<path d="M3.5 1167V1168M4.5 1168V1169M5.5 1168V1169M6.5 1168V1169M7.5 1167V1169M8.5 1165V1167M9.5 1163V1165M10.5 1160V1163M11.5 1158V1160M12.5 1157V1158M13.5 1156V1157M14.5 1154V1156M15.5 1153V1154M16.5 1152V1153M17.5 1151V1152M18.5 1150V1151M19.5 1149V1150M20.5 1149V1150M21.5 1149V1150M22.5 1150V1151M23.5 1150V1152M24.5 1152V1153M25.5 1153V1154M26.5 1154V1156M27.5 1156V1157M28.5 1155V1156M29.5 1155V1156M30.5 1154V1155M31.5 1154V1157M32.5 1157V1160M33.5 1160V1165M34.5 1165V1170M35.5 1170V1176M36.5 1176V1181M37.5 1181V1186M38.5 1186V1191M39.5 1191V1195M40.5 1195V1198M41.5 1198V1200M42.5 1200V1202M43.5 1202V1203M44.5 1203V1205M45.5 1205V1206M46.5 1206V1207M47.5 1207V1209M48.5 1209V1210M49.5 1210V1211M50.5 1211V1212M51.5 1211V1212M52.5 1212V1213M53.5 1213V1214M54.5 1213V1214M55.5 1213V1214M56.5 1213V1214M57.5 1212V1213M58.5 1211V1212M59.5 1207V1211M60.5 1204V1207M61.5 1201V1204M62.5 1198V1201M63.5 1196V1198M64.5 1194V1196M65.5 1193V1194M66.5 1193V1194M67.5 1192V1193M68.5 1193V1194M69.5 1194V1198M70.5 1198V1203M71.5 1203V1206M72.5 1206V1209M73.5 1209V1210M74.5 1209V1210M75.5 1210V1211M76.5 1211V1212M77.5 1211V1212M78.5 1211V1212M79.5 1211V1212M80.5 1211V1212M81.5 1211V1212M82.5 1212V1213M83.5 1213V1214M84.5 1214V1215M85.5 1215V1217M86.5 1217V1218M87.5 1218V1219M88.5 1218V1219M89.5 1218V1219M90.5 1218V1219M91.5 1218V1220M92.5 1220V1221M93.5 1221V1223M94.5 1223V1225M95.5 1225V1226M96.5 1225V1226M97.5 1226V1227M98.5 1226V1227M99.5 1225V1226M100.5 1225V1226M101.5 1224V1225M102.5 1223V1224M103.5 1222V1223M104.5 1222V1223M105.5 1221V1222M106.5 1221V1222M107.5 1221V1222M108.5 1220V1221M109.5 1219V1221M110.5 1217V1219M111.5 1214V1217M112.5 1211V1214M113.5 1207V1211M114.5 1204V1207M115.5 1201V1204M116.5 1198V1201M117.5 1197V1198M118.5 1195V1197M119.5 1192V1195M120.5 1190V1192M121.5 1188V1190M122.5 1186V1188M123.5 1185V1186M124.5 1185V1186M125.5 1185V1187M126.5 1187V1189M127.5 1189V1193M128.5 1193V1196M129.5 1196V1199M130.5 1199V1202M131.5 1202V1203M132.5 1203V1204M133.5 1204V1205M134.5 1205V1206M135.5 1206V1207M136.5 1207V1208M137.5 1206V1209M138.5 1202V1206M139.5 1200V1202M140.5 1198V1200M141.5 1197V1198M142.5 1195V1197M143.5 1194V1195M144.5 1194V1195M145.5 1193V1194M146.5 1192V1193M147.5 1192V1193M148.5 1191V1192M149.5 1191V1192M150.5 1190V1191M151.5 1190V1191M152.5 1189V1190M153.5 1188V1189M154.5 1188V1189M155.5 1189V1190M156.5 1190V1191M157.5 1191V1192M158.5 1192V1193M159.5 1193V1194M160.5 1194V1195M161.5 1195V1196M162.5 1196V1198M163.5 1198V1199M164.5 1199V1201M165.5 1201V1203M166.5 1203V1205M167.5 1205V1207M168.5 1207V1209M169.5 1209V1210M170.5 1210V1211M171.5 1211V1212M172.5 1212V1213M173.5 1213V1214M174.5 1213V1214M175.5 1214V1215M176.5 1214V1215M177.5 1215V1218M178.5 1218V1221M179.5 1221V1223M180.5 1223V1225M181.5 1225V1227M182.5 1227V1229M183.5 1229V1231M184.5 1231V1233M185.5 1233V1234M186.5 1233V1234M187.5 1233V1234M188.5 1232V1233M189.5 1230V1232M190.5 1227V1230M191.5 1225V1227M192.5 1223V1225M193.5 1222V1223M194.5 1223V1224M195.5 1224V1225M196.5 1224V1225M197.5 1225V1226M198.5 1224V1225M199.5 1224V1225M200.5 1224V1225M201.5 1224V1225M202.5 1223V1224M203.5 1220V1224M204.5 1217V1220M205.5 1211V1217M206.5 1206V1211M207.5 1202V1206M208.5 1198V1202M209.5 1195V1198M210.5 1193V1195M211.5 1191V1193M212.5 1189V1191M213.5 1188V1189M214.5 1186V1188M215.5 1185V1186M216.5 1184V1185M217.5 1182V1184M218.5 1180V1182M219.5 1177V1180M220.5 1174V1177M221.5 1171V1174M222.5 1169V1171M223.5 1168V1169M224.5 1167V1168M225.5 1166V1167M226.5 1166V1167M227.5 1166V1167M228.5 1165V1166M229.5 1165V1166M230.5 1164V1165M231.5 1163V1164M232.5 1163V1164M233.5 1162V1164M234.5 1164V1166M235.5 1166V1169M236.5 1169V1171M237.5 1171V1175M238.5 1175V1178M239.5 1178V1180M240.5 1180V1182M241.5 1182V1183M242.5 1183V1184M243.5 1184V1185M244.5 1184V1185M245.5 1185V1186M246.5 1186V1187M247.5 1187V1188M248.5 1188V1189M249.5 1189V1191M250.5 1191V1192M251.5 1192V1196M252.5 1196V1199M253.5 1199V1203M254.5 1203V1207M255.5 1207V1209M256.5 1209V1211M257.5 1211V1212M258.5 1212V1213M259.5 1213V1214M260.5 1214V1215M261.5 1214V1215M262.5 1215V1216M263.5 1216V1217M264.5 1216V1217M265.5 1217V1218M266.5 1218V1219M267.5 1218V1219M268.5 1218V1219M269.5 1218V1219M270.5 1217V1218M271.5 1216V1218M272.5 1215V1216M273.5 1214V1215M274.5 1213V1214M275.5 1212V1213M276.5 1211V1212M277.5 1209V1211M278.5 1207V1209M279.5 1205V1207M280.5 1204V1205M281.5 1202V1204M282.5 1200V1202M283.5 1198V1200M284.5 1197V1198M285.5 1195V1197M286.5 1194V1195M287.5 1193V1194M288.5 1192V1193M289.5 1190V1192M290.5 1189V1190M291.5 1187V1189M292.5 1185V1187M293.5 1184V1185M294.5 1182V1184M295.5 1181V1182M296.5 1181V1182M297.5 1180V1181M298.5 1179V1180M299.5 1178V1179M300.5 1178V1179M301.5 1177V1178M302.5 1177V1178M303.5 1177V1178M304.5 1176V1177M305.5 1176V1177M306.5 1175V1176M307.5 1173V1175M308.5 1171V1173M309.5 1169V1171M310.5 1168V1169M311.5 1166V1168M312.5 1165V1166M313.5 1164V1165M314.5 1163V1164M315.5 1163V1164M316.5 1163V1164M317.5 1162V1163M318.5 1162V1163M319.5 1159V1163M320.5 1156V1159M321.5 1153V1156M322.5 1151V1153M323.5 1148V1151M324.5 1146V1148M325.5 1144V1146M326.5 1143V1144M327.5 1141V1143M328.5 1139V1141M329.5 1137V1139M330.5 1136V1137M331.5 1135V1136M332.5 1134V1135M333.5 1133V1134M334.5 1133V1134M335.5 1131V1133M336.5 1130V1131M337.5 1129V1130M338.5 1129V1130M339.5 1129V1130M340.5 1130V1132M341.5 1132V1134M342.5 1134V1136M343.5 1136V1137M344.5 1137V1138M345.5 1138V1139M346.5 1137V1138M347.5 1136V1138M348.5 1135V1136M349.5 1134V1135M350.5 1134V1135M351.5 1135V1136M352.5 1135V1136M353.5 1136V1137M354.5 1137V1139M355.5 1139V1140M356.5 1140V1142M357.5 1142V1143M358.5 1142V1143M359.5 1143V1144M360.5 1143V1144M361.5 1144V1145M362.5 1145V1147M363.5 1147V1148M364.5 1148V1150M365.5 1150V1152M366.5 1152V1154M367.5 1154V1156M368.5 1156V1158M369.5 1158V1160M370.5 1160V1163M371.5 1163V1167M372.5 1167V1171M373.5 1171V1175M374.5 1175V1178M375.5 1178V1179M376.5 1179V1180M377.5 1180V1181M378.5 1181V1182M379.5 1182V1183M380.5 1183V1184M381.5 1183V1184M382.5 1184V1185M383.5 1184V1185M384.5 1185V1186M385.5 1185V1186M386.5 1185V1186M387.5 1186V1187M388.5 1187V1188M389.5 1187V1188M390.5 1187V1188M391.5 1186V1188M392.5 1184V1186M393.5 1183V1184M394.5 1183V1184M395.5 1183V1184M396.5 1184V1186M397.5 1186V1188M398.5 1188V1190M399.5 1190V1191M400.5 1191V1193M401.5 1193V1194M402.5 1192V1193M403.5 1191V1193M404.5 1190V1191M405.5 1188V1190M406.5 1187V1188M407.5 1186V1187M408.5 1184V1186M409.5 1183V1184M410.5 1183V1184M411.5 1183V1184M412.5 1184V1185M413.5 1185V1186M414.5 1186V1187M415.5 1187V1188M416.5 1188V1189M417.5 1189V1190M418.5 1189V1190M419.5 1190V1191M420.5 1191V1192M421.5 1192V1193M422.5 1193V1194M423.5 1194V1195M424.5 1194V1195M425.5 1195V1196M426.5 1195V1196M427.5 1195V1196M428.5 1195V1196M429.5 1195V1196M430.5 1194V1195M431.5 1193V1194M432.5 1193V1194M433.5 1192V1193M434.5 1190V1192M435.5 1189V1190M436.5 1187V1189M437.5 1183V1187M438.5 1180V1183M439.5 1177V1180M440.5 1174V1177M441.5 1172V1174M442.5 1170V1172M443.5 1169V1170M444.5 1168V1169M445.5 1168V1169M446.5 1167V1168M447.5 1167V1168M448.5 1167V1168M449.5 1167V1168M450.5 1166V1167M451.5 1166V1167M452.5 1165V1166M453.5 1165V1166M454.5 1166V1167M455.5 1167V1169M456.5 1169V1170M457.5 1170V1172M458.5 1172V1173M459.5 1173V1174M460.5 1174V1175M461.5 1174V1175M462.5 1174V1175M463.5 1174V1175M464.5 1174V1175M465.5 1174V1175M466.5 1174V1175M467.5 1174V1175M468.5 1174V1175M469.5 1174V1175M470.5 1174V1175M471.5 1174V1175M472.5 1174V1175M473.5 1175V1176M474.5 1175V1176M475.5 1176V1177M476.5 1175V1176M477.5 1175V1176M478.5 1175V1176M479.5 1175V1177M480.5 1177V1178M481.5 1178V1179M482.5 1179V1180M483.5 1180V1181M484.5 1181V1182M485.5 1182V1185M486.5 1185V1188M487.5 1188V1190M488.5 1190V1193M489.5 1193V1194M490.5 1194V1195M491.5 1195V1196M492.5 1194V1195M493.5 1193V1194M494.5 1192V1193M495.5 1190V1192M496.5 1189V1190M497.5 1188V1189M498.5 1187V1188M499.5 1186V1187M500.5 1185V1186M501.5 1184V1185M502.5 1184V1185M503.5 1184V1185M504.5 1183V1184M505.5 1183V1184M506.5 1183V1184M507.5 1183V1184M508.5 1183V1184M509.5 1184V1185M510.5 1184V1185M511.5 1184V1185M512.5 1185V1186M513.5 1185V1186M514.5 1185V1186M515.5 1186V1187M516.5 1186V1187M517.5 1186V1187M518.5 1187V1188M519.5 1187V1188M520.5 1187V1188M521.5 1187V1188M522.5 1187V1188M523.5 1188V1189M524.5 1188V1189M525.5 1188V1189M526.5 1189V1190M527.5 1189V1191M528.5 1191V1192M529.5 1192V1194M530.5 1194V1196M531.5 1196V1199M532.5 1199V1201M533.5 1201V1203M534.5 1203V1204M535.5 1204V1205M536.5 1205V1206M537.5 1206V1207M538.5 1206V1207M539.5 1207V1208M540.5 1207V1208M541.5 1207V1208M542.5 1207V1208M543.5 1208V1209M544.5 1208V1209M545.5 1208V1209M546.5 1208V1209M547.5 1207V1208M548.5 1206V1207M549.5 1205V1206M550.5 1204V1205M551.5 1203V1204M552.5 1202V1203M553.5 1201V1202M554.5 1199V1201M555.5 1198V1199M556.5 1196V1198M557.5 1195V1196M558.5 1195V1196M559.5 1194V1195M560.5 1195V1196M561.5 1195V1196M562.5 1195V1196M563.5 1195V1196M564.5 1196V1197M565.5 1196V1197M566.5 1196V1197M567.5 1196V1197M568.5 1196V1197M569.5 1196V1197M570.5 1196V1197M571.5 1196V1197M572.5 1196V1197M573.5 1197V1198M574.5 1197V1198M575.5 1198V1199M576.5 1198V1199M577.5 1199V1200M578.5 1199V1200M579.5 1199V1200M580.5 1199V1200M581.5 1198V1199M582.5 1198V1199M583.5 1197V1198M584.5 1197V1198M585.5 1196V1197M586.5 1196V1197M587.5 1196V1197M588.5 1196V1197M589.5 1196V1197M590.5 1197V1198M591.5 1197V1198M592.5 1197V1198M593.5 1197V1198M594.5 1196V1197M595.5 1196V1197M596.5 1196V1197M597.5 1196V1197M598.5 1195V1196M599.5 1195V1196M600.5 1195V1196M601.5 1194V1195M602.5 1193V1194M603.5 1192V1193M604.5 1190V1192M605.5 1188V1190M606.5 1186V1188M607.5 1184V1186M608.5 1181V1184M609.5 1178V1181M610.5 1175V1178M611.5 1173V1175M612.5 1170V1173M613.5 1168V1170M614.5 1166V1168M615.5 1165V1166M616.5 1164V1165M617.5 1163V1164M618.5 1163V1164M619.5 1164V1165M620.5 1165V1166M621.5 1165V1166M622.5 1165V1166M623.5 1165V1166M624.5 1165V1166M625.5 1166V1167M626.5 1167V1168M627.5 1168V1169M628.5 1168V1169M629.5 1169V1170M630.5 1169V1170M631.5 1169V1170M632.5 1169V1170M633.5 1170V1171M634.5 1171V1173M635.5 1173V1175M636.5 1175V1178M637.5 1178V1181M638.5 1181V1184M639.5 1184V1187M640.5 1187V1189M641.5 1189V1191M642.5 1191V1193M643.5 1193V1195M644.5 1195V1196M645.5 1196V1197M646.5 1197V1198M647.5 1198V1199M648.5 1199V1200M649.5 1199V1200M650.5 1199V1200M651.5 1198V1199M652.5 1198V1199M653.5 1197V1198M654.5 1197V1198M655.5 1196V1197M656.5 1196V1197M657.5 1196V1197M658.5 1195V1196M659.5 1193V1195M660.5 1191V1193M661.5 1188V1191M662.5 1185V1188M663.5 1182V1185M664.5 1178V1182M665.5 1176V1178M666.5 1173V1176M667.5 1171V1173M668.5 1169V1171M669.5 1167V1169M670.5 1165V1167M671.5 1163V1165M672.5 1161V1163M673.5 1160V1161M674.5 1158V1160M675.5 1157V1158M676.5 1155V1157M677.5 1153V1155M678.5 1152V1153M679.5 1151V1152M680.5 1150V1151M681.5 1150V1151M682.5 1150V1151M683.5 1150V1151M684.5 1149V1150M685.5 1149V1150M686.5 1149V1150M687.5 1148V1149M688.5 1148V1149M689.5 1147V1148M690.5 1147V1148M691.5 1145V1147M692.5 1143V1145M693.5 1141V1143M694.5 1138V1141M695.5 1137V1138M696.5 1137V1138M697.5 1136V1137M698.5 1136V1137M699.5 1136V1137M700.5 1136V1137M701.5 1137V1138M702.5 1138V1140M703.5 1140V1141M704.5 1141V1142M705.5 1141V1142M706.5 1142V1143M707.5 1143V1146M708.5 1146V1149M709.5 1149V1152M710.5 1152V1155M711.5 1155V1157M712.5 1157V1158M713.5 1158V1159M714.5 1159V1160M715.5 1160V1161M716.5 1160V1161M717.5 1161V1162M718.5 1160V1161M719.5 1159V1160M720.5 1158V1159M721.5 1158V1159M722.5 1158V1159M723.5 1158V1159M724.5 1158V1159M725.5 1158V1159M726.5 1158V1159M727.5 1158V1159M728.5 1158V1159M729.5 1157V1158M730.5 1157V1158M731.5 1157V1158M732.5 1157V1158M733.5 1157V1158M734.5 1157V1158M735.5 1157V1158M736.5 1158V1159M737.5 1159V1161M738.5 1161V1162M739.5 1162V1163M740.5 1163V1164M741.5 1163V1164M742.5 1164V1165M743.5 1165V1167M744.5 1167V1168M745.5 1168V1171M746.5 1171V1173M747.5 1173V1176M748.5 1176V1179M749.5 1179V1181M750.5 1181V1184M751.5 1184V1185M752.5 1185V1187M753.5 1187V1189M754.5 1189V1190M755.5 1190V1192M756.5 1192V1193M757.5 1193V1194M758.5 1194V1195M759.5 1195V1196M760.5 1195V1196M761.5 1195V1196M762.5 1195V1196M763.5 1195V1196M764.5 1195V1196M765.5 1195V1196M766.5 1195V1196M767.5 1195V1196M768.5 1195V1196M769.5 1195V1196M770.5 1196V1197M771.5 1196V1197M772.5 1196V1197M773.5 1196V1197M774.5 1197V1198M775.5 1197V1198M776.5 1198V1199M777.5 1199V1200M778.5 1200V1202M779.5 1202V1203M780.5 1203V1205M781.5 1205V1206M782.5 1206V1208M783.5 1208V1210M784.5 1210V1211M785.5 1211V1212M786.5 1212V1213M787.5 1213V1214M788.5 1214V1215M789.5 1214V1215M790.5 1215V1216M791.5 1215V1216M792.5 1215V1216M793.5 1216V1217M794.5 1216V1217M795.5 1216V1217M796.5 1217V1218M797.5 1217V1218M798.5 1217V1218M799.5 1217V1218M800.5 1216V1217M801.5 1215V1216M802.5 1215V1216M803.5 1214V1215M804.5 1215V1216M805.5 1215V1216M806.5 1216V1217M807.5 1217V1218M808.5 1217V1218M809.5 1217V1218M810.5 1217V1218M811.5 1217V1218M812.5 1216V1217M813.5 1216V1217M814.5 1217V1218M815.5 1217V1219M816.5 1219V1220M817.5 1220V1223M818.5 1223V1225M819.5 1225V1228M820.5 1228V1231M821.5 1231V1233M822.5 1233V1235M823.5 1235V1236M824.5 1234V1235M825.5 1233V1234M826.5 1231V1233M827.5 1229V1231M828.5 1227V1229M829.5 1225V1227M830.5 1223V1225M831.5 1221V1223M832.5 1220V1221M833.5 1218V1220M834.5 1216V1218M835.5 1213V1216M836.5 1209V1213M837.5 1207V1209M838.5 1205V1207M839.5 1204V1207M840.5 1207V1210M841.5 1210V1214M842.5 1214V1218M843.5 1218V1221M844.5 1221V1224M845.5 1224V1225M846.5 1225V1226M847.5 1226V1227M848.5 1226V1227M849.5 1226V1227M850.5 1225V1226M851.5 1224V1225M852.5 1224V1225M853.5 1223V1224M854.5 1222V1223M855.5 1222V1223M856.5 1221V1222M857.5 1220V1221M858.5 1218V1220M859.5 1217V1218M860.5 1215V1217M861.5 1213V1215M862.5 1211V1213M863.5 1208V1211M864.5 1206V1208M865.5 1204V1206M866.5 1202V1204M867.5 1201V1202M868.5 1199V1201M869.5 1197V1199M870.5 1196V1197M871.5 1195V1196M872.5 1193V1195M873.5 1192V1193M874.5 1191V1192M875.5 1189V1191M876.5 1188V1189M877.5 1187V1188M878.5 1185V1187M879.5 1184V1185M880.5 1182V1184M881.5 1180V1182M882.5 1179V1180M883.5 1178V1179M884.5 1177V1178M885.5 1176V1177M886.5 1175V1176M887.5 1175V1176M888.5 1175V1176M889.5 1175V1176M890.5 1175V1176M891.5 1175V1176M892.5 1175V1176M893.5 1175V1176M894.5 1176V1177M895.5 1177V1179M896.5 1179V1181M897.5 1181V1183M898.5 1183V1185M899.5 1185V1187M900.5 1187V1188M901.5 1188V1190M902.5 1190V1191M903.5 1191V1192M904.5 1192V1193M905.5 1193V1194M906.5 1194V1195M907.5 1195V1196M908.5 1195V1196M909.5 1196V1197M910.5 1197V1198M911.5 1197V1198M912.5 1198V1199M913.5 1199V1200M914.5 1200V1201M915.5 1201V1202M916.5 1201V1202M917.5 1202V1203M918.5 1202V1203M919.5 1202V1203M920.5 1201V1202M921.5 1200V1201M922.5 1198V1200M923.5 1196V1198M924.5 1194V1196M925.5 1192V1194M926.5 1190V1192M927.5 1188V1190M928.5 1185V1188M929.5 1184V1185M930.5 1184V1185M931.5 1184V1185M932.5 1184V1185M933.5 1184V1185M934.5 1184V1185M935.5 1184V1186M936.5 1186V1187M937.5 1187V1188M938.5 1188V1189M939.5 1189V1190M940.5 1190V1191M941.5 1191V1192M942.5 1192V1193M943.5 1193V1195M944.5 1195V1196M945.5 1196V1198M946.5 1198V1199M947.5 1199V1200M948.5 1200V1201M949.5 1201V1202M950.5 1201V1202M951.5 1200V1201M952.5 1200V1201M953.5 1200V1201M954.5 1200V1201M955.5 1201V1202M956.5 1201V1202M957.5 1201V1202M958.5 1201V1202M959.5 1201V1202M960.5 1201V1202M961.5 1201V1202M962.5 1201V1202M963.5 1201V1202M964.5 1200V1201M965.5 1199V1200M966.5 1198V1199M967.5 1197V1198M968.5 1197V1198M969.5 1197V1198M970.5 1197V1198M971.5 1197V1198M972.5 1197V1198M973.5 1198V1199M974.5 1199V1200M975.5 1200V1201M976.5 1201V1202M977.5 1202V1204M978.5 1204V1205M979.5 1205V1206M980.5 1206V1207M981.5 1206V1207M982.5 1207V1208M983.5 1207V1208M984.5 1208V1209M985.5 1209V1211M986.5 1211V1213M987.5 1213V1214M988.5 1214V1216M989.5 1216V1217M990.5 1217V1218M991.5 1218V1219M992.5 1218V1219M993.5 1218V1219M994.5 1217V1218M995.5 1216V1217M996.5 1216V1217M997.5 1215V1216M998.5 1215V1216M999.5 1215V1216M1000.5 1215V1216M1001.5 1215V1216M1002.5 1214V1215M1003.5 1213V1214M1004.5 1211V1213M1005.5 1210V1211M1006.5 1209V1210M1007.5 1207V1209M1008.5 1206V1207M1009.5 1205V1206M1010.5 1204V1205M1011.5 1204V1205M1012.5 1203V1204M1013.5 1203V1204M1014.5 1203V1204M1015.5 1203V1204M1016.5 1203V1204M1017.5 1203V1204M1018.5 1202V1203M1019.5 1201V1202M1020.5 1200V1201M1021.5 1198V1200M1022.5 1196V1198M1023.5 1195V1196M1024.5 1193V1195M1025.5 1192V1193M1026.5 1192V1193M1027.5 1191V1192M1028.5 1190V1191M1029.5 1189V1190M1030.5 1187V1189M1031.5 1185V1187M1032.5 1183V1185M1033.5 1182V1183M1034.5 1181V1182M1035.5 1180V1181M1036.5 1180V1181M1037.5 1180V1181M1038.5 1180V1181M1039.5 1180V1181M1040.5 1181V1182M1041.5 1182V1183M1042.5 1182V1183M1043.5 1183V1184M1044.5 1184V1185M1045.5 1184V1185M1046.5 1185V1186M1047.5 1185V1186M1048.5 1185V1186M1049.5 1186V1187M1050.5 1186V1187M1051.5 1186V1187M1052.5 1186V1187M1053.5 1186V1187M1054.5 1187V1188M1055.5 1187V1188M1056.5 1187V1188M1057.5 1188V1189M1058.5 1189V1190M1059.5 1190V1191M1060.5 1191V1192M1061.5 1192V1193M1062.5 1193V1194M1063.5 1194V1195M1064.5 1195V1196M1065.5 1196V1197M1066.5 1196V1197M1067.5 1197V1198M1068.5 1196V1197M1069.5 1196V1197M1070.5 1195V1196M1071.5 1194V1195M1072.5 1193V1194M1073.5 1192V1193M1074.5 1191V1192M1075.5 1189V1191M1076.5 1188V1189M1077.5 1186V1188M1078.5 1185V1186M1079.5 1183V1185M1080.5 1181V1183M1081.5 1179V1181M1082.5 1178V1179M1083.5 1177V1178M1084.5 1176V1177M1085.5 1175V1176M1086.5 1174V1175M1087.5 1174V1175M1088.5 1174V1175M1089.5 1174V1175M1090.5 1174V1175M1091.5 1175V1176M1092.5 1175V1176M1093.5 1176V1177M1094.5 1176V1177M1095.5 1177V1178M1096.5 1177V1178M1097.5 1177V1178M1098.5 1177V1178M1099.5 1177V1178M1100.5 1178V1179M1101.5 1179V1180M1102.5 1179V1180M1103.5 1180V1181M1104.5 1180V1181M1105.5 1180V1181M1106.5 1179V1180M1107.5 1179V1180M1108.5 1179V1180M1109.5 1178V1179M1110.5 1177V1178M1111.5 1176V1177M1112.5 1175V1176M1113.5 1174V1175M1114.5 1173V1174M1115.5 1171V1173M1116.5 1169V1171M1117.5 1168V1169M1118.5 1168V1169M1119.5 1167V1168M1120.5 1168V1170M1121.5 1170V1175M1122.5 1175V1181M1123.5 1181V1183M1124.5 1183V1186M1125.5 1186V1188M1126.5 1188V1189M1127.5 1189V1191M1128.5 1191V1193M1129.5 1193V1195M1130.5 1195V1197M1131.5 1197V1199M1132.5 1199V1202M1133.5 1202V1203M1134.5 1203V1205M1135.5 1205V1207M1136.5 1207V1208M1137.5 1208V1210M1138.5 1210V1212M1139.5 1212V1214M1140.5 1214V1216M1141.5 1216V1217M1142.5 1217V1218M1143.5 1218V1219M1144.5 1219V1220M1145.5 1220V1221M1146.5 1220V1221M1147.5 1219V1220M1148.5 1219V1220M1149.5 1218V1219M1150.5 1218V1219M1151.5 1216V1218M1152.5 1215V1216M1153.5 1214V1215M1154.5 1214V1215M1155.5 1214V1215M1156.5 1213V1214M1157.5 1213V1214M1158.5 1213V1214M1159.5 1212V1213M1160.5 1211V1212M1161.5 1210V1211M1162.5 1209V1210M1163.5 1208V1209M1164.5 1207V1208M1165.5 1206V1207M1166.5 1205V1206M1167.5 1205V1206M1168.5 1204V1205M1169.5 1203V1204M1170.5 1203V1204M1171.5 1202V1203M1172.5 1201V1202M1173.5 1199V1201M1174.5 1198V1199M1175.5 1197V1198M1176.5 1196V1197M1177.5 1196V1197M1178.5 1196V1197M1179.5 1196V1197M1180.5 1196V1197M1181.5 1197V1198M1182.5 1197V1198M1183.5 1197V1198M1184.5 1197V1198M1185.5 1197V1198M1186.5 1197V1198M1187.5 1198V1199M1188.5 1198V1199M1189.5 1199V1200M1190.5 1200V1201M1191.5 1201V1202M1192.5 1201V1202M1193.5 1200V1201M1194.5 1200V1201M1195.5 1200V1201M1196.5 1200V1201M1197.5 1199V1200M1198.5 1199V1200M1199.5 1198V1199M1200.5 1198V1199M1201.5 1198V1199M1202.5 1199V1200M1203.5 1199V1200M1204.5 1200V1201M1205.5 1201V1202M1206.5 1202V1203M1207.5 1203V1205M1208.5 1205V1206M1209.5 1206V1209M1210.5 1209V1211M1211.5 1211V1212M1212.5 1212V1213M1213.5 1213V1214M1214.5 1214V1215M1215.5 1214V1215M1216.5 1214V1215M1217.5 1215V1216M1218.5 1215V1216M1219.5 1216V1217M1220.5 1216V1217M1221.5 1217V1218M1222.5 1217V1218M1223.5 1217V1218M1224.5 1217V1218M1225.5 1218V1219M1226.5 1218V1219M1227.5 1218V1219M1228.5 1218V1219M1229.5 1217V1218M1230.5 1217V1218M1231.5 1216V1217M1232.5 1215V1216M1233.5 1215V1216M1234.5 1214V1215M1235.5 1213V1214M1236.5 1213V1214M1237.5 1212V1213M1238.5 1211V1212M1239.5 1210V1211M1240.5 1210V1211M1241.5 1209V1210M1242.5 1208V1209M1243.5 1207V1208M1244.5 1207V1208M1245.5 1206V1207M1246.5 1206V1207M1247.5 1205V1206M1248.5 1205V1206M1249.5 1205V1206M1250.5 1205V1206M1251.5 1204V1205M1252.5 1204V1205M1253.5 1204V1205M1254.5 1203V1204M1255.5 1202V1203M1256.5 1202V1203M1257.5 1201V1202M1258.5 1202V1203M1259.5 1202V1203M1260.5 1203V1204M1261.5 1204V1206M1262.5 1206V1207M1263.5 1207V1208M1264.5 1208V1209M1265.5 1209V1210M1266.5 1210V1211M1267.5 1211V1212M1268.5 1212V1213M1269.5 1212V1213M1270.5 1212V1213M1271.5 1212V1213M1272.5 1210V1212M1273.5 1209V1210M1274.5 1207V1209M1275.5 1204V1207M1276.5 1202V1204M1277.5 1200V1202M1278.5 1197V1200M1279.5 1195V1197M1280.5 1193V1195M1281.5 1191V1193M1282.5 1190V1191M1283.5 1188V1190M1284.5 1187V1188M1285.5 1186V1187M1286.5 1185V1186M1287.5 1185V1186M1288.5 1184V1185M1289.5 1184V1185M1290.5 1184V1185M1291.5 1184V1185M1292.5 1184V1185M1293.5 1184V1185M1294.5 1184V1185M1295.5 1184V1185M1296.5 1185V1186M1297.5 1186V1187M1298.5 1186V1187M1299.5 1186V1187M1300.5 1185V1186M1301.5 1184V1185M1302.5 1183V1184M1303.5 1181V1183M1304.5 1180V1181M1305.5 1179V1180M1306.5 1178V1179M1307.5 1178V1179M1308.5 1178V1179M1309.5 1178V1179M1310.5 1179V1180M1311.5 1180V1181M1312.5 1180V1181M1313.5 1181V1182M1314.5 1181V1182M1315.5 1181V1182M1316.5 1181V1182M1317.5 1181V1182M1318.5 1181V1182M1319.5 1181V1182M1320.5 1181V1182M1321.5 1181V1182M1322.5 1181V1182M1323.5 1181V1182M1324.5 1181V1182M1325.5 1181V1182M1326.5 1182V1183M1327.5 1182V1183M1328.5 1182V1183M1329.5 1183V1184M1330.5 1183V1184M1331.5 1184V1185M1332.5 1185V1186M1333.5 1185V1186M1334.5 1186V1187M1335.5 1186V1187M1336.5 1185V1186M1337.5 1185V1186M1338.5 1185V1186M1339.5 1184V1185M1340.5 1184V1185M1341.5 1184V1185M1342.5 1184V1185M1343.5 1183V1184M1344.5 1184V1185M1345.5 1185V1186M1346.5 1186V1187M1347.5 1187V1188M1348.5 1188V1189M1349.5 1189V1190M1350.5 1190V1191M1351.5 1191V1192M1352.5 1191V1192M1353.5 1191V1192M1354.5 1192V1193M1355.5 1192V1193M1356.5 1192V1193M1357.5 1192V1193M1358.5 1193V1194M1359.5 1193V1194M1360.5 1194V1195M1361.5 1194V1195M1362.5 1195V1196M1363.5 1195V1196M1364.5 1196V1197M1365.5 1197V1198M1366.5 1198V1199M1367.5 1199V1200M1368.5 1200V1202M1369.5 1202V1203M1370.5 1203V1205M1371.5 1205V1206M1372.5 1206V1208M1373.5 1208V1209M1374.5 1208V1209M1375.5 1209V1210M1376.5 1209V1210M1377.5 1209V1210M1378.5 1209V1210M1379.5 1209V1210M1380.5 1209V1210M1381.5 1208V1209M1382.5 1208V1209M1383.5 1208V1209M1384.5 1207V1208M1385.5 1207V1208M1386.5 1207V1208M1387.5 1207V1208M1388.5 1207V1208M1389.5 1207V1208M1390.5 1207V1208M1391.5 1207V1208M1392.5 1207V1208M1393.5 1207V1208M1394.5 1206V1207M1395.5 1206V1207M1396.5 1205V1206M1397.5 1204V1206M1398.5 1203V1204M1399.5 1202V1203M1400.5 1201V1202M1401.5 1201V1202M1402.5 1201V1202M1403.5 1201V1202M1404.5 1201V1202M1405.5 1201V1202M1406.5 1201V1202M1407.5 1201V1202M1408.5 1201V1202M1409.5 1201V1202M1410.5 1201V1202M1411.5 1198V1201M1412.5 1195V1198M1413.5 1192V1195M1414.5 1188V1192M1415.5 1185V1188M1416.5 1182V1185M1417.5 1179V1182M1418.5 1176V1179M1419.5 1173V1176M1420.5 1171V1173M1421.5 1168V1171M1422.5 1166V1168M1423.5 1164V1166M1424.5 1163V1164M1425.5 1162V1163M1426.5 1161V1162M1427.5 1160V1161M1428.5 1159V1160M1429.5 1159V1160M1430.5 1158V1159M1431.5 1158V1159M1432.5 1158V1159M1433.5 1159V1160M1434.5 1160V1162M1435.5 1162V1165M1436.5 1165V1168M1437.5 1168V1171M1438.5 1171V1174M1439.5 1174V1177M1440.5 1177V1180M1441.5 1180V1182M1442.5 1182V1184M1443.5 1184V1186M1444.5 1186V1188M1445.5 1188V1189M1446.5 1189V1191M1447.5 1191V1192M1448.5 1192V1193M1449.5 1193V1194M1450.5 1194V1195M1451.5 1194V1195M1452.5 1195V1196M1453.5 1195V1196M1454.5 1196V1197M1455.5 1196V1197M1456.5 1196V1197M1457.5 1196V1197M1458.5 1196V1197M1459.5 1196V1197M1460.5 1196V1197M1461.5 1196V1197M1462.5 1196V1197M1463.5 1196V1197M1464.5 1196V1197M1465.5 1195V1196M1466.5 1195V1196M1467.5 1195V1196M1468.5 1195V1196M1469.5 1195V1196M1470.5 1195V1196M1471.5 1196V1197M1472.5 1196V1197M1473.5 1196V1197M1474.5 1196V1197M1475.5 1195V1196M1476.5 1195V1196M1477.5 1195V1196M1478.5 1195V1196M1479.5 1193V1195M1480.5 1191V1193M1481.5 1189V1191M1482.5 1187V1189M1483.5 1184V1187M1484.5 1182V1184M1485.5 1179V1182M1486.5 1175V1179M1487.5 1171V1175M1488.5 1166V1171M1489.5 1162V1166M1490.5 1157V1162M1491.5 1153V1157M1492.5 1149V1153M1493.5 1146V1149M1494.5 1142V1146M1495.5 1140V1142M1496.5 1137V1140M1497.5 1136V1137M1498.5 1136V1137M1499.5 1135V1136M1500.5 1135V1136M1501.5 1135V1136M1502.5 1135V1136M1503.5 1136V1137M1504.5 1137V1138M1505.5 1138V1139M1506.5 1138V1139M1507.5 1138V1139M1508.5 1138V1139M1509.5 1138V1139M1510.5 1138V1139M1511.5 1138V1139M1512.5 1139V1140M1513.5 1139V1140M1514.5 1140V1141M1515.5 1141V1142M1516.5 1142V1144M1517.5 1144V1145M1518.5 1145V1147M1519.5 1147V1150M1520.5 1150V1153M1521.5 1153V1154M1522.5 1154V1156M1523.5 1156V1157M1524.5 1157V1159M1525.5 1159V1160M1526.5 1160V1162M1527.5 1162V1163M1528.5 1163V1164M1529.5 1164V1166M1530.5 1166V1167M1531.5 1167V1169M1532.5 1169V1171M1533.5 1171V1172M1534.5 1172V1173M1535.5 1173V1174M1536.5 1174V1175M1537.5 1174V1175M1538.5 1174V1175M1539.5 1173V1174M1540.5 1173V1174M1541.5 1172V1173M1542.5 1172V1173M1543.5 1171V1172M1544.5 1170V1171M1545.5 1170V1171M1546.5 1169V1170M1547.5 1168V1169M1548.5 1166V1168M1549.5 1163V1166M1550.5 1160V1163M1551.5 1157V1160M1552.5 1154V1157M1553.5 1151V1154M1554.5 1148V1151M1555.5 1146V1148M1556.5 1143V1146M1557.5 1141V1143M1558.5 1139V1141M1559.5 1136V1139M1560.5 1133V1136M1561.5 1131V1133M1562.5 1129V1131M1563.5 1128V1129M1564.5 1128V1129M1565.5 1127V1128M1566.5 1127V1128M1567.5 1127V1128M1568.5 1127V1128M1569.5 1126V1127M1570.5 1126V1127M1571.5 1126V1127M1572.5 1125V1126M1573.5 1125V1126M1574.5 1124V1125M1575.5 1124V1129M1576.5 1129V1134M1577.5 1134V1143M1578.5 1143V1152M1579.5 1152V1158M1580.5 1158V1164M1581.5 1164V1170M1582.5 1170V1176M1583.5 1176V1181M1584.5 1181V1186M1585.5 1186V1188M1586.5 1188V1191M1587.5 1191V1192M1588.5 1192V1194M1589.5 1194V1195M1590.5 1195V1196M1591.5 1196V1197M1592.5 1196V1197M1593.5 1197V1198M1594.5 1198V1199M1595.5 1199V1200M1596.5 1200V1201M1597.5 1200V1201M1598.5 1200V1201M1599.5 1200V1201M1600.5 1200V1201M1601.5 1200V1201M1602.5 1199V1200M1603.5 1199V1200M1604.5 1198V1199M1605.5 1198V1199M1606.5 1197V1198M1607.5 1197V1198M1608.5 1196V1197M1609.5 1195V1196M1610.5 1193V1195M1611.5 1191V1193M1612.5 1189V1191M1613.5 1187V1189M1614.5 1185V1187M1615.5 1183V1185M1616.5 1181V1183M1617.5 1179V1181M1618.5 1178V1179M1619.5 1176V1178M1620.5 1175V1176M1621.5 1174V1175M1622.5 1173V1174M1623.5 1172V1173M1624.5 1171V1172M1625.5 1170V1171M1626.5 1170V1171M1627.5 1169V1170M1628.5 1168V1169M1629.5 1166V1168M1630.5 1164V1166M1631.5 1162V1164M1632.5 1160V1162M1633.5 1159V1160M1634.5 1158V1159M1635.5 1157V1158M1636.5 1156V1157M1637.5 1156V1157M1638.5 1156V1157M1639.5 1156V1157M1640.5 1155V1156M1641.5 1155V1156M1642.5 1155V1156M1643.5 1154V1155M1644.5 1154V1155M1645.5 1154V1155M1646.5 1155V1156M1647.5 1156V1157M1648.5 1157V1158M1649.5 1158V1159M1650.5 1159V1161M1651.5 1161V1162M1652.5 1162V1163M1653.5 1163V1164M1654.5 1163V1164M1655.5 1164V1165M1656.5 1165V1166M1657.5 1165V1166M1658.5 1165V1166M1659.5 1165V1166M1660.5 1166V1167M1661.5 1167V1169M1662.5 1169V1171M1663.5 1171V1174M1664.5 1174V1176M1665.5 1176V1180M1666.5 1180V1183M1667.5 1183V1186M1668.5 1186V1190M1669.5 1190V1193M1670.5 1193V1197M1671.5 1197V1202M1672.5 1202V1206M1673.5 1206V1210M1674.5 1210V1215M1675.5 1215V1217M1676.5 1217V1220M1677.5 1220V1221M1678.5 1221V1222M1679.5 1221V1222M1680.5 1222V1223M1681.5 1222V1223M1682.5 1222V1223M1683.5 1221V1222M1684.5 1221V1222M1685.5 1220V1221M1686.5 1219V1220M1687.5 1219V1220M1688.5 1219V1220M1689.5 1219V1220M1690.5 1219V1220M1691.5 1220V1221M1692.5 1220V1221M1693.5 1220V1221M1694.5 1220V1221M1695.5 1220V1221M1696.5 1220V1221M1697.5 1219V1220M1698.5 1219V1220M1699.5 1218V1219M1700.5 1218V1219M1701.5 1217V1218M1702.5 1216V1217M1703.5 1215V1216M1704.5 1214V1215M1705.5 1213V1214M1706.5 1212V1213M1707.5 1211V1212M1708.5 1211V1212M1709.5 1210V1212M1710.5 1212V1214M1711.5 1214V1216M1712.5 1216V1218M1713.5 1218V1219M1714.5 1219V1221M1715.5 1221V1222M1716.5 1222V1223M1717.5 1223V1224M1718.5 1224V1225M1719.5 1225V1226M1720.5 1226V1227M1721.5 1226V1227M1722.5 1227V1228M1723.5 1227V1228M1724.5 1227V1228M1725.5 1228V1229M1726.5 1227V1228M1727.5 1227V1228M1728.5 1227V1228M1729.5 1227V1228M1730.5 1227V1228M1731.5 1227V1228M1732.5 1227V1228M1733.5 1227V1228M1734.5 1226V1227M1735.5 1226V1227M1736.5 1226V1227M1737.5 1226V1227M1738.5 1226V1227M1739.5 1226V1227M1740.5 1225V1226M1741.5 1225V1226M1742.5 1225V1226M1743.5 1225V1226M1744.5 1225V1226M1745.5 1224V1225M1746.5 1224V1225M1747.5 1222V1224M1748.5 1220V1222M1749.5 1218V1220M1750.5 1216V1218M1751.5 1212V1216M1752.5 1209V1212M1753.5 1204V1209M1754.5 1198V1204M1755.5 1192V1198M1756.5 1187V1192M1757.5 1184V1187M1758.5 1181V1184M1759.5 1179V1181M1760.5 1177V1179M1761.5 1176V1177M1762.5 1175V1176M1763.5 1174V1175M1764.5 1174V1175M1765.5 1174V1175M1766.5 1175V1176M1767.5 1176V1178M1768.5 1178V1179M1769.5 1179V1180M1770.5 1179V1180M1771.5 1180V1181M1772.5 1181V1182M1773.5 1181V1182M1774.5 1182V1183M1775.5 1182V1183M1776.5 1182V1183M1777.5 1182V1183M1778.5 1182V1183M1779.5 1182V1183M1780.5 1182V1183M1781.5 1182V1183M1782.5 1183V1184M1783.5 1183V1184M1784.5 1184V1185M1785.5 1185V1186M1786.5 1186V1187M1787.5 1187V1188M1788.5 1187V1188M1789.5 1188V1189M1790.5 1188V1189M1791.5 1187V1188M1792.5 1187V1188M1793.5 1186V1187M1794.5 1185V1186M1795.5 1184V1185M1796.5 1182V1184M1797.5 1181V1182M1798.5 1180V1181M1799.5 1179V1180M1800.5 1179V1180M1801.5 1178V1179M1802.5 1178V1179M1803.5 1178V1179M1804.5 1178V1179M1805.5 1177V1178M1806.5 1177V1178M1807.5 1177V1178M1808.5 1177V1178M1809.5 1176V1177M1810.5 1175V1176M1811.5 1173V1175M1812.5 1172V1173M1813.5 1171V1172M1814.5 1170V1171M1815.5 1169V1170M1816.5 1169V1170M1817.5 1168V1169M1818.5 1169V1170M1819.5 1169V1170M1820.5 1170V1171M1821.5 1171V1173M1822.5 1173V1175M1823.5 1175V1177M1824.5 1177V1178M1825.5 1178V1179M1826.5 1179V1180M1827.5 1180V1181M1828.5 1181V1182M1829.5 1182V1183M1830.5 1183V1184M1831.5 1184V1185M1832.5 1185V1186M1833.5 1186V1187M1834.5 1187V1188M1835.5 1188V1189M1836.5 1188V1189M1837.5 1189V1190M1838.5 1190V1191M1839.5 1191V1192M1840.5 1191V1192M1841.5 1191V1192M1842.5 1191V1192M1843.5 1191V1193M1844.5 1190V1191M1845.5 1188V1190M1846.5 1185V1188M1847.5 1184V1185M1848.5 1183V1184M1849.5 1182V1183M1850.5 1181V1182M1851.5 1179V1181M1852.5 1177V1179M1853.5 1176V1177M1854.5 1176V1177M1855.5 1177V1178M1856.5 1178V1179M1857.5 1179V1180M1858.5 1179V1180M1859.5 1179V1180M1860.5 1179V1180M1861.5 1179V1180M1862.5 1177V1179M1863.5 1176V1177M1864.5 1176V1177M1865.5 1175V1176M1866.5 1175V1176M1867.5 1175V1176M1868.5 1176V1177M1869.5 1176V1177M1870.5 1176V1177M1871.5 1176V1177M1872.5 1176V1177M1873.5 1176V1177M1874.5 1176V1177M1875.5 1176V1177M1876.5 1176V1177M1877.5 1175V1176M1878.5 1176V1177M1879.5 1177V1178M1880.5 1177V1178M1881.5 1178V1179M1882.5 1178V1179M1883.5 1179V1180M1884.5 1180V1181M1885.5 1181V1182M1886.5 1182V1184M1887.5 1184V1186M1888.5 1186V1187M1889.5 1187V1189M1890.5 1189V1190M1891.5 1190V1191M1892.5 1190V1191M1893.5 1190V1191M1894.5 1190V1191M1895.5 1190V1191M1896.5 1191V1192M1897.5 1191V1192M1898.5 1191V1192M1899.5 1192V1193M1900.5 1192V1193M1901.5 1193V1194M1902.5 1193V1194M1903.5 1194V1195M1904.5 1194V1195M1905.5 1194V1195M1906.5 1194V1195M1907.5 1194V1195M1908.5 1194V1195M1909.5 1194V1195M1910.5 1194V1195M1911.5 1194V1195M1912.5 1194V1195M1913.5 1194V1195M1914.5 1194V1195M1915.5 1195V1196M1916.5 1195V1196M1917.5 1196V1197M1918.5 1197V1199M1919.5 1199V1200M1920.5 1200V1201M1921.5 1201V1202M1922.5 1202V1203M1923.5 1203V1204M1924.5 1203V1204M1925.5 1204V1205M1926.5 1204V1205M1927.5 1204V1205M1928.5 1205V1206M1929.5 1205V1206M1930.5 1205V1206M1931.5 1205V1206M1932.5 1205V1206M1933.5 1206V1207M1934.5 1206V1207M1935.5 1207V1208M1936.5 1207V1208M1937.5 1206V1209M1938.5 1204V1206M1939.5 1203V1204M1940.5 1202V1203M1941.5 1201V1202M1942.5 1201V1202M1943.5 1200V1201M1944.5 1199V1200M1945.5 1197V1199M1946.5 1195V1197M1947.5 1190V1195M1948.5 1184V1190M1949.5 1182V1184M1950.5 1180V1182M1951.5 1179V1180M1952.5 1179V1180M1953.5 1179V1181M1954.5 1181V1184M1955.5 1184V1185M1956.5 1185V1186M1957.5 1186V1187M1958.5 1187V1188M1959.5 1188V1189M1960.5 1189V1190M1961.5 1190V1191M1962.5 1191V1193M1963.5 1193V1194M1964.5 1193V1194M1965.5 1193V1194M1966.5 1194V1195M1967.5 1194V1195M1968.5 1194V1195M1969.5 1194V1195M1970.5 1194V1195M1971.5 1194V1195M1972.5 1194V1195M1973.5 1195V1196M1974.5 1195V1196M1975.5 1195V1196M1976.5 1195V1196M1977.5 1195V1196M1978.5 1196V1197M1979.5 1196V1198M1980.5 1198V1199M1981.5 1199V1201M1982.5 1201V1203M1983.5 1203V1204M1984.5 1204V1205M1985.5 1205V1206M1986.5 1206V1207M1987.5 1207V1208M1988.5 1208V1209M1989.5 1208V1209M1990.5 1209V1210M1991.5 1210V1211M1992.5 1210V1211M1993.5 1211V1212M1994.5 1211V1212M1995.5 1211V1212M1996.5 1210V1211M1997.5 1210V1211M1998.5 1210V1211M1999.5 1209V1210M2000.5 1207V1209M2001.5 1206V1207M2002.5 1205V1206M2003.5 1204V1205M2004.5 1204V1205M2005.5 1203V1204" stroke="#ffff00" stroke-width="1" fill="none"/>
<path d="M3.5 1194V1197M9.5 1191V1197M11.5 1183V1197M13.5 1181V1197M15.5 1179V1197M17.5 1180V1197M19.5 1181V1197M21.5 1183V1197M23.5 1188V1197M25.5 1193V1197M31.5 1195V1197M61.5 1193V1197M63.5 1183V1197M65.5 1180V1197M67.5 1182V1197M69.5 1187V1197M107.5 1196V1197M109.5 1194V1197M111.5 1189V1197M113.5 1180V1197M115.5 1172V1197M117.5 1168V1197M119.5 1169V1197M121.5 1166V1197M123.5 1166V1197M125.5 1172V1197M127.5 1184V1197M139.5 1196V1197M141.5 1189V1197M143.5 1187V1197M145.5 1186V1197M147.5 1186V1197M149.5 1187V1197M151.5 1187V1197M153.5 1187V1197M155.5 1190V1197M157.5 1194V1197M193.5 1192V1197M201.5 1196V1197M203.5 1194V1197M205.5 1183V1197M207.5 1169V1197M209.5 1162V1197M211.5 1160V1197M213.5 1162V1197M215.5 1164V1197M217.5 1167V1197M219.5 1167V1197M221.5 1163V1197M223.5 1161V1197M225.5 1165V1197M227.5 1171V1197M229.5 1175V1197M231.5 1177V1197M233.5 1178V1197M235.5 1188V1197M275.5 1196V1197M277.5 1192V1197M279.5 1188V1197M281.5 1184V1197M283.5 1180V1197M285.5 1178V1197M287.5 1178V1197M289.5 1178V1197M291.5 1178V1197M293.5 1175V1197M295.5 1175V1197M297.5 1176V1197M299.5 1178V1197M301.5 1180V1197M303.5 1183V1197M305.5 1184V1197M307.5 1183V1197M309.5 1179V1197M311.5 1178V1197M313.5 1178V1197M315.5 1179V1197M317.5 1182V1197M319.5 1184V1197M321.5 1175V1197M323.5 1171V1197M325.5 1170V1197M327.5 1169V1197M329.5 1168V1197M331.5 1169V1197M333.5 1172V1197M335.5 1175V1197M337.5 1174V1197M339.5 1179V1197M341.5 1188V1197M343.5 1196V1197M347.5 1196V1197M349.5 1193V1197M351.5 1194V1197M407.5 1194V1197M409.5 1190V1197M411.5 1192V1197M413.5 1196V1197M433.5 1195V1197M435.5 1192V1197M437.5 1187V1197M439.5 1178V1197M441.5 1173V1197M443.5 1171V1197M445.5 1173V1197M447.5 1178V1197M449.5 1180V1197M451.5 1182V1197M453.5 1184V1197M455.5 1190V1197M457.5 1196V1197M499.5 1194V1197M501.5 1192V1197M503.5 1192V1197M505.5 1192V1197M507.5 1193V1197M509.5 1194V1197M511.5 1196V1197M551.5 1194V1197M553.5 1192V1197M555.5 1188V1197M557.5 1185V1197M559.5 1186V1197M561.5 1189V1197M563.5 1191V1197M565.5 1193V1197M567.5 1195V1197M569.5 1195V1197M571.5 1195V1197M573.5 1196V1197M583.5 1196V1197M585.5 1194V1197M587.5 1194V1197M589.5 1195V1197M591.5 1196V1197M593.5 1196V1197M595.5 1195V1197M597.5 1195V1197M599.5 1194V1197M601.5 1193V1197M603.5 1191V1197M605.5 1187V1197M607.5 1183V1197M609.5 1177V1197M611.5 1172V1197M613.5 1168V1197M615.5 1167V1197M617.5 1170V1197M619.5 1178V1197M621.5 1183V1197M623.5 1185V1197M625.5 1188V1197M627.5 1193V1197M629.5 1196V1197M631.5 1196V1197M661.5 1191V1197M663.5 1183V1197M665.5 1174V1197M667.5 1171V1197M669.5 1169V1197M671.5 1168V1197M673.5 1168V1197M675.5 1169V1197M677.5 1169V1197M679.5 1170V1197M681.5 1173V1197M683.5 1177V1197M685.5 1181V1197M687.5 1183V1197M689.5 1184V1197M691.5 1184V1197M693.5 1181V1197M695.5 1176V1197M697.5 1178V1197M699.5 1181V1197M701.5 1186V1197M703.5 1193V1197M705.5 1196V1197M829.5 1195V1197M831.5 1189V1197M833.5 1187V1197M835.5 1182V1197M837.5 1173V1197M839.5 1172V1197M841.5 1186V1197M857.5 1194V1197M859.5 1190V1197M861.5 1186V1197M863.5 1181V1197M865.5 1177V1197M867.5 1175V1197M869.5 1174V1197M871.5 1174V1197M873.5 1174V1197M875.5 1174V1197M877.5 1175V1197M879.5 1175V1197M881.5 1174V1197M883.5 1173V1197M885.5 1175V1197M887.5 1177V1197M889.5 1181V1197M891.5 1184V1197M893.5 1187V1197M895.5 1192V1197M923.5 1196V1197M925.5 1190V1197M927.5 1184V1197M929.5 1179V1197M931.5 1182V1197M933.5 1185V1197M935.5 1188V1197M937.5 1193V1197M965.5 1195V1197M967.5 1193V1197M969.5 1193V1197M971.5 1194V1197M973.5 1195V1197M1003.5 1196V1197M1005.5 1191V1197M1007.5 1188V1197M1009.5 1186V1197M1011.5 1185V1197M1013.5 1187V1197M1015.5 1189V1197M1017.5 1189V1197M1019.5 1188V1197M1021.5 1186V1197M1023.5 1183V1197M1025.5 1181V1197M1027.5 1182V1197M1029.5 1182V1197M1031.5 1179V1197M1033.5 1177V1197M1035.5 1178V1197M1037.5 1180V1197M1039.5 1185V1197M1041.5 1189V1197M1043.5 1193V1197M1045.5 1196V1197M1073.5 1196V1197M1075.5 1192V1197M1077.5 1188V1197M1079.5 1185V1197M1081.5 1181V1197M1083.5 1179V1197M1085.5 1179V1197M1087.5 1182V1197M1089.5 1185V1197M1091.5 1188V1197M1093.5 1192V1197M1095.5 1194V1197M1097.5 1195V1197M1099.5 1196V1197M1109.5 1196V1197M1111.5 1192V1197M1113.5 1190V1197M1115.5 1188V1197M1117.5 1184V1197M1119.5 1184V1197M1121.5 1191V1197M1159.5 1195V1197M1161.5 1192V1197M1163.5 1189V1197M1165.5 1188V1197M1167.5 1187V1197M1169.5 1187V1197M1171.5 1187V1197M1173.5 1185V1197M1175.5 1182V1197M1177.5 1184V1197M1179.5 1187V1197M1181.5 1190V1197M1183.5 1192V1197M1185.5 1193V1197M1187.5 1194V1197M1197.5 1196V1197M1199.5 1194V1197M1201.5 1194V1197M1233.5 1196V1197M1235.5 1194V1197M1237.5 1192V1197M1239.5 1190V1197M1241.5 1189V1197M1243.5 1188V1197M1245.5 1188V1197M1247.5 1188V1197M1249.5 1189V1197M1251.5 1190V1197M1253.5 1190V1197M1255.5 1189V1197M1257.5 1189V1197M1259.5 1192V1197M1261.5 1196V1197M1275.5 1192V1197M1277.5 1185V1197M1279.5 1180V1197M1281.5 1176V1197M1283.5 1175V1197M1285.5 1175V1197M1287.5 1177V1197M1289.5 1180V1197M1291.5 1183V1197M1293.5 1186V1197M1295.5 1188V1197M1297.5 1193V1197M1299.5 1194V1197M1301.5 1191V1197M1303.5 1189V1197M1305.5 1186V1197M1307.5 1186V1197M1309.5 1189V1197M1311.5 1193V1197M1313.5 1196V1197M1315.5 1196V1197M1317.5 1196V1197M1319.5 1196V1197M1321.5 1196V1197M1323.5 1196V1197M1341.5 1196V1197M1343.5 1196V1197M1395.5 1196V1197M1397.5 1194V1197M1399.5 1190V1197M1401.5 1189V1197M1403.5 1191V1197M1405.5 1192V1197M1407.5 1193V1197M1409.5 1195V1197M1411.5 1193V1197M1413.5 1185V1197M1415.5 1176V1197M1417.5 1169V1197M1419.5 1166V1197M1421.5 1163V1197M1423.5 1162V1197M1425.5 1164V1197M1427.5 1167V1197M1429.5 1171V1197M1431.5 1176V1197M1433.5 1181V1197M1435.5 1189V1197M1479.5 1196V1197M1481.5 1189V1197M1483.5 1184V1197M1485.5 1179V1197M1487.5 1171V1197M1489.5 1162V1197M1491.5 1155V1197M1493.5 1150V1197M1495.5 1148V1197M1497.5 1150V1197M1499.5 1158V1197M1501.5 1165V1197M1503.5 1173V1197M1505.5 1181V1197M1507.5 1184V1197M1509.5 1187V1197M1511.5 1189V1197M1513.5 1192V1197M1515.5 1196V1197M1547.5 1196V1197M1549.5 1191V1197M1551.5 1182V1197M1553.5 1175V1197M1555.5 1171V1197M1557.5 1168V1197M1559.5 1166V1197M1561.5 1163V1197M1563.5 1164V1197M1565.5 1169V1197M1567.5 1174V1197M1569.5 1177V1197M1571.5 1180V1197M1573.5 1182V1197M1575.5 1184V1197M1611.5 1193V1197M1613.5 1187V1197M1615.5 1182V1197M1617.5 1179V1197M1619.5 1177V1197M1621.5 1177V1197M1623.5 1178V1197M1625.5 1179V1197M1627.5 1180V1197M1629.5 1180V1197M1631.5 1176V1197M1633.5 1174V1197M1635.5 1175V1197M1637.5 1178V1197M1639.5 1181V1197M1641.5 1184V1197M1643.5 1185V1197M1645.5 1186V1197M1647.5 1192V1197M1649.5 1196V1197M1701.5 1196V1197M1703.5 1193V1197M1705.5 1191V1197M1707.5 1188V1197M1709.5 1188V1197M1711.5 1196V1197M1741.5 1196V1197M1743.5 1196V1197M1745.5 1195V1197M1747.5 1193V1197M1749.5 1188V1197M1751.5 1182V1197M1753.5 1174V1197M1755.5 1161V1197M1757.5 1150V1197M1759.5 1149V1197M1761.5 1153V1197M1763.5 1158V1197M1765.5 1166V1197M1767.5 1176V1197M1769.5 1184V1197M1771.5 1189V1197M1773.5 1192V1197M1775.5 1194V1197M1777.5 1195V1197M1779.5 1195V1197M1781.5 1196V1197M1795.5 1195V1197M1797.5 1190V1197M1799.5 1188V1197M1801.5 1189V1197M1803.5 1189V1197M1805.5 1190V1197M1807.5 1191V1197M1809.5 1190V1197M1811.5 1188V1197M1813.5 1185V1197M1815.5 1185V1197M1817.5 1185V1197M1819.5 1189V1197M1821.5 1193V1197M1847.5 1192V1197M1849.5 1189V1197M1851.5 1188V1197M1853.5 1183V1197M1855.5 1186V1197M1857.5 1191V1197M1859.5 1193V1197M1861.5 1193V1197M1863.5 1190V1197M1865.5 1190V1197M1867.5 1191V1197M1869.5 1194V1197M1871.5 1194V1197M1873.5 1195V1197M1875.5 1195V1197M1877.5 1193V1197M1939.5 1195V1197M1941.5 1192V1197M1943.5 1191V1197M1945.5 1189V1197M1947.5 1184V1197M1949.5 1169V1197M1951.5 1168V1197M1953.5 1174V1197M1955.5 1185V1197M1957.5 1191V1197M1959.5 1195V1197M2001.5 1195V1197M2003.5 1192V1197M2005.5 1191V1197" stroke="#ff0000" stroke-width="1" fill="none"/>
<path d="M5.5 1196V1198M7.5 1196V1198M27.5 1196V1199M29.5 1196V1198M33.5 1196V1206M35.5 1196V1221M37.5 1196V1234M39.5 1196V1243M41.5 1196V1245M43.5 1196V1241M45.5 1196V1237M47.5 1196V1233M49.5 1196V1230M51.5 1196V1226M53.5 1196V1222M55.5 1196V1218M57.5 1196V1213M59.5 1196V1205M71.5 1196V1204M73.5 1196V1213M75.5 1196V1211M77.5 1196V1211M79.5 1196V1208M81.5 1196V1206M83.5 1196V1207M85.5 1196V1209M87.5 1196V1211M89.5 1196V1209M91.5 1196V1207M93.5 1196V1209M95.5 1196V1213M97.5 1196V1211M99.5 1196V1208M101.5 1196V1203M103.5 1196V1199M105.5 1196V1198M129.5 1196V1199M131.5 1196V1208M133.5 1196V1209M135.5 1196V1209M137.5 1196V1210M159.5 1196V1200M161.5 1196V1202M163.5 1196V1205M165.5 1196V1210M167.5 1196V1213M169.5 1196V1216M171.5 1196V1216M173.5 1196V1215M175.5 1196V1213M177.5 1196V1212M179.5 1196V1219M181.5 1196V1221M183.5 1196V1223M185.5 1196V1223M187.5 1196V1218M189.5 1196V1212M191.5 1196V1201M195.5 1196V1198M197.5 1196V1198M199.5 1196V1198M237.5 1196V1200M239.5 1196V1210M241.5 1196V1215M243.5 1196V1213M245.5 1196V1212M247.5 1196V1213M249.5 1196V1213M251.5 1196V1214M253.5 1196V1222M255.5 1196V1230M257.5 1196V1229M259.5 1196V1226M261.5 1196V1223M263.5 1196V1220M265.5 1196V1218M267.5 1196V1215M269.5 1196V1212M271.5 1196V1207M273.5 1196V1200M345.5 1196V1199M353.5 1196V1198M355.5 1196V1202M357.5 1196V1206M359.5 1196V1206M361.5 1196V1206M363.5 1196V1208M365.5 1196V1212M367.5 1196V1215M369.5 1196V1218M371.5 1196V1221M373.5 1196V1230M375.5 1196V1235M377.5 1196V1231M379.5 1196V1227M381.5 1196V1223M383.5 1196V1220M385.5 1196V1216M387.5 1196V1214M389.5 1196V1213M391.5 1196V1210M393.5 1196V1201M395.5 1196V1199M397.5 1196V1204M399.5 1196V1209M401.5 1196V1211M403.5 1196V1207M405.5 1196V1200M415.5 1196V1200M417.5 1196V1202M419.5 1196V1204M421.5 1196V1205M423.5 1196V1206M425.5 1196V1206M427.5 1196V1206M429.5 1196V1204M431.5 1196V1200M459.5 1196V1202M461.5 1196V1203M463.5 1196V1202M465.5 1196V1200M467.5 1196V1199M469.5 1196V1199M471.5 1196V1199M473.5 1196V1200M475.5 1196V1201M477.5 1196V1200M479.5 1196V1199M481.5 1196V1204M483.5 1196V1206M485.5 1196V1207M487.5 1196V1214M489.5 1196V1219M491.5 1196V1218M493.5 1196V1211M495.5 1196V1204M497.5 1196V1199M513.5 1196V1198M515.5 1196V1199M517.5 1196V1200M519.5 1196V1200M521.5 1196V1200M523.5 1196V1200M525.5 1196V1201M527.5 1196V1202M529.5 1196V1206M531.5 1196V1211M533.5 1196V1216M535.5 1196V1217M537.5 1196V1216M539.5 1196V1213M541.5 1196V1211M543.5 1196V1209M545.5 1196V1208M547.5 1196V1204M549.5 1196V1199M575.5 1196V1199M577.5 1196V1200M579.5 1196V1200M581.5 1196V1199M633.5 1196V1198M635.5 1196V1203M637.5 1196V1210M639.5 1196V1218M641.5 1196V1222M643.5 1196V1223M645.5 1196V1223M647.5 1196V1221M649.5 1196V1218M651.5 1196V1212M653.5 1196V1207M655.5 1196V1204M657.5 1196V1202M659.5 1196V1199M707.5 1196V1200M709.5 1196V1209M711.5 1196V1216M713.5 1196V1218M715.5 1196V1216M717.5 1196V1214M719.5 1196V1208M721.5 1196V1203M723.5 1196V1203M725.5 1196V1202M727.5 1196V1201M729.5 1196V1199M731.5 1196V1198M733.5 1196V1198M735.5 1196V1199M737.5 1196V1202M739.5 1196V1206M741.5 1196V1205M743.5 1196V1206M745.5 1196V1210M747.5 1196V1215M749.5 1196V1221M751.5 1196V1224M753.5 1196V1224M755.5 1196V1224M757.5 1196V1223M759.5 1196V1221M761.5 1196V1216M763.5 1196V1212M765.5 1196V1209M767.5 1196V1207M769.5 1196V1206M771.5 1196V1205M773.5 1196V1204M775.5 1196V1204M777.5 1196V1205M779.5 1196V1208M781.5 1196V1211M783.5 1196V1214M785.5 1196V1215M787.5 1196V1215M789.5 1196V1214M791.5 1196V1211M793.5 1196V1209M795.5 1196V1208M797.5 1196V1207M799.5 1196V1205M801.5 1196V1201M803.5 1196V1198M805.5 1196V1200M807.5 1196V1203M809.5 1196V1202M811.5 1196V1200M813.5 1196V1199M815.5 1196V1200M817.5 1196V1204M819.5 1196V1211M821.5 1196V1217M823.5 1196V1219M825.5 1196V1213M827.5 1196V1205M843.5 1196V1202M845.5 1196V1210M847.5 1196V1212M849.5 1196V1209M851.5 1196V1204M853.5 1196V1200M855.5 1196V1198M897.5 1196V1201M899.5 1196V1206M901.5 1196V1210M903.5 1196V1212M905.5 1196V1212M907.5 1196V1212M909.5 1196V1211M911.5 1196V1210M913.5 1196V1211M915.5 1196V1211M917.5 1196V1210M919.5 1196V1207M921.5 1196V1202M939.5 1196V1198M941.5 1196V1201M943.5 1196V1205M945.5 1196V1208M947.5 1196V1211M949.5 1196V1210M951.5 1196V1207M953.5 1196V1205M955.5 1196V1204M957.5 1196V1203M959.5 1196V1203M961.5 1196V1202M963.5 1196V1200M975.5 1196V1200M977.5 1196V1204M979.5 1196V1207M981.5 1196V1207M983.5 1196V1206M985.5 1196V1208M987.5 1196V1212M989.5 1196V1213M991.5 1196V1213M993.5 1196V1210M995.5 1196V1205M997.5 1196V1202M999.5 1196V1201M1001.5 1196V1200M1047.5 1196V1198M1049.5 1196V1199M1051.5 1196V1199M1053.5 1196V1199M1055.5 1196V1200M1057.5 1196V1201M1059.5 1196V1203M1061.5 1196V1205M1063.5 1196V1207M1065.5 1196V1209M1067.5 1196V1207M1069.5 1196V1204M1071.5 1196V1201M1101.5 1196V1200M1103.5 1196V1200M1105.5 1196V1199M1107.5 1196V1199M1123.5 1196V1211M1125.5 1196V1216M1127.5 1196V1218M1129.5 1196V1220M1131.5 1196V1222M1133.5 1196V1224M1135.5 1196V1224M1137.5 1196V1224M1139.5 1196V1224M1141.5 1196V1226M1143.5 1196V1224M1145.5 1196V1221M1147.5 1196V1216M1149.5 1196V1210M1151.5 1196V1205M1153.5 1196V1199M1155.5 1196V1198M1157.5 1196V1198M1189.5 1196V1198M1191.5 1196V1200M1193.5 1196V1200M1195.5 1196V1199M1203.5 1196V1198M1205.5 1196V1201M1207.5 1196V1203M1209.5 1196V1207M1211.5 1196V1214M1213.5 1196V1213M1215.5 1196V1211M1217.5 1196V1210M1219.5 1196V1209M1221.5 1196V1208M1223.5 1196V1207M1225.5 1196V1206M1227.5 1196V1205M1229.5 1196V1202M1231.5 1196V1199M1263.5 1196V1202M1265.5 1196V1204M1267.5 1196V1206M1269.5 1196V1206M1271.5 1196V1204M1273.5 1196V1199M1325.5 1196V1198M1327.5 1196V1199M1329.5 1196V1200M1331.5 1196V1201M1333.5 1196V1202M1335.5 1196V1202M1337.5 1196V1200M1339.5 1196V1198M1345.5 1196V1199M1347.5 1196V1203M1349.5 1196V1205M1351.5 1196V1206M1353.5 1196V1205M1355.5 1196V1204M1357.5 1196V1204M1359.5 1196V1204M1361.5 1196V1204M1363.5 1196V1205M1365.5 1196V1205M1367.5 1196V1207M1369.5 1196V1211M1371.5 1196V1213M1373.5 1196V1214M1375.5 1196V1213M1377.5 1196V1210M1379.5 1196V1207M1381.5 1196V1204M1383.5 1196V1202M1385.5 1196V1200M1387.5 1196V1199M1389.5 1196V1199M1391.5 1196V1199M1393.5 1196V1198M1437.5 1196V1202M1439.5 1196V1211M1441.5 1196V1217M1443.5 1196V1220M1445.5 1196V1221M1447.5 1196V1221M1449.5 1196V1220M1451.5 1196V1218M1453.5 1196V1215M1455.5 1196V1212M1457.5 1196V1210M1459.5 1196V1208M1461.5 1196V1206M1463.5 1196V1203M1465.5 1196V1201M1467.5 1196V1200M1469.5 1196V1200M1471.5 1196V1200M1473.5 1196V1199M1475.5 1196V1199M1477.5 1196V1198M1517.5 1196V1201M1519.5 1196V1206M1521.5 1196V1213M1523.5 1196V1215M1525.5 1196V1216M1527.5 1196V1217M1529.5 1196V1217M1531.5 1196V1218M1533.5 1196V1221M1535.5 1196V1219M1537.5 1196V1215M1539.5 1196V1211M1541.5 1196V1207M1543.5 1196V1203M1545.5 1196V1200M1577.5 1196V1203M1579.5 1196V1230M1581.5 1196V1244M1583.5 1196V1254M1585.5 1196V1258M1587.5 1196V1254M1589.5 1196V1247M1591.5 1196V1241M1593.5 1196V1235M1595.5 1196V1230M1597.5 1196V1225M1599.5 1196V1220M1601.5 1196V1214M1603.5 1196V1210M1605.5 1196V1206M1607.5 1196V1202M1609.5 1196V1198M1651.5 1196V1201M1653.5 1196V1204M1655.5 1196V1205M1657.5 1196V1205M1659.5 1196V1204M1661.5 1196V1205M1663.5 1196V1210M1665.5 1196V1216M1667.5 1196V1223M1669.5 1196V1229M1671.5 1196V1235M1673.5 1196V1241M1675.5 1196V1246M1677.5 1196V1246M1679.5 1196V1238M1681.5 1196V1230M1683.5 1196V1223M1685.5 1196V1215M1687.5 1196V1210M1689.5 1196V1208M1691.5 1196V1207M1693.5 1196V1206M1695.5 1196V1204M1697.5 1196V1201M1699.5 1196V1199M1713.5 1196V1203M1715.5 1196V1207M1717.5 1196V1209M1719.5 1196V1210M1721.5 1196V1209M1723.5 1196V1209M1725.5 1196V1207M1727.5 1196V1204M1729.5 1196V1202M1731.5 1196V1201M1733.5 1196V1200M1735.5 1196V1200M1737.5 1196V1199M1739.5 1196V1198M1783.5 1196V1199M1785.5 1196V1201M1787.5 1196V1203M1789.5 1196V1204M1791.5 1196V1202M1793.5 1196V1199M1823.5 1196V1202M1825.5 1196V1206M1827.5 1196V1207M1829.5 1196V1208M1831.5 1196V1210M1833.5 1196V1210M1835.5 1196V1210M1837.5 1196V1210M1839.5 1196V1210M1841.5 1196V1208M1843.5 1196V1207M1845.5 1196V1201M1879.5 1196V1198M1881.5 1196V1200M1883.5 1196V1201M1885.5 1196V1203M1887.5 1196V1207M1889.5 1196V1211M1891.5 1196V1212M1893.5 1196V1210M1895.5 1196V1208M1897.5 1196V1206M1899.5 1196V1206M1901.5 1196V1206M1903.5 1196V1206M1905.5 1196V1205M1907.5 1196V1204M1909.5 1196V1203M1911.5 1196V1201M1913.5 1196V1200M1915.5 1196V1201M1917.5 1196V1202M1919.5 1196V1205M1921.5 1196V1207M1923.5 1196V1208M1925.5 1196V1208M1927.5 1196V1207M1929.5 1196V1206M1931.5 1196V1205M1933.5 1196V1204M1935.5 1196V1204M1937.5 1196V1204M1961.5 1196V1201M1963.5 1196V1204M1965.5 1196V1204M1967.5 1196V1203M1969.5 1196V1202M1971.5 1196V1202M1973.5 1196V1201M1975.5 1196V1201M1977.5 1196V1201M1979.5 1196V1202M1981.5 1196V1206M1983.5 1196V1210M1985.5 1196V1211M1987.5 1196V1211M1989.5 1196V1211M1991.5 1196V1210M1993.5 1196V1209M1995.5 1196V1207M1997.5 1196V1204M1999.5 1196V1201" stroke="#0000ff" stroke-width="1" fill="none"/>
<path d="M2003 4H2012L2007.5 9Z" fill="#778899"/>
<path d="M6 10H13L9.5 14Z" fill="#fff"/>
<rect x="2512" y="193" width="41" height="11" fill="#fff"/>
</g>
<text class="ax" x="2516" y="26" textLength="33" lengthAdjust="spacingAndGlyphs">4386.10</text>
<text class="ax" x="2516" y="59" textLength="33" lengthAdjust="spacingAndGlyphs">4375.00</text>
<text class="ax" x="2516" y="92" textLength="33" lengthAdjust="spacingAndGlyphs">4363.60</text>
<text class="ax" x="2516" y="125" textLength="33" lengthAdjust="spacingAndGlyphs">4352.50</text>
<text class="ax" x="2516" y="158" textLength="33" lengthAdjust="spacingAndGlyphs">4341.10</text>
<text class="ax" x="2516" y="191" textLength="33" lengthAdjust="spacingAndGlyphs">4330.00</text>
<text class="ax" x="2516" y="224" textLength="33" lengthAdjust="spacingAndGlyphs">4318.60</text>
<text class="ax" x="2516" y="257" textLength="33" lengthAdjust="spacingAndGlyphs">4307.20</text>
<text class="ax" x="2516" y="290" textLength="33" lengthAdjust="spacingAndGlyphs">4296.10</text>
<text class="ax" x="2516" y="323" textLength="33" lengthAdjust="spacingAndGlyphs">4284.70</text>
<text class="ax" x="2516" y="356" textLength="33" lengthAdjust="spacingAndGlyphs">4273.60</text>
<text class="ax" x="2516" y="389" textLength="33" lengthAdjust="spacingAndGlyphs">4262.20</text>
<text class="ax" x="2516" y="422" textLength="33" lengthAdjust="spacingAndGlyphs">4251.10</text>
<text class="ax" x="2516" y="455" textLength="33" lengthAdjust="spacingAndGlyphs">4239.70</text>
<text class="ax" x="2516" y="488" textLength="33" lengthAdjust="spacingAndGlyphs">4228.30</text>
<text class="ax" x="2516" y="521" textLength="33" lengthAdjust="spacingAndGlyphs">4217.20</text>
<text class="ax" x="2516" y="554" textLength="33" lengthAdjust="spacingAndGlyphs">4205.80</text>
<text class="ax" x="2516" y="587" textLength="33" lengthAdjust="spacingAndGlyphs">4194.70</text>
<text class="ax" x="2516" y="620" textLength="33" lengthAdjust="spacingAndGlyphs">4183.30</text>
<text class="ax" x="2516" y="653" textLength="33" lengthAdjust="spacingAndGlyphs">4172.20</text>
<text class="ax" x="2516" y="686" textLength="33" lengthAdjust="spacingAndGlyphs">4160.80</text>
<text class="ax" x="2516" y="719" textLength="33" lengthAdjust="spacingAndGlyphs">4149.70</text>
<text class="ax" x="2516" y="752" textLength="33" lengthAdjust="spacingAndGlyphs">4138.30</text>
<text class="ax" x="2516" y="785" textLength="33" lengthAdjust="spacingAndGlyphs">4126.90</text>
<text class="ax" x="2516" y="818" textLength="33" lengthAdjust="spacingAndGlyphs">4115.80</text>
<text class="ax" x="2516" y="851" textLength="33" lengthAdjust="spacingAndGlyphs">4104.40</text>
<text class="ax" x="2516" y="884" textLength="33" lengthAdjust="spacingAndGlyphs">4093.30</text>
<text class="ax" x="2516" y="917" textLength="33" lengthAdjust="spacingAndGlyphs">4081.90</text>
<text class="ax" x="2516" y="950" textLength="33" lengthAdjust="spacingAndGlyphs">4070.80</text>
<text class="ax" x="2516" y="983" textLength="33" lengthAdjust="spacingAndGlyphs">4059.40</text>
<text class="ax" x="2516" y="1016" textLength="33" lengthAdjust="spacingAndGlyphs">4048.00</text>
<text class="ax" x="2516" y="1049" textLength="33" lengthAdjust="spacingAndGlyphs">4036.90</text>
<text class="ax" x="2516" y="1082" textLength="33" lengthAdjust="spacingAndGlyphs">4025.50</text>
<text class="ax" x="2516" y="1115" textLength="33" lengthAdjust="spacingAndGlyphs">4014.40</text>
<text class="ax" x="2516" y="203" textLength="33" lengthAdjust="spacingAndGlyphs" style="fill:#000">4326.00</text>
<text class="ax" x="2514" y="1128" textLength="33" lengthAdjust="spacingAndGlyphs">20.4069</text>
<text class="ax" x="2514" y="1200" textLength="18" lengthAdjust="spacingAndGlyphs">0.00</text>
<text class="ax" x="2514" y="1261.5" textLength="36" lengthAdjust="spacingAndGlyphs">-17.6053</text>
<text class="ax" x="18" y="15.5" textLength="207" lengthAdjust="spacingAndGlyphs" style="white-space:pre">XAUUSD,M30 &#160;4326.14 4326.49 4323.11 4326.00</text>
<text class="ax" x="7" y="1129.5" textLength="196" lengthAdjust="spacingAndGlyphs">MACD(12,26,9) -1.7946 -2.5124 1.4356 0.0000</text>
<text x="1148" y="1065.5" style="font-size:48.5px;fill:#3f9cf5">黄金30分钟周期图</text>
<text x="0" y="0" transform="translate(2146.5,1195.5) scale(1,0.975)" style="font-size:92px;letter-spacing:-1.9px;fill:#fff;font-weight:500;stroke:#fff;stroke-width:0.3px">缠禅说缠</text>
</svg>
</body></html>
